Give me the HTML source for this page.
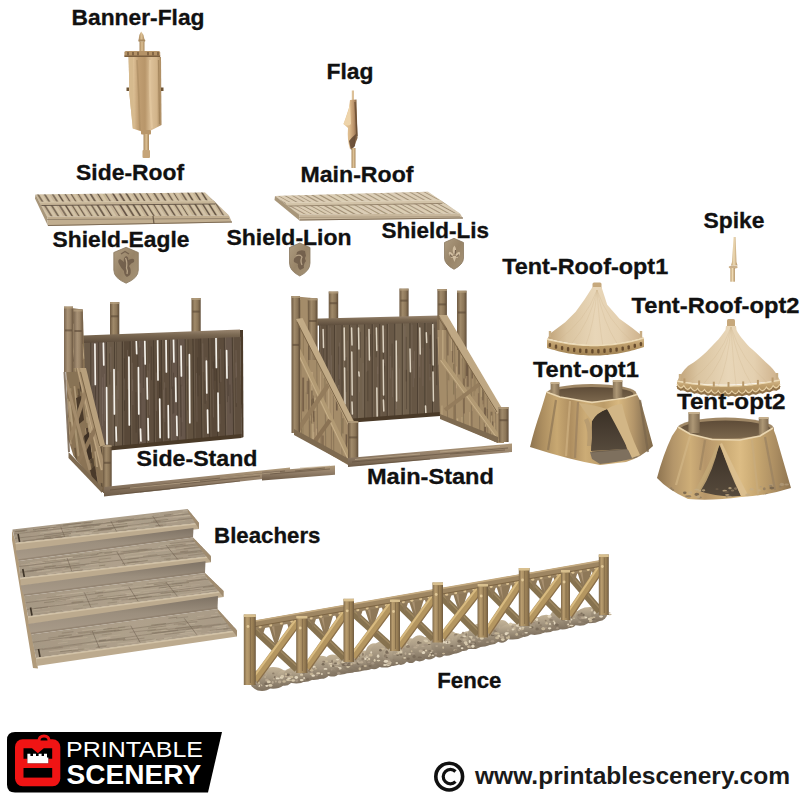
<!DOCTYPE html>
<html><head><meta charset="utf-8">
<style>
html,body{margin:0;padding:0;background:#fff;width:800px;height:800px;overflow:hidden}
svg{position:absolute;left:0;top:0;display:block}
.t{font-family:"Liberation Sans",sans-serif;font-weight:bold;font-size:22px;fill:#111;stroke:#111;stroke-width:0.3px}
</style></head>
<body>
<svg width="800" height="800" viewBox="0 0 800 800">
<defs>
<linearGradient id="banG" x1="0" y1="0" x2="1" y2="0"><stop offset="0" stop-color="#c8a87c"/><stop offset="0.12" stop-color="#e2c69c"/><stop offset="0.3" stop-color="#c09e72"/><stop offset="0.5" stop-color="#b8966a"/><stop offset="0.68" stop-color="#dcc098"/><stop offset="0.85" stop-color="#d2b48a"/><stop offset="1" stop-color="#a8885e"/></linearGradient>
<linearGradient id="poleG" x1="0" y1="0" x2="1" y2="0"><stop offset="0" stop-color="#a8875c"/><stop offset="0.5" stop-color="#dcc094"/><stop offset="1" stop-color="#a8875c"/></linearGradient>
<linearGradient id="flagG" x1="0" y1="0" x2="1" y2="0"><stop offset="0" stop-color="#e8cda2"/><stop offset="0.45" stop-color="#dcb98a"/><stop offset="0.75" stop-color="#b89068"/><stop offset="1" stop-color="#6e5236"/></linearGradient>
<linearGradient id="spkG" x1="0" y1="0" x2="1" y2="0"><stop offset="0" stop-color="#b89868"/><stop offset="0.45" stop-color="#f0dcb6"/><stop offset="1" stop-color="#b08e60"/></linearGradient>
<linearGradient id="shG" x1="0" y1="0" x2="1" y2="1"><stop offset="0" stop-color="#ae9c80"/><stop offset="0.5" stop-color="#988468"/><stop offset="1" stop-color="#a69478"/></linearGradient>
<clipPath id="c1"><polygon points="35.5,194.5 205.0,192.5 229.0,215.5 47.0,216.5"/></clipPath>
<clipPath id="c2"><polygon points="275.0,196.0 428.0,191.8 460.0,213.5 299.0,214.5"/></clipPath>
<linearGradient id="postG" x1="0" y1="0" x2="1" y2="0"><stop offset="0" stop-color="#6e5a42"/><stop offset="0.35" stop-color="#a08a6a"/><stop offset="0.7" stop-color="#8c7658"/><stop offset="1" stop-color="#5e4c38"/></linearGradient>
<linearGradient id="sideG" x1="0" y1="0" x2="1" y2="1"><stop offset="0" stop-color="#a08868"/><stop offset="0.5" stop-color="#b09878"/><stop offset="1" stop-color="#8e7858"/></linearGradient>
<linearGradient id="postG2" x1="0" y1="0" x2="1" y2="0"><stop offset="0" stop-color="#7a6650"/><stop offset="0.4" stop-color="#a89276"/><stop offset="0.7" stop-color="#9a8468"/><stop offset="1" stop-color="#6e5a44"/></linearGradient>
<linearGradient id="trG" x1="0" y1="0" x2="0" y2="1"><stop offset="0" stop-color="#9a8670"/><stop offset="0.4" stop-color="#7a6852"/><stop offset="1" stop-color="#5a4a3a"/></linearGradient>
<linearGradient id="railG" x1="0" y1="0" x2="0" y2="1"><stop offset="0" stop-color="#b09a7a"/><stop offset="0.45" stop-color="#94806a"/><stop offset="1" stop-color="#6e5c48"/></linearGradient>
<clipPath id="c3"><polygon points="64.0,307.0 82.7,309.5 85.0,372.0 104.5,445.0 111.5,493.0 102.0,492.0 73.5,456.0 68.5,440.0"/></clipPath>
<clipPath id="c4"><polygon points="64.0,307.0 82.7,309.5 85.0,372.0 104.5,445.0 111.5,493.0 102.0,492.0 73.5,456.0 68.5,440.0"/></clipPath>
<clipPath id="c5"><polygon points="437.0,316.0 447.0,316.0 502.0,410.0 504.0,443.0 498.0,443.0 440.0,418.0"/></clipPath>
<clipPath id="c6"><polygon points="437.0,316.0 447.0,316.0 502.0,410.0 504.0,443.0 498.0,443.0 440.0,418.0"/></clipPath>
<clipPath id="c7"><polygon points="291.5,296.0 317.4,298.4 317.4,357.0 354.0,421.0 358.0,421.0 358.0,465.0 348.0,465.0 294.0,433.0"/></clipPath>
<clipPath id="c8"><polygon points="291.5,296.0 317.4,298.4 317.4,357.0 354.0,421.0 358.0,421.0 358.0,465.0 348.0,465.0 294.0,433.0"/></clipPath>
<linearGradient id="coneG" x1="0" y1="0" x2="1" y2="0"><stop offset="0" stop-color="#c0a278"/><stop offset="0.2" stop-color="#dac4a0"/><stop offset="0.5" stop-color="#e8d6b8"/><stop offset="0.75" stop-color="#e4d0b0"/><stop offset="1" stop-color="#cdb08a"/></linearGradient>
<linearGradient id="bandG" x1="0" y1="0" x2="0" y2="1"><stop offset="0" stop-color="#d8bc8e"/><stop offset="0.35" stop-color="#bf9f6c"/><stop offset="1" stop-color="#9e8052"/></linearGradient>
<linearGradient id="tentG" x1="0" y1="0" x2="1" y2="0"><stop offset="0" stop-color="#8e7450"/><stop offset="0.1" stop-color="#ac8e60"/><stop offset="0.22" stop-color="#c8a872"/><stop offset="0.33" stop-color="#ae8e60"/><stop offset="0.45" stop-color="#ccac76"/><stop offset="0.6" stop-color="#bc9c68"/><stop offset="0.72" stop-color="#d8b880"/><stop offset="0.84" stop-color="#b4966a"/><stop offset="0.92" stop-color="#927a58"/><stop offset="1" stop-color="#806a4a"/></linearGradient>
<linearGradient id="tentG2" x1="0" y1="0" x2="1" y2="0"><stop offset="0" stop-color="#8e7450"/><stop offset="0.12" stop-color="#b4966a"/><stop offset="0.25" stop-color="#ceae78"/><stop offset="0.36" stop-color="#b6966a"/><stop offset="0.5" stop-color="#caaa74"/><stop offset="0.62" stop-color="#dcbc84"/><stop offset="0.75" stop-color="#c6a670"/><stop offset="0.88" stop-color="#ac8e62"/><stop offset="1" stop-color="#8e7450"/></linearGradient>
<linearGradient id="tpG" x1="0" y1="0" x2="1" y2="0"><stop offset="0" stop-color="#8a765a"/><stop offset="0.4" stop-color="#ae9876"/><stop offset="1" stop-color="#7e6a50"/></linearGradient>
<linearGradient id="inG" x1="0" y1="0" x2="0" y2="1"><stop offset="0" stop-color="#5e4c38"/><stop offset="1" stop-color="#7a664c"/></linearGradient>
<linearGradient id="darkG" x1="0" y1="0" x2="0" y2="1"><stop offset="0" stop-color="#3a3026"/><stop offset="1" stop-color="#564a3c"/></linearGradient>
<clipPath id="t2c"><path d="M678 427 L690 434 L712 439.5 L740 440 L760 436 L773 428 L776 436 L791 488 Q766 496 741 497 Q712 501 688 499 Q668 490 657 478 Q663 455 672 436 Z"/></clipPath>
<linearGradient id="treadG" x1="0" y1="0" x2="1" y2="0"><stop offset="0" stop-color="#a69884"/><stop offset="0.5" stop-color="#afa18c"/><stop offset="1" stop-color="#a89a86"/></linearGradient>
<linearGradient id="riserG" x1="0" y1="0" x2="0" y2="1"><stop offset="0" stop-color="#7e7264"/><stop offset="0.45" stop-color="#9c8f7e"/><stop offset="1" stop-color="#aa9c8a"/></linearGradient>
<clipPath id="c9"><polygon points="12.5,529.5 187.5,509.0 199.0,523.0 15.6,543.0"/></clipPath>
<clipPath id="c10"><polygon points="18.5,561.0 193.0,537.5 211.0,556.3 20.3,578.0"/></clipPath>
<clipPath id="c11"><polygon points="24.0,596.0 205.0,573.0 223.5,591.0 28.0,616.5"/></clipPath>
<clipPath id="c12"><polygon points="31.0,634.6 217.5,609.0 237.0,630.4 36.0,658.0"/></clipPath>
<linearGradient id="fpG" x1="0" y1="0" x2="1" y2="0"><stop offset="0" stop-color="#7e6848"/><stop offset="0.25" stop-color="#b89c6e"/><stop offset="0.5" stop-color="#a88e62"/><stop offset="0.8" stop-color="#927850"/><stop offset="1" stop-color="#6e5a40"/></linearGradient>
<linearGradient id="rubG" x1="0" y1="0" x2="0" y2="1"><stop offset="0" stop-color="#c4b498"/><stop offset="0.5" stop-color="#a49680"/><stop offset="1" stop-color="#7e705e"/></linearGradient>
</defs>
<rect width="800" height="800" fill="#ffffff"/>

<!-- OBJECTS -->
<g id="objects">
<path d="M141.2 31.5 L143.5 35 L144.6 40 L138.6 40 L139.3 35 Z" fill="url(#poleG)"/>
<rect x="138.3" y="39.5" width="7" height="2.2" rx="1" fill="#a88a60"/>
<rect x="139.5" y="41.5" width="5" height="10" fill="url(#poleG)"/>
<path d="M128.6 57 L161 57 L161.5 125 L146 133 L132.8 128.5 L129.5 95 Z" fill="url(#banG)"/>
<path d="M128.6 57 L133 57 L134 128.5 L132.8 128.5 L129.5 95 Z" fill="#d6ba8e"/>
<path d="M137 60 Q139 95 140 130" stroke="#a88a60" stroke-width="1.6" fill="none" opacity="0.6"/>
<path d="M150 60 Q149 95 152 128" stroke="#e6cca4" stroke-width="2" fill="none" opacity="0.6"/>
<path d="M158.5 60 L159.5 124" stroke="#9a7c54" stroke-width="1.2" fill="none" opacity="0.7"/>
<rect x="124.4" y="51" width="35.8" height="6" rx="1.5" fill="#b49266"/>
<rect x="124.4" y="55.5" width="35.8" height="1.5" fill="#7a5e3e"/>
<rect x="127" y="52" width="2" height="3.5" fill="#846746"/>
<rect x="132" y="52" width="2" height="3.5" fill="#846746"/>
<rect x="137" y="52" width="2" height="3.5" fill="#846746"/>
<rect x="147" y="52" width="2" height="3.5" fill="#846746"/>
<rect x="152" y="52" width="2" height="3.5" fill="#846746"/>
<rect x="157" y="52" width="2" height="3.5" fill="#846746"/>
<rect x="126.5" y="87.5" width="2.5" height="3.5" fill="#6e5536"/><rect x="161" y="87.5" width="2.5" height="3.5" fill="#6e5536"/>
<rect x="141" y="130" width="10" height="4.5" rx="1" fill="#b8966a"/>
<rect x="143.5" y="134" width="5.5" height="17" fill="url(#poleG)"/>
<rect x="142.5" y="150" width="7.5" height="8" rx="1" fill="#c6a478"/>
<rect x="351.8" y="90.5" width="2.2" height="11" fill="#dcc098"/>
<path d="M350 100 L356.5 99.5 L357.5 138 L354 147 L350 149 Q347 140 348 128 L343.5 124 Q346 117 349 108 Z" fill="url(#flagG)"/>
<path d="M343.5 124 Q347 116 350 104 L351 124 Q348 127 343.5 124 Z" fill="#eed4aa"/>
<path d="M349 141 Q352 137 356 134 L355 146 L351 150 Z" fill="#5e4430" opacity="0.85"/>
<path d="M355 102 L357 136" stroke="#6a4c32" stroke-width="1.4" opacity="0.8"/>
<rect x="351.5" y="148" width="4" height="20" fill="url(#poleG)"/>
<path d="M733.6 237 L735.6 237 L736.5 262 L737.5 265.5 L731 265.5 L732 262 Z" fill="url(#spkG)"/>
<ellipse cx="733.2" cy="267" rx="4.5" ry="1.6" fill="#cbb08a"/>
<rect x="730.4" y="268" width="4.5" height="13.7" fill="url(#spkG)"/>
<path d="M113.8 252.5 L126.1 247.3 L138.3 252.5 L138.3 270.0 Q138.3 278.2 126.1 283.2 Q113.8 278.2 113.8 270.0 Z" fill="url(#shG)"/>
<path d="M113.8 252.5 L126.1 247.3 L138.3 252.5 L138.3 270.0 Q138.3 278.2 126.1 283.2 Q113.8 278.2 113.8 270.0 Z" fill="none" stroke="#8a7860" stroke-width="0.8"/>
<path d="M126 256 Q129 257 128 260 L131 259 Q135 258 134 262 Q131 263 129 266 Q132 270 130 275 L127 277 Q124 275 124 271 Q121 268 119 264 Q117 260 120 259 Q123 261 124 262 Q123 258 126 256 Z" fill="#6a5846" opacity="0.8"/><path d="M125.5 258 Q127.5 262 126.5 268 Q128 271 127 274" stroke="#c8b496" stroke-width="1.3" fill="none" opacity="0.8"/><path d="M121 254 L125 251.5 L129 254" stroke="#6a5846" stroke-width="1.4" fill="none" opacity="0.8"/>
<path d="M289.5 247.5 L299.8 243.0 L310.0 247.5 L310.0 263.0 Q310.0 271.0 299.8 276.0 Q289.5 271.0 289.5 263.0 Z" fill="url(#shG)"/>
<path d="M289.5 247.5 L299.8 243.0 L310.0 247.5 L310.0 263.0 Q310.0 271.0 299.8 276.0 Q289.5 271.0 289.5 263.0 Z" fill="none" stroke="#8a7860" stroke-width="0.8"/>
<path d="M297 252 Q301 249 305 251 L306 256 Q304 258 306 261 Q303 264 304 268 L300 270 Q297 267 298 264 L294 262 Q293 258 296 257 Z" fill="#6a5846" opacity="0.8"/><path d="M296 256 Q300 254 302 257 Q300 261 302 265" stroke="#c8b496" stroke-width="1.3" fill="none" opacity="0.8"/>
<path d="M444.5 242.5 L454.0 238.3 L463.5 242.5 L463.5 258.0 Q463.5 264.3 454.0 269.3 Q444.5 264.3 444.5 258.0 Z" fill="url(#shG)"/>
<path d="M444.5 242.5 L454.0 238.3 L463.5 242.5 L463.5 258.0 Q463.5 264.3 454.0 269.3 Q444.5 264.3 444.5 258.0 Z" fill="none" stroke="#8a7860" stroke-width="0.8"/>
<path d="M454.4 245.5 Q457.5 249.5 455 254.5 L453.8 254.5 Q451.3 249.5 454.4 245.5 Z M453.5 254.5 Q448.5 249.5 448.8 254 Q449.3 257 452.3 256.3 Z M455.3 254.5 Q460.3 249.5 460 254 Q459.5 257 456.5 256.3 Z M450.8 256 H458 V257.8 H450.8 Z M452.8 257.8 L454.4 262 L456 257.8 Z" fill="#d0bda0"/><path d="M450 254.5 Q451 256.5 452.5 256.5 M458.8 254.5 Q457.8 256.5 456.3 256.5 M455.5 250 Q455.5 253 454.8 254.5" stroke="#5a4838" stroke-width="1.1" fill="none" opacity="0.8"/>
<polygon points="35.5,194.5 205.0,192.5 229.0,215.5 47.0,216.5" fill="#c6b598" />
<g clip-path="url(#c1)"><line x1="8.0" y1="190.5" x2="25.5" y2="218.5" stroke="#54463a" stroke-width="1.1" opacity="0.81"/><line x1="11.2" y1="190.5" x2="28.6" y2="218.5" stroke="#dccdb2" stroke-width="2.4" opacity="0.6"/><line x1="15.6" y1="190.5" x2="33.1" y2="218.5" stroke="#54463a" stroke-width="1.2" opacity="0.72"/><line x1="18.7" y1="190.5" x2="36.2" y2="218.5" stroke="#dccdb2" stroke-width="2.4" opacity="0.6"/><line x1="22.4" y1="190.5" x2="39.9" y2="218.5" stroke="#54463a" stroke-width="1.5" opacity="0.80"/><line x1="25.6" y1="190.5" x2="43.1" y2="218.5" stroke="#dccdb2" stroke-width="2.4" opacity="0.6"/><line x1="28.6" y1="190.5" x2="46.1" y2="218.5" stroke="#54463a" stroke-width="1.0" opacity="0.81"/><line x1="31.7" y1="190.5" x2="49.2" y2="218.5" stroke="#dccdb2" stroke-width="2.4" opacity="0.6"/><line x1="35.5" y1="190.5" x2="53.0" y2="218.5" stroke="#54463a" stroke-width="1.6" opacity="0.60"/><line x1="38.6" y1="190.5" x2="56.1" y2="218.5" stroke="#dccdb2" stroke-width="2.4" opacity="0.6"/><line x1="42.3" y1="190.5" x2="59.8" y2="218.5" stroke="#54463a" stroke-width="1.6" opacity="0.65"/><line x1="45.5" y1="190.5" x2="63.0" y2="218.5" stroke="#dccdb2" stroke-width="2.4" opacity="0.6"/><line x1="50.3" y1="190.5" x2="67.8" y2="218.5" stroke="#54463a" stroke-width="1.7" opacity="0.60"/><line x1="53.4" y1="190.5" x2="70.9" y2="218.5" stroke="#dccdb2" stroke-width="2.4" opacity="0.6"/><line x1="56.3" y1="190.5" x2="73.8" y2="218.5" stroke="#54463a" stroke-width="1.4" opacity="0.83"/><line x1="59.4" y1="190.5" x2="76.9" y2="218.5" stroke="#dccdb2" stroke-width="2.4" opacity="0.6"/><line x1="63.0" y1="190.5" x2="80.5" y2="218.5" stroke="#54463a" stroke-width="1.2" opacity="0.70"/><line x1="66.2" y1="190.5" x2="83.7" y2="218.5" stroke="#dccdb2" stroke-width="2.4" opacity="0.6"/><line x1="69.0" y1="190.5" x2="86.5" y2="218.5" stroke="#54463a" stroke-width="1.2" opacity="0.71"/><line x1="72.2" y1="190.5" x2="89.7" y2="218.5" stroke="#dccdb2" stroke-width="2.4" opacity="0.6"/><line x1="76.0" y1="190.5" x2="93.5" y2="218.5" stroke="#54463a" stroke-width="1.2" opacity="0.65"/><line x1="79.2" y1="190.5" x2="96.7" y2="218.5" stroke="#dccdb2" stroke-width="2.4" opacity="0.6"/><line x1="82.4" y1="190.5" x2="99.9" y2="218.5" stroke="#54463a" stroke-width="1.4" opacity="0.67"/><line x1="85.6" y1="190.5" x2="103.1" y2="218.5" stroke="#dccdb2" stroke-width="2.4" opacity="0.6"/><line x1="88.4" y1="190.5" x2="105.9" y2="218.5" stroke="#54463a" stroke-width="1.7" opacity="0.74"/><line x1="91.6" y1="190.5" x2="109.1" y2="218.5" stroke="#dccdb2" stroke-width="2.4" opacity="0.6"/><line x1="95.7" y1="190.5" x2="113.2" y2="218.5" stroke="#54463a" stroke-width="1.1" opacity="0.85"/><line x1="98.9" y1="190.5" x2="116.4" y2="218.5" stroke="#dccdb2" stroke-width="2.4" opacity="0.6"/><line x1="103.5" y1="190.5" x2="121.0" y2="218.5" stroke="#54463a" stroke-width="1.1" opacity="0.68"/><line x1="106.6" y1="190.5" x2="124.1" y2="218.5" stroke="#dccdb2" stroke-width="2.4" opacity="0.6"/><line x1="111.0" y1="190.5" x2="128.5" y2="218.5" stroke="#54463a" stroke-width="1.6" opacity="0.83"/><line x1="114.1" y1="190.5" x2="131.6" y2="218.5" stroke="#dccdb2" stroke-width="2.4" opacity="0.6"/><line x1="117.8" y1="190.5" x2="135.3" y2="218.5" stroke="#54463a" stroke-width="1.7" opacity="0.77"/><line x1="120.9" y1="190.5" x2="138.4" y2="218.5" stroke="#dccdb2" stroke-width="2.4" opacity="0.6"/><line x1="124.4" y1="190.5" x2="141.9" y2="218.5" stroke="#54463a" stroke-width="1.5" opacity="0.82"/><line x1="127.5" y1="190.5" x2="145.0" y2="218.5" stroke="#dccdb2" stroke-width="2.4" opacity="0.6"/><line x1="132.1" y1="190.5" x2="149.6" y2="218.5" stroke="#54463a" stroke-width="1.4" opacity="0.75"/><line x1="135.3" y1="190.5" x2="152.8" y2="218.5" stroke="#dccdb2" stroke-width="2.4" opacity="0.6"/><line x1="138.1" y1="190.5" x2="155.6" y2="218.5" stroke="#54463a" stroke-width="1.2" opacity="0.80"/><line x1="141.3" y1="190.5" x2="158.8" y2="218.5" stroke="#dccdb2" stroke-width="2.4" opacity="0.6"/><line x1="144.9" y1="190.5" x2="162.4" y2="218.5" stroke="#54463a" stroke-width="1.1" opacity="0.73"/><line x1="148.1" y1="190.5" x2="165.6" y2="218.5" stroke="#dccdb2" stroke-width="2.4" opacity="0.6"/><line x1="152.4" y1="190.5" x2="169.9" y2="218.5" stroke="#54463a" stroke-width="1.5" opacity="0.69"/><line x1="155.5" y1="190.5" x2="173.0" y2="218.5" stroke="#dccdb2" stroke-width="2.4" opacity="0.6"/><line x1="159.2" y1="190.5" x2="176.7" y2="218.5" stroke="#54463a" stroke-width="1.4" opacity="0.79"/><line x1="162.4" y1="190.5" x2="179.9" y2="218.5" stroke="#dccdb2" stroke-width="2.4" opacity="0.6"/><line x1="166.3" y1="190.5" x2="183.8" y2="218.5" stroke="#54463a" stroke-width="1.3" opacity="0.72"/><line x1="169.4" y1="190.5" x2="186.9" y2="218.5" stroke="#dccdb2" stroke-width="2.4" opacity="0.6"/><line x1="172.3" y1="190.5" x2="189.8" y2="218.5" stroke="#54463a" stroke-width="1.0" opacity="0.77"/><line x1="175.5" y1="190.5" x2="193.0" y2="218.5" stroke="#dccdb2" stroke-width="2.4" opacity="0.6"/><line x1="180.3" y1="190.5" x2="197.8" y2="218.5" stroke="#54463a" stroke-width="1.5" opacity="0.70"/><line x1="183.5" y1="190.5" x2="201.0" y2="218.5" stroke="#dccdb2" stroke-width="2.4" opacity="0.6"/><line x1="186.6" y1="190.5" x2="204.1" y2="218.5" stroke="#54463a" stroke-width="1.4" opacity="0.85"/><line x1="189.8" y1="190.5" x2="207.3" y2="218.5" stroke="#dccdb2" stroke-width="2.4" opacity="0.6"/><line x1="194.2" y1="190.5" x2="211.7" y2="218.5" stroke="#54463a" stroke-width="1.4" opacity="0.81"/><line x1="197.3" y1="190.5" x2="214.8" y2="218.5" stroke="#dccdb2" stroke-width="2.4" opacity="0.6"/><line x1="200.6" y1="190.5" x2="218.1" y2="218.5" stroke="#54463a" stroke-width="1.4" opacity="0.84"/><line x1="203.8" y1="190.5" x2="221.3" y2="218.5" stroke="#dccdb2" stroke-width="2.4" opacity="0.6"/><line x1="207.8" y1="190.5" x2="225.3" y2="218.5" stroke="#54463a" stroke-width="1.4" opacity="0.66"/><line x1="210.9" y1="190.5" x2="228.4" y2="218.5" stroke="#dccdb2" stroke-width="2.4" opacity="0.6"/><line x1="214.9" y1="190.5" x2="232.4" y2="218.5" stroke="#54463a" stroke-width="1.8" opacity="0.60"/><line x1="218.0" y1="190.5" x2="235.5" y2="218.5" stroke="#dccdb2" stroke-width="2.4" opacity="0.6"/><line x1="222.5" y1="190.5" x2="240.0" y2="218.5" stroke="#54463a" stroke-width="1.7" opacity="0.82"/><line x1="225.6" y1="190.5" x2="243.1" y2="218.5" stroke="#dccdb2" stroke-width="2.4" opacity="0.6"/><line x1="230.0" y1="190.5" x2="247.5" y2="218.5" stroke="#54463a" stroke-width="1.7" opacity="0.73"/><line x1="233.1" y1="190.5" x2="250.6" y2="218.5" stroke="#dccdb2" stroke-width="2.4" opacity="0.6"/><line x1="237.1" y1="190.5" x2="254.6" y2="218.5" stroke="#54463a" stroke-width="1.3" opacity="0.61"/><line x1="240.3" y1="190.5" x2="257.8" y2="218.5" stroke="#dccdb2" stroke-width="2.4" opacity="0.6"/><line x1="40.3" y1="203.7" x2="215.1" y2="202.2" stroke="#c6b598" stroke-width="3.4"/><line x1="40.3" y1="205.5" x2="215.1" y2="204.0" stroke="#54463a" stroke-width="1" opacity="0.8"/><line x1="40.3" y1="202.2" x2="215.1" y2="200.7" stroke="#dccdb2" stroke-width="1" opacity="0.7"/></g>
<polygon points="35.5,194.5 47.0,216.5 48.0,226.0 35.0,198.5" fill="#a8967a" />
<polygon points="47.0,216.5 229.0,215.5 232.0,222.5 48.0,226.0" fill="#c1ae90" />
<line x1="47.0" y1="219.5" x2="229.0" y2="218.5" stroke="#54463a" stroke-width="0.8" opacity="0.5"/>
<line x1="48.0" y1="225.5" x2="232.0" y2="222.0" stroke="#7e6c56" stroke-width="1"/>
<line x1="153.0" y1="216.0" x2="154.0" y2="224.0" stroke="#6e5e4a" stroke-width="1.2"/>
<polygon points="275.0,196.0 428.0,191.8 460.0,213.5 299.0,214.5" fill="#d2c3a8" />
<g clip-path="url(#c2)"><line x1="216.5" y1="189.8" x2="265.0" y2="216.5" stroke="#8c7a62" stroke-width="1.5" opacity="0.69"/><line x1="219.8" y1="189.8" x2="268.4" y2="216.5" stroke="#e4d8c2" stroke-width="2.6" opacity="0.6"/><line x1="223.0" y1="189.8" x2="271.5" y2="216.5" stroke="#8c7a62" stroke-width="0.9" opacity="0.67"/><line x1="226.3" y1="189.8" x2="274.9" y2="216.5" stroke="#e4d8c2" stroke-width="2.6" opacity="0.6"/><line x1="231.0" y1="189.8" x2="279.5" y2="216.5" stroke="#8c7a62" stroke-width="1.3" opacity="0.55"/><line x1="234.4" y1="189.8" x2="282.9" y2="216.5" stroke="#e4d8c2" stroke-width="2.6" opacity="0.6"/><line x1="238.7" y1="189.8" x2="287.3" y2="216.5" stroke="#8c7a62" stroke-width="1.3" opacity="0.61"/><line x1="242.1" y1="189.8" x2="290.6" y2="216.5" stroke="#e4d8c2" stroke-width="2.6" opacity="0.6"/><line x1="245.5" y1="189.8" x2="294.0" y2="216.5" stroke="#8c7a62" stroke-width="1.2" opacity="0.57"/><line x1="248.8" y1="189.8" x2="297.4" y2="216.5" stroke="#e4d8c2" stroke-width="2.6" opacity="0.6"/><line x1="253.5" y1="189.8" x2="302.0" y2="216.5" stroke="#8c7a62" stroke-width="1.6" opacity="0.69"/><line x1="256.8" y1="189.8" x2="305.4" y2="216.5" stroke="#e4d8c2" stroke-width="2.6" opacity="0.6"/><line x1="261.1" y1="189.8" x2="309.6" y2="216.5" stroke="#8c7a62" stroke-width="1.2" opacity="0.55"/><line x1="264.4" y1="189.8" x2="313.0" y2="216.5" stroke="#e4d8c2" stroke-width="2.6" opacity="0.6"/><line x1="267.5" y1="189.8" x2="316.1" y2="216.5" stroke="#8c7a62" stroke-width="0.9" opacity="0.59"/><line x1="270.9" y1="189.8" x2="319.4" y2="216.5" stroke="#e4d8c2" stroke-width="2.6" opacity="0.6"/><line x1="274.6" y1="189.8" x2="323.2" y2="216.5" stroke="#8c7a62" stroke-width="1.1" opacity="0.68"/><line x1="278.0" y1="189.8" x2="326.5" y2="216.5" stroke="#e4d8c2" stroke-width="2.6" opacity="0.6"/><line x1="282.2" y1="189.8" x2="330.7" y2="216.5" stroke="#8c7a62" stroke-width="1.2" opacity="0.54"/><line x1="285.5" y1="189.8" x2="334.1" y2="216.5" stroke="#e4d8c2" stroke-width="2.6" opacity="0.6"/><line x1="288.6" y1="189.8" x2="337.1" y2="216.5" stroke="#8c7a62" stroke-width="1.1" opacity="0.52"/><line x1="292.0" y1="189.8" x2="340.5" y2="216.5" stroke="#e4d8c2" stroke-width="2.6" opacity="0.6"/><line x1="296.1" y1="189.8" x2="344.7" y2="216.5" stroke="#8c7a62" stroke-width="1.6" opacity="0.63"/><line x1="299.5" y1="189.8" x2="348.0" y2="216.5" stroke="#e4d8c2" stroke-width="2.6" opacity="0.6"/><line x1="302.9" y1="189.8" x2="351.4" y2="216.5" stroke="#8c7a62" stroke-width="1.5" opacity="0.66"/><line x1="306.3" y1="189.8" x2="354.8" y2="216.5" stroke="#e4d8c2" stroke-width="2.6" opacity="0.6"/><line x1="310.9" y1="189.8" x2="359.5" y2="216.5" stroke="#8c7a62" stroke-width="1.5" opacity="0.65"/><line x1="314.3" y1="189.8" x2="362.8" y2="216.5" stroke="#e4d8c2" stroke-width="2.6" opacity="0.6"/><line x1="319.1" y1="189.8" x2="367.6" y2="216.5" stroke="#8c7a62" stroke-width="1.1" opacity="0.70"/><line x1="322.5" y1="189.8" x2="371.0" y2="216.5" stroke="#e4d8c2" stroke-width="2.6" opacity="0.6"/><line x1="327.6" y1="189.8" x2="376.2" y2="216.5" stroke="#8c7a62" stroke-width="1.0" opacity="0.65"/><line x1="331.0" y1="189.8" x2="379.5" y2="216.5" stroke="#e4d8c2" stroke-width="2.6" opacity="0.6"/><line x1="335.6" y1="189.8" x2="384.1" y2="216.5" stroke="#8c7a62" stroke-width="1.2" opacity="0.60"/><line x1="339.0" y1="189.8" x2="387.5" y2="216.5" stroke="#e4d8c2" stroke-width="2.6" opacity="0.6"/><line x1="343.1" y1="189.8" x2="391.6" y2="216.5" stroke="#8c7a62" stroke-width="1.5" opacity="0.60"/><line x1="346.5" y1="189.8" x2="395.0" y2="216.5" stroke="#e4d8c2" stroke-width="2.6" opacity="0.6"/><line x1="351.3" y1="189.8" x2="399.9" y2="216.5" stroke="#8c7a62" stroke-width="1.1" opacity="0.68"/><line x1="354.7" y1="189.8" x2="403.2" y2="216.5" stroke="#e4d8c2" stroke-width="2.6" opacity="0.6"/><line x1="359.7" y1="189.8" x2="408.3" y2="216.5" stroke="#8c7a62" stroke-width="1.2" opacity="0.61"/><line x1="363.1" y1="189.8" x2="411.6" y2="216.5" stroke="#e4d8c2" stroke-width="2.6" opacity="0.6"/><line x1="368.2" y1="189.8" x2="416.7" y2="216.5" stroke="#8c7a62" stroke-width="1.4" opacity="0.59"/><line x1="371.5" y1="189.8" x2="420.1" y2="216.5" stroke="#e4d8c2" stroke-width="2.6" opacity="0.6"/><line x1="375.0" y1="189.8" x2="423.6" y2="216.5" stroke="#8c7a62" stroke-width="1.1" opacity="0.64"/><line x1="378.4" y1="189.8" x2="427.0" y2="216.5" stroke="#e4d8c2" stroke-width="2.6" opacity="0.6"/><line x1="381.8" y1="189.8" x2="430.3" y2="216.5" stroke="#8c7a62" stroke-width="1.5" opacity="0.55"/><line x1="385.2" y1="189.8" x2="433.7" y2="216.5" stroke="#e4d8c2" stroke-width="2.6" opacity="0.6"/><line x1="390.2" y1="189.8" x2="438.8" y2="216.5" stroke="#8c7a62" stroke-width="1.1" opacity="0.69"/><line x1="393.6" y1="189.8" x2="442.1" y2="216.5" stroke="#e4d8c2" stroke-width="2.6" opacity="0.6"/><line x1="398.2" y1="189.8" x2="446.7" y2="216.5" stroke="#8c7a62" stroke-width="1.2" opacity="0.60"/><line x1="401.6" y1="189.8" x2="450.1" y2="216.5" stroke="#e4d8c2" stroke-width="2.6" opacity="0.6"/><line x1="406.0" y1="189.8" x2="454.6" y2="216.5" stroke="#8c7a62" stroke-width="1.3" opacity="0.56"/><line x1="409.4" y1="189.8" x2="457.9" y2="216.5" stroke="#e4d8c2" stroke-width="2.6" opacity="0.6"/><line x1="412.9" y1="189.8" x2="461.4" y2="216.5" stroke="#8c7a62" stroke-width="1.2" opacity="0.69"/><line x1="416.2" y1="189.8" x2="464.8" y2="216.5" stroke="#e4d8c2" stroke-width="2.6" opacity="0.6"/><line x1="420.6" y1="189.8" x2="469.2" y2="216.5" stroke="#8c7a62" stroke-width="0.9" opacity="0.66"/><line x1="424.0" y1="189.8" x2="472.6" y2="216.5" stroke="#e4d8c2" stroke-width="2.6" opacity="0.6"/><line x1="428.7" y1="189.8" x2="477.2" y2="216.5" stroke="#8c7a62" stroke-width="1.5" opacity="0.53"/><line x1="432.0" y1="189.8" x2="480.6" y2="216.5" stroke="#e4d8c2" stroke-width="2.6" opacity="0.6"/><line x1="436.7" y1="189.8" x2="485.2" y2="216.5" stroke="#8c7a62" stroke-width="0.9" opacity="0.63"/><line x1="440.1" y1="189.8" x2="488.6" y2="216.5" stroke="#e4d8c2" stroke-width="2.6" opacity="0.6"/><line x1="443.7" y1="189.8" x2="492.2" y2="216.5" stroke="#8c7a62" stroke-width="1.0" opacity="0.67"/><line x1="447.1" y1="189.8" x2="495.6" y2="216.5" stroke="#e4d8c2" stroke-width="2.6" opacity="0.6"/><line x1="450.3" y1="189.8" x2="498.9" y2="216.5" stroke="#8c7a62" stroke-width="1.2" opacity="0.67"/><line x1="453.7" y1="189.8" x2="502.2" y2="216.5" stroke="#e4d8c2" stroke-width="2.6" opacity="0.6"/><line x1="457.2" y1="189.8" x2="505.8" y2="216.5" stroke="#8c7a62" stroke-width="1.0" opacity="0.67"/><line x1="460.6" y1="189.8" x2="509.2" y2="216.5" stroke="#e4d8c2" stroke-width="2.6" opacity="0.6"/><line x1="464.6" y1="189.8" x2="513.1" y2="216.5" stroke="#8c7a62" stroke-width="1.4" opacity="0.50"/><line x1="467.9" y1="189.8" x2="516.5" y2="216.5" stroke="#e4d8c2" stroke-width="2.6" opacity="0.6"/><line x1="285.8" y1="204.3" x2="442.4" y2="201.6" stroke="#d2c3a8" stroke-width="3.4"/><line x1="285.8" y1="206.1" x2="442.4" y2="203.4" stroke="#8c7a62" stroke-width="1" opacity="0.8"/><line x1="285.8" y1="202.8" x2="442.4" y2="200.1" stroke="#e4d8c2" stroke-width="1" opacity="0.7"/></g>
<polygon points="275.0,196.0 299.0,214.5 299.5,220.5 274.5,200.0" fill="#a8967a" />
<polygon points="299.0,214.5 460.0,213.5 463.0,218.5 299.5,220.5" fill="#c8b79c" />
<line x1="299.0" y1="217.5" x2="460.0" y2="216.5" stroke="#8c7a62" stroke-width="0.8" opacity="0.5"/>
<line x1="299.5" y1="220.0" x2="463.0" y2="218.0" stroke="#7e6c56" stroke-width="1"/>
<rect x="110.0" y="302.0" width="9.3" height="38.0" fill="url(#postG)"/>
<rect x="110.0" y="302.0" width="9.3" height="2" fill="#b8a282" opacity="0.7"/>
<rect x="111.0" y="315.3" width="7.3" height="2" fill="#5a4836" opacity="0.6"/>
<rect x="191.5" y="298.0" width="9.2" height="36.0" fill="url(#postG)"/>
<rect x="191.5" y="298.0" width="9.2" height="2" fill="#b8a282" opacity="0.7"/>
<rect x="192.5" y="310.6" width="7.2" height="2" fill="#5a4836" opacity="0.6"/>
<polygon points="83.0,342.0 240.0,336.0 241.5,437.0 83.0,452.0" fill="#54463a" />
<polygon points="83.0,342.0 90.8,341.7 90.9,451.2 83.0,452.0" fill="#6a5a48" />
<line x1="84.2" y1="342.0" x2="84.2" y2="452.0" stroke="#7e6e5c" stroke-width="0.8" opacity="0.6"/>
<line x1="83.0" y1="342.0" x2="83.0" y2="452.0" stroke="#3e3226" stroke-width="0.8" opacity="0.7"/>
<line x1="88.7" y1="388.8" x2="88.7" y2="436.4" stroke="#86766a" stroke-width="0.7" opacity="0.5"/>
<line x1="87.0" y1="374.1" x2="87.0" y2="402.1" stroke="#86766a" stroke-width="0.7" opacity="0.5"/>
<line x1="87.6" y1="385.3" x2="87.6" y2="410.4" stroke="#86766a" stroke-width="0.7" opacity="0.5"/>
<polygon points="90.8,341.7 98.7,341.4 98.8,450.5 90.9,451.2" fill="#66564a" />
<line x1="92.0" y1="341.7" x2="92.1" y2="451.2" stroke="#7e6e5c" stroke-width="0.8" opacity="0.6"/>
<line x1="90.8" y1="341.7" x2="90.9" y2="451.2" stroke="#3e3226" stroke-width="0.8" opacity="0.7"/>
<line x1="92.9" y1="385.9" x2="92.9" y2="430.6" stroke="#3e3226" stroke-width="0.7" opacity="0.5"/>
<line x1="95.2" y1="363.2" x2="95.3" y2="399.9" stroke="#3e3226" stroke-width="0.7" opacity="0.5"/>
<line x1="95.4" y1="387.0" x2="95.4" y2="410.9" stroke="#3e3226" stroke-width="0.7" opacity="0.5"/>
<polygon points="98.7,341.4 106.5,341.1 106.8,449.8 98.8,450.5" fill="#66564a" />
<line x1="99.9" y1="341.4" x2="100.0" y2="450.5" stroke="#7e6e5c" stroke-width="0.8" opacity="0.6"/>
<line x1="98.7" y1="341.4" x2="98.8" y2="450.5" stroke="#3e3226" stroke-width="0.8" opacity="0.7"/>
<line x1="104.5" y1="373.8" x2="104.6" y2="420.9" stroke="#86766a" stroke-width="0.7" opacity="0.5"/>
<line x1="102.4" y1="387.1" x2="102.5" y2="425.9" stroke="#86766a" stroke-width="0.7" opacity="0.5"/>
<line x1="102.7" y1="377.3" x2="102.7" y2="414.0" stroke="#86766a" stroke-width="0.7" opacity="0.5"/>
<polygon points="106.5,341.1 114.4,340.8 114.7,449.0 106.8,449.8" fill="#6a5a48" />
<line x1="107.8" y1="341.1" x2="108.0" y2="449.8" stroke="#7e6e5c" stroke-width="0.8" opacity="0.6"/>
<line x1="106.5" y1="341.1" x2="106.8" y2="449.8" stroke="#3e3226" stroke-width="0.8" opacity="0.7"/>
<line x1="113.0" y1="394.8" x2="113.1" y2="443.7" stroke="#86766a" stroke-width="0.7" opacity="0.5"/>
<line x1="109.6" y1="353.4" x2="109.7" y2="384.5" stroke="#3e3226" stroke-width="0.7" opacity="0.5"/>
<line x1="110.8" y1="346.8" x2="110.8" y2="372.0" stroke="#86766a" stroke-width="0.7" opacity="0.5"/>
<polygon points="114.4,340.8 122.2,340.5 122.6,448.2 114.7,449.0" fill="#6a5a48" />
<line x1="115.6" y1="340.8" x2="115.9" y2="449.0" stroke="#7e6e5c" stroke-width="0.8" opacity="0.6"/>
<line x1="114.4" y1="340.8" x2="114.7" y2="449.0" stroke="#3e3226" stroke-width="0.8" opacity="0.7"/>
<line x1="116.3" y1="341.6" x2="116.4" y2="385.5" stroke="#3e3226" stroke-width="0.7" opacity="0.5"/>
<line x1="117.1" y1="389.9" x2="117.2" y2="426.7" stroke="#86766a" stroke-width="0.7" opacity="0.5"/>
<line x1="118.0" y1="371.2" x2="118.1" y2="399.3" stroke="#86766a" stroke-width="0.7" opacity="0.5"/>
<polygon points="122.2,340.5 130.1,340.2 130.6,447.5 122.6,448.2" fill="#584838" />
<line x1="123.5" y1="340.5" x2="123.8" y2="448.2" stroke="#7e6e5c" stroke-width="0.8" opacity="0.6"/>
<line x1="122.2" y1="340.5" x2="122.6" y2="448.2" stroke="#3e3226" stroke-width="0.8" opacity="0.7"/>
<line x1="124.3" y1="358.3" x2="124.5" y2="411.0" stroke="#3e3226" stroke-width="0.7" opacity="0.5"/>
<line x1="124.6" y1="378.5" x2="124.7" y2="400.3" stroke="#86766a" stroke-width="0.7" opacity="0.5"/>
<line x1="127.6" y1="349.8" x2="127.8" y2="389.4" stroke="#86766a" stroke-width="0.7" opacity="0.5"/>
<polygon points="130.1,340.2 137.9,339.9 138.5,446.8 130.6,447.5" fill="#5c4c3c" />
<line x1="131.3" y1="340.2" x2="131.8" y2="447.5" stroke="#7e6e5c" stroke-width="0.8" opacity="0.6"/>
<line x1="130.1" y1="340.2" x2="130.6" y2="447.5" stroke="#3e3226" stroke-width="0.8" opacity="0.7"/>
<line x1="132.7" y1="379.3" x2="132.9" y2="405.0" stroke="#86766a" stroke-width="0.7" opacity="0.5"/>
<line x1="132.3" y1="362.7" x2="132.4" y2="390.9" stroke="#86766a" stroke-width="0.7" opacity="0.5"/>
<line x1="136.0" y1="392.1" x2="136.2" y2="432.5" stroke="#3e3226" stroke-width="0.7" opacity="0.5"/>
<polygon points="137.9,339.9 145.8,339.6 146.4,446.0 138.5,446.8" fill="#66564a" />
<line x1="139.1" y1="339.9" x2="139.7" y2="446.8" stroke="#7e6e5c" stroke-width="0.8" opacity="0.6"/>
<line x1="137.9" y1="339.9" x2="138.5" y2="446.8" stroke="#3e3226" stroke-width="0.8" opacity="0.7"/>
<line x1="140.7" y1="392.9" x2="140.9" y2="433.6" stroke="#3e3226" stroke-width="0.7" opacity="0.5"/>
<line x1="139.8" y1="347.6" x2="139.9" y2="383.1" stroke="#3e3226" stroke-width="0.7" opacity="0.5"/>
<line x1="143.3" y1="357.2" x2="143.4" y2="388.0" stroke="#3e3226" stroke-width="0.7" opacity="0.5"/>
<polygon points="145.8,339.6 153.7,339.3 154.3,445.2 146.4,446.0" fill="#5e4e3e" />
<line x1="147.0" y1="339.6" x2="147.6" y2="446.0" stroke="#7e6e5c" stroke-width="0.8" opacity="0.6"/>
<line x1="145.8" y1="339.6" x2="146.4" y2="446.0" stroke="#3e3226" stroke-width="0.8" opacity="0.7"/>
<line x1="148.0" y1="370.5" x2="148.1" y2="399.5" stroke="#86766a" stroke-width="0.7" opacity="0.5"/>
<line x1="149.3" y1="363.5" x2="149.6" y2="415.3" stroke="#86766a" stroke-width="0.7" opacity="0.5"/>
<line x1="151.3" y1="346.6" x2="151.5" y2="380.1" stroke="#3e3226" stroke-width="0.7" opacity="0.5"/>
<polygon points="153.7,339.3 161.5,339.0 162.2,444.5 154.3,445.2" fill="#584838" />
<line x1="154.8" y1="339.3" x2="155.5" y2="445.2" stroke="#7e6e5c" stroke-width="0.8" opacity="0.6"/>
<line x1="153.7" y1="339.3" x2="154.3" y2="445.2" stroke="#3e3226" stroke-width="0.8" opacity="0.7"/>
<line x1="159.8" y1="382.3" x2="160.0" y2="411.3" stroke="#3e3226" stroke-width="0.7" opacity="0.5"/>
<line x1="156.2" y1="372.5" x2="156.4" y2="411.2" stroke="#86766a" stroke-width="0.7" opacity="0.5"/>
<line x1="159.6" y1="371.0" x2="159.8" y2="405.4" stroke="#3e3226" stroke-width="0.7" opacity="0.5"/>
<polygon points="161.5,339.0 169.4,338.7 170.2,443.8 162.2,444.5" fill="#5e4e3e" />
<line x1="162.7" y1="339.0" x2="163.4" y2="444.5" stroke="#7e6e5c" stroke-width="0.8" opacity="0.6"/>
<line x1="161.5" y1="339.0" x2="162.2" y2="444.5" stroke="#3e3226" stroke-width="0.8" opacity="0.7"/>
<line x1="163.6" y1="389.7" x2="163.8" y2="418.3" stroke="#86766a" stroke-width="0.7" opacity="0.5"/>
<line x1="164.6" y1="382.3" x2="164.9" y2="422.2" stroke="#86766a" stroke-width="0.7" opacity="0.5"/>
<line x1="165.9" y1="387.8" x2="166.3" y2="439.7" stroke="#3e3226" stroke-width="0.7" opacity="0.5"/>
<polygon points="169.4,338.7 177.2,338.4 178.1,443.0 170.2,443.8" fill="#66564a" />
<line x1="170.6" y1="338.7" x2="171.4" y2="443.8" stroke="#7e6e5c" stroke-width="0.8" opacity="0.6"/>
<line x1="169.4" y1="338.7" x2="170.2" y2="443.8" stroke="#3e3226" stroke-width="0.8" opacity="0.7"/>
<line x1="173.5" y1="372.8" x2="173.8" y2="413.1" stroke="#3e3226" stroke-width="0.7" opacity="0.5"/>
<line x1="172.6" y1="386.7" x2="172.9" y2="414.1" stroke="#3e3226" stroke-width="0.7" opacity="0.5"/>
<line x1="171.4" y1="360.2" x2="171.7" y2="389.0" stroke="#3e3226" stroke-width="0.7" opacity="0.5"/>
<polygon points="177.2,338.4 185.1,338.1 186.0,442.2 178.1,443.0" fill="#66564a" />
<line x1="178.4" y1="338.4" x2="179.3" y2="443.0" stroke="#7e6e5c" stroke-width="0.8" opacity="0.6"/>
<line x1="177.2" y1="338.4" x2="178.1" y2="443.0" stroke="#3e3226" stroke-width="0.8" opacity="0.7"/>
<line x1="180.3" y1="366.0" x2="180.8" y2="417.4" stroke="#3e3226" stroke-width="0.7" opacity="0.5"/>
<line x1="180.9" y1="384.8" x2="181.4" y2="436.4" stroke="#3e3226" stroke-width="0.7" opacity="0.5"/>
<line x1="182.0" y1="386.4" x2="182.3" y2="422.2" stroke="#86766a" stroke-width="0.7" opacity="0.5"/>
<polygon points="185.1,338.1 192.9,337.8 193.9,441.5 186.0,442.2" fill="#625240" />
<line x1="186.2" y1="338.1" x2="187.2" y2="442.2" stroke="#7e6e5c" stroke-width="0.8" opacity="0.6"/>
<line x1="185.1" y1="338.1" x2="186.0" y2="442.2" stroke="#3e3226" stroke-width="0.8" opacity="0.7"/>
<line x1="188.1" y1="339.7" x2="188.5" y2="379.2" stroke="#3e3226" stroke-width="0.7" opacity="0.5"/>
<line x1="189.3" y1="375.9" x2="189.6" y2="406.6" stroke="#3e3226" stroke-width="0.7" opacity="0.5"/>
<line x1="187.2" y1="366.4" x2="187.7" y2="410.2" stroke="#3e3226" stroke-width="0.7" opacity="0.5"/>
<polygon points="192.9,337.8 200.8,337.5 201.9,440.8 193.9,441.5" fill="#584838" />
<line x1="194.1" y1="337.8" x2="195.1" y2="441.5" stroke="#7e6e5c" stroke-width="0.8" opacity="0.6"/>
<line x1="192.9" y1="337.8" x2="193.9" y2="441.5" stroke="#3e3226" stroke-width="0.8" opacity="0.7"/>
<line x1="196.5" y1="373.1" x2="197.0" y2="421.8" stroke="#86766a" stroke-width="0.7" opacity="0.5"/>
<line x1="198.9" y1="339.1" x2="199.3" y2="375.3" stroke="#3e3226" stroke-width="0.7" opacity="0.5"/>
<line x1="197.6" y1="357.4" x2="198.0" y2="396.2" stroke="#3e3226" stroke-width="0.7" opacity="0.5"/>
<polygon points="200.8,337.5 208.6,337.2 209.8,440.0 201.9,440.8" fill="#5e4e3e" />
<line x1="201.9" y1="337.5" x2="203.1" y2="440.8" stroke="#7e6e5c" stroke-width="0.8" opacity="0.6"/>
<line x1="200.8" y1="337.5" x2="201.9" y2="440.8" stroke="#3e3226" stroke-width="0.8" opacity="0.7"/>
<line x1="202.8" y1="343.4" x2="203.1" y2="372.0" stroke="#86766a" stroke-width="0.7" opacity="0.5"/>
<line x1="206.0" y1="357.3" x2="206.5" y2="400.6" stroke="#86766a" stroke-width="0.7" opacity="0.5"/>
<line x1="204.9" y1="380.6" x2="205.1" y2="403.8" stroke="#3e3226" stroke-width="0.7" opacity="0.5"/>
<polygon points="208.6,337.2 216.4,336.9 217.7,439.2 209.8,440.0" fill="#584838" />
<line x1="209.8" y1="337.2" x2="211.0" y2="440.0" stroke="#7e6e5c" stroke-width="0.8" opacity="0.6"/>
<line x1="208.6" y1="337.2" x2="209.8" y2="440.0" stroke="#3e3226" stroke-width="0.8" opacity="0.7"/>
<line x1="213.3" y1="361.7" x2="213.6" y2="389.3" stroke="#3e3226" stroke-width="0.7" opacity="0.5"/>
<line x1="212.9" y1="368.6" x2="213.5" y2="417.4" stroke="#86766a" stroke-width="0.7" opacity="0.5"/>
<line x1="214.6" y1="355.8" x2="214.9" y2="380.7" stroke="#3e3226" stroke-width="0.7" opacity="0.5"/>
<polygon points="216.4,336.9 224.3,336.6 225.7,438.5 217.7,439.2" fill="#5c4c3c" />
<line x1="217.6" y1="336.9" x2="218.9" y2="439.2" stroke="#7e6e5c" stroke-width="0.8" opacity="0.6"/>
<line x1="216.4" y1="336.9" x2="217.7" y2="439.2" stroke="#3e3226" stroke-width="0.8" opacity="0.7"/>
<line x1="219.4" y1="383.1" x2="219.9" y2="423.8" stroke="#86766a" stroke-width="0.7" opacity="0.5"/>
<line x1="220.5" y1="349.1" x2="220.9" y2="381.9" stroke="#86766a" stroke-width="0.7" opacity="0.5"/>
<line x1="219.2" y1="358.8" x2="219.8" y2="404.0" stroke="#3e3226" stroke-width="0.7" opacity="0.5"/>
<polygon points="224.3,336.6 232.2,336.3 233.6,437.8 225.7,438.5" fill="#66564a" />
<line x1="225.5" y1="336.6" x2="226.8" y2="438.5" stroke="#7e6e5c" stroke-width="0.8" opacity="0.6"/>
<line x1="224.3" y1="336.6" x2="225.7" y2="438.5" stroke="#3e3226" stroke-width="0.8" opacity="0.7"/>
<line x1="228.1" y1="366.1" x2="228.5" y2="396.1" stroke="#3e3226" stroke-width="0.7" opacity="0.5"/>
<line x1="226.7" y1="354.4" x2="227.4" y2="402.1" stroke="#3e3226" stroke-width="0.7" opacity="0.5"/>
<line x1="229.9" y1="384.7" x2="230.3" y2="413.4" stroke="#3e3226" stroke-width="0.7" opacity="0.5"/>
<polygon points="232.2,336.3 240.0,336.0 241.5,437.0 233.6,437.8" fill="#5e4e3e" />
<line x1="233.3" y1="336.3" x2="234.8" y2="437.8" stroke="#7e6e5c" stroke-width="0.8" opacity="0.6"/>
<line x1="232.2" y1="336.3" x2="233.6" y2="437.8" stroke="#3e3226" stroke-width="0.8" opacity="0.7"/>
<line x1="236.0" y1="350.1" x2="236.4" y2="376.8" stroke="#86766a" stroke-width="0.7" opacity="0.5"/>
<line x1="235.9" y1="362.5" x2="236.5" y2="403.2" stroke="#86766a" stroke-width="0.7" opacity="0.5"/>
<line x1="235.8" y1="378.1" x2="236.2" y2="406.9" stroke="#3e3226" stroke-width="0.7" opacity="0.5"/>
<line x1="94.9" y1="344.0" x2="95.3" y2="384.5" stroke="#f4f1ea" stroke-width="1.7" stroke-linecap="round"/>
<line x1="103.4" y1="343.0" x2="103.8" y2="365.0" stroke="#f4f1ea" stroke-width="1.7" stroke-linecap="round"/>
<line x1="106.6" y1="387.7" x2="107.0" y2="444.0" stroke="#f4f1ea" stroke-width="1.7" stroke-linecap="round"/>
<line x1="114.0" y1="369.6" x2="114.4" y2="414.0" stroke="#f4f1ea" stroke-width="1.7" stroke-linecap="round"/>
<line x1="116.0" y1="427.0" x2="116.4" y2="441.0" stroke="#f4f1ea" stroke-width="1.7" stroke-linecap="round"/>
<line x1="128.9" y1="357.0" x2="129.3" y2="425.0" stroke="#f4f1ea" stroke-width="1.7" stroke-linecap="round"/>
<line x1="136.3" y1="341.0" x2="136.7" y2="353.7" stroke="#f4f1ea" stroke-width="1.7" stroke-linecap="round"/>
<line x1="138.4" y1="367.5" x2="138.8" y2="414.0" stroke="#f4f1ea" stroke-width="1.7" stroke-linecap="round"/>
<line x1="140.5" y1="429.0" x2="140.9" y2="441.0" stroke="#f4f1ea" stroke-width="1.7" stroke-linecap="round"/>
<line x1="144.8" y1="341.0" x2="145.2" y2="364.0" stroke="#f4f1ea" stroke-width="1.7" stroke-linecap="round"/>
<line x1="147.0" y1="378.0" x2="147.4" y2="399.0" stroke="#f4f1ea" stroke-width="1.7" stroke-linecap="round"/>
<line x1="148.0" y1="418.5" x2="148.4" y2="440.0" stroke="#f4f1ea" stroke-width="1.7" stroke-linecap="round"/>
<line x1="157.6" y1="340.0" x2="158.0" y2="380.0" stroke="#f4f1ea" stroke-width="1.7" stroke-linecap="round"/>
<line x1="159.7" y1="399.0" x2="160.1" y2="437.6" stroke="#f4f1ea" stroke-width="1.7" stroke-linecap="round"/>
<line x1="166.0" y1="340.0" x2="166.4" y2="372.0" stroke="#f4f1ea" stroke-width="1.7" stroke-linecap="round"/>
<line x1="168.2" y1="405.7" x2="168.6" y2="437.6" stroke="#f4f1ea" stroke-width="1.7" stroke-linecap="round"/>
<line x1="173.5" y1="338.8" x2="173.9" y2="362.0" stroke="#f4f1ea" stroke-width="1.7" stroke-linecap="round"/>
<line x1="175.6" y1="378.0" x2="176.0" y2="401.5" stroke="#f4f1ea" stroke-width="1.7" stroke-linecap="round"/>
<line x1="176.7" y1="416.4" x2="177.1" y2="435.5" stroke="#f4f1ea" stroke-width="1.7" stroke-linecap="round"/>
<line x1="181.0" y1="346.0" x2="181.4" y2="376.0" stroke="#f4f1ea" stroke-width="1.7" stroke-linecap="round"/>
<line x1="189.4" y1="354.7" x2="189.8" y2="422.7" stroke="#f4f1ea" stroke-width="1.7" stroke-linecap="round"/>
<line x1="206.4" y1="361.0" x2="206.8" y2="393.0" stroke="#f4f1ea" stroke-width="1.7" stroke-linecap="round"/>
<line x1="207.5" y1="410.0" x2="207.9" y2="433.0" stroke="#f4f1ea" stroke-width="1.7" stroke-linecap="round"/>
<line x1="216.0" y1="337.7" x2="216.4" y2="367.5" stroke="#f4f1ea" stroke-width="1.7" stroke-linecap="round"/>
<line x1="218.0" y1="393.0" x2="218.4" y2="431.0" stroke="#f4f1ea" stroke-width="1.7" stroke-linecap="round"/>
<line x1="226.6" y1="350.5" x2="227.0" y2="378.0" stroke="#f4f1ea" stroke-width="1.7" stroke-linecap="round"/>
<polygon points="83.0,335.5 240.0,329.5 241.5,337.0 83.0,343.0" fill="url(#trG)" />
<polygon points="83.0,449.0 241.5,434.0 241.5,438.0 83.0,453.0" fill="#4a3a28" />
<polygon points="240.0,330.0 243.0,330.0 243.5,437.0 241.5,438.0" fill="#4a3a29" />
<polygon points="64.0,307.0 82.7,309.5 85.0,372.0 104.5,445.0 111.5,493.0 102.0,492.0 73.5,456.0 68.5,440.0" fill="#8a7456" />
<g clip-path="url(#c3)"><line x1="64.6" y1="327.9" x2="67.1" y2="348.5" stroke="#4e3e2e" stroke-width="1.0" opacity="0.46"/><line x1="75.0" y1="447.9" x2="76.5" y2="460.6" stroke="#4e3e2e" stroke-width="1.7" opacity="0.47"/><line x1="89.4" y1="390.3" x2="92.0" y2="411.5" stroke="#8a7456" stroke-width="0.9" opacity="0.41"/><line x1="108.6" y1="381.9" x2="110.4" y2="396.3" stroke="#bca684" stroke-width="1.3" opacity="0.70"/><line x1="75.7" y1="441.7" x2="78.3" y2="463.0" stroke="#8a7456" stroke-width="0.9" opacity="0.43"/><line x1="72.5" y1="332.1" x2="74.1" y2="344.8" stroke="#bca684" stroke-width="0.8" opacity="0.77"/><line x1="105.2" y1="428.1" x2="107.0" y2="443.1" stroke="#bca684" stroke-width="1.8" opacity="0.50"/><line x1="94.4" y1="347.8" x2="95.6" y2="357.1" stroke="#bca684" stroke-width="1.2" opacity="0.69"/><line x1="86.9" y1="428.0" x2="89.1" y2="446.2" stroke="#4e3e2e" stroke-width="2.2" opacity="0.90"/><line x1="101.5" y1="364.0" x2="103.2" y2="377.6" stroke="#8a7456" stroke-width="2.1" opacity="0.82"/><line x1="78.0" y1="339.3" x2="79.1" y2="348.2" stroke="#8a7456" stroke-width="1.3" opacity="0.88"/><line x1="95.8" y1="360.0" x2="97.9" y2="377.8" stroke="#4e3e2e" stroke-width="1.0" opacity="0.50"/><line x1="79.9" y1="381.9" x2="81.0" y2="391.5" stroke="#4e3e2e" stroke-width="1.2" opacity="0.84"/><line x1="94.3" y1="485.7" x2="96.0" y2="500.1" stroke="#4e3e2e" stroke-width="1.8" opacity="0.83"/><line x1="86.6" y1="399.7" x2="90.6" y2="432.9" stroke="#bca684" stroke-width="2.0" opacity="0.89"/><line x1="87.3" y1="416.9" x2="91.5" y2="452.2" stroke="#bca684" stroke-width="1.0" opacity="0.76"/><line x1="96.9" y1="488.0" x2="100.8" y2="520.6" stroke="#bca684" stroke-width="1.5" opacity="0.79"/><line x1="86.3" y1="351.2" x2="87.7" y2="362.3" stroke="#8a7456" stroke-width="1.2" opacity="0.49"/><line x1="66.1" y1="330.2" x2="70.4" y2="365.9" stroke="#4e3e2e" stroke-width="2.1" opacity="0.84"/><line x1="101.5" y1="483.1" x2="105.8" y2="518.8" stroke="#4e3e2e" stroke-width="1.6" opacity="0.68"/><line x1="88.4" y1="439.0" x2="91.3" y2="463.1" stroke="#4e3e2e" stroke-width="1.5" opacity="0.76"/><line x1="85.9" y1="440.4" x2="88.7" y2="463.3" stroke="#4e3e2e" stroke-width="1.3" opacity="0.66"/><line x1="80.5" y1="342.6" x2="82.6" y2="360.0" stroke="#bca684" stroke-width="1.6" opacity="0.48"/><line x1="104.5" y1="329.1" x2="107.1" y2="350.7" stroke="#4e3e2e" stroke-width="1.1" opacity="0.84"/><line x1="73.7" y1="472.6" x2="75.9" y2="490.4" stroke="#8a7456" stroke-width="1.1" opacity="0.79"/><line x1="98.9" y1="460.9" x2="100.0" y2="469.9" stroke="#8a7456" stroke-width="2.0" opacity="0.54"/><line x1="89.5" y1="387.9" x2="93.1" y2="418.4" stroke="#4e3e2e" stroke-width="1.4" opacity="0.81"/><line x1="82.2" y1="343.9" x2="84.0" y2="358.8" stroke="#bca684" stroke-width="1.2" opacity="0.88"/><line x1="69.3" y1="347.2" x2="74.0" y2="386.2" stroke="#8a7456" stroke-width="1.8" opacity="0.84"/><line x1="85.5" y1="428.3" x2="89.0" y2="457.4" stroke="#bca684" stroke-width="0.8" opacity="0.64"/><line x1="78.1" y1="395.1" x2="79.1" y2="403.3" stroke="#4e3e2e" stroke-width="1.2" opacity="0.54"/><line x1="77.5" y1="472.4" x2="79.4" y2="488.3" stroke="#bca684" stroke-width="1.4" opacity="0.79"/><line x1="75.1" y1="419.6" x2="79.3" y2="454.7" stroke="#8a7456" stroke-width="1.9" opacity="0.82"/><line x1="95.8" y1="438.7" x2="96.9" y2="447.3" stroke="#8a7456" stroke-width="1.5" opacity="0.55"/><line x1="86.3" y1="481.8" x2="88.2" y2="498.1" stroke="#bca684" stroke-width="1.4" opacity="0.51"/><line x1="106.1" y1="449.7" x2="107.3" y2="459.3" stroke="#8a7456" stroke-width="1.1" opacity="0.75"/><line x1="66.3" y1="484.6" x2="69.9" y2="514.5" stroke="#bca684" stroke-width="1.2" opacity="0.45"/><line x1="90.1" y1="368.0" x2="93.9" y2="399.3" stroke="#bca684" stroke-width="1.0" opacity="0.42"/><line x1="78.8" y1="315.3" x2="81.4" y2="336.4" stroke="#8a7456" stroke-width="2.0" opacity="0.67"/><line x1="67.6" y1="398.8" x2="70.4" y2="421.9" stroke="#bca684" stroke-width="1.5" opacity="0.64"/><line x1="96.6" y1="474.5" x2="100.7" y2="509.0" stroke="#bca684" stroke-width="1.1" opacity="0.90"/><line x1="86.1" y1="373.8" x2="90.7" y2="411.7" stroke="#bca684" stroke-width="2.1" opacity="0.56"/><line x1="82.5" y1="384.7" x2="87.1" y2="423.0" stroke="#bca684" stroke-width="0.9" opacity="0.77"/><line x1="85.4" y1="381.7" x2="89.5" y2="415.8" stroke="#8a7456" stroke-width="2.1" opacity="0.61"/><line x1="90.4" y1="453.0" x2="93.1" y2="475.5" stroke="#4e3e2e" stroke-width="2.0" opacity="0.55"/><line x1="97.7" y1="343.5" x2="101.1" y2="372.1" stroke="#bca684" stroke-width="1.1" opacity="0.57"/><line x1="109.6" y1="385.3" x2="111.7" y2="403.3" stroke="#bca684" stroke-width="1.6" opacity="0.81"/><line x1="84.0" y1="319.9" x2="87.4" y2="348.7" stroke="#bca684" stroke-width="1.9" opacity="0.88"/><line x1="69.5" y1="465.4" x2="73.2" y2="496.0" stroke="#bca684" stroke-width="1.2" opacity="0.79"/><line x1="84.5" y1="321.5" x2="85.8" y2="332.6" stroke="#8a7456" stroke-width="2.0" opacity="0.64"/><line x1="70.8" y1="388.1" x2="72.4" y2="401.1" stroke="#bca684" stroke-width="1.6" opacity="0.56"/><line x1="104.2" y1="409.1" x2="108.1" y2="441.9" stroke="#4e3e2e" stroke-width="1.8" opacity="0.82"/><line x1="102.8" y1="436.8" x2="104.7" y2="452.1" stroke="#8a7456" stroke-width="1.6" opacity="0.78"/><line x1="76.5" y1="408.4" x2="80.5" y2="441.5" stroke="#8a7456" stroke-width="1.4" opacity="0.56"/><line x1="92.8" y1="432.6" x2="96.6" y2="464.5" stroke="#8a7456" stroke-width="1.0" opacity="0.74"/><line x1="70.8" y1="485.6" x2="74.5" y2="516.7" stroke="#4e3e2e" stroke-width="1.4" opacity="0.88"/><line x1="72.2" y1="402.3" x2="75.8" y2="432.1" stroke="#8a7456" stroke-width="1.3" opacity="0.59"/><line x1="106.6" y1="460.1" x2="108.9" y2="478.9" stroke="#bca684" stroke-width="1.3" opacity="0.78"/><line x1="98.2" y1="396.9" x2="100.4" y2="414.7" stroke="#4e3e2e" stroke-width="1.8" opacity="0.77"/><line x1="92.1" y1="371.3" x2="96.4" y2="406.8" stroke="#4e3e2e" stroke-width="1.9" opacity="0.85"/><line x1="92.5" y1="458.3" x2="93.7" y2="468.4" stroke="#4e3e2e" stroke-width="1.9" opacity="0.82"/><line x1="80.5" y1="340.5" x2="81.8" y2="350.8" stroke="#bca684" stroke-width="1.4" opacity="0.66"/><line x1="109.7" y1="381.4" x2="111.1" y2="392.6" stroke="#4e3e2e" stroke-width="1.4" opacity="0.66"/><line x1="71.7" y1="313.8" x2="72.9" y2="324.2" stroke="#4e3e2e" stroke-width="1.4" opacity="0.54"/><line x1="100.5" y1="443.2" x2="101.8" y2="454.5" stroke="#4e3e2e" stroke-width="1.1" opacity="0.83"/><line x1="92.8" y1="478.8" x2="95.1" y2="498.2" stroke="#bca684" stroke-width="1.4" opacity="0.90"/><line x1="94.8" y1="488.7" x2="98.5" y2="519.4" stroke="#8a7456" stroke-width="1.1" opacity="0.51"/><line x1="64.8" y1="442.7" x2="68.1" y2="470.0" stroke="#4e3e2e" stroke-width="2.1" opacity="0.54"/><line x1="72.9" y1="349.1" x2="75.6" y2="371.7" stroke="#bca684" stroke-width="1.5" opacity="0.58"/><line x1="75.1" y1="427.2" x2="78.6" y2="456.4" stroke="#bca684" stroke-width="2.2" opacity="0.63"/><line x1="98.0" y1="376.8" x2="100.6" y2="398.6" stroke="#8a7456" stroke-width="1.6" opacity="0.76"/><line x1="64.8" y1="406.3" x2="67.8" y2="431.2" stroke="#8a7456" stroke-width="2.1" opacity="0.64"/><line x1="67.8" y1="417.6" x2="71.0" y2="444.4" stroke="#bca684" stroke-width="1.5" opacity="0.66"/><line x1="90.3" y1="307.2" x2="93.2" y2="331.3" stroke="#4e3e2e" stroke-width="2.2" opacity="0.87"/><line x1="77.4" y1="487.8" x2="79.4" y2="504.8" stroke="#bca684" stroke-width="1.1" opacity="0.62"/><line x1="75.6" y1="341.7" x2="78.5" y2="365.5" stroke="#4e3e2e" stroke-width="1.0" opacity="0.73"/><line x1="92.6" y1="358.0" x2="93.7" y2="367.1" stroke="#bca684" stroke-width="1.8" opacity="0.71"/><line x1="68.9" y1="474.4" x2="71.4" y2="495.2" stroke="#bca684" stroke-width="1.7" opacity="0.45"/><line x1="69.5" y1="401.3" x2="72.9" y2="429.8" stroke="#bca684" stroke-width="1.9" opacity="0.87"/><line x1="72.1" y1="370.2" x2="76.7" y2="408.6" stroke="#8a7456" stroke-width="1.2" opacity="0.54"/><line x1="70.0" y1="335.4" x2="73.1" y2="361.6" stroke="#4e3e2e" stroke-width="1.7" opacity="0.64"/><line x1="78.5" y1="388.7" x2="80.4" y2="404.9" stroke="#4e3e2e" stroke-width="1.9" opacity="0.59"/><line x1="105.3" y1="315.3" x2="108.4" y2="341.4" stroke="#4e3e2e" stroke-width="1.2" opacity="0.62"/><line x1="67.8" y1="319.0" x2="72.0" y2="353.8" stroke="#bca684" stroke-width="1.3" opacity="0.82"/><line x1="77.7" y1="329.7" x2="81.6" y2="362.3" stroke="#8a7456" stroke-width="2.2" opacity="0.42"/><line x1="71.8" y1="387.6" x2="76.6" y2="427.4" stroke="#8a7456" stroke-width="2.2" opacity="0.65"/><line x1="95.0" y1="453.2" x2="99.4" y2="489.7" stroke="#8a7456" stroke-width="1.5" opacity="0.81"/><line x1="102.7" y1="436.6" x2="106.9" y2="471.1" stroke="#8a7456" stroke-width="1.5" opacity="0.71"/><line x1="71.0" y1="391.5" x2="72.6" y2="404.2" stroke="#8a7456" stroke-width="1.6" opacity="0.84"/><line x1="96.8" y1="380.0" x2="100.0" y2="406.7" stroke="#4e3e2e" stroke-width="1.9" opacity="0.64"/><line x1="89.1" y1="361.3" x2="92.2" y2="386.8" stroke="#bca684" stroke-width="1.5" opacity="0.45"/><line x1="90.6" y1="335.0" x2="91.6" y2="343.0" stroke="#4e3e2e" stroke-width="1.9" opacity="0.52"/><line x1="87.7" y1="445.5" x2="89.4" y2="459.9" stroke="#bca684" stroke-width="2.0" opacity="0.80"/><line x1="97.4" y1="370.6" x2="101.6" y2="404.9" stroke="#bca684" stroke-width="1.7" opacity="0.60"/><line x1="77.7" y1="468.5" x2="81.4" y2="499.3" stroke="#4e3e2e" stroke-width="2.0" opacity="0.50"/><line x1="97.1" y1="434.1" x2="100.2" y2="460.5" stroke="#bca684" stroke-width="1.6" opacity="0.87"/><line x1="95.2" y1="451.3" x2="97.1" y2="467.0" stroke="#bca684" stroke-width="1.8" opacity="0.83"/><line x1="65.8" y1="362.7" x2="68.2" y2="382.1" stroke="#8a7456" stroke-width="1.3" opacity="0.78"/><line x1="76.2" y1="483.0" x2="78.9" y2="505.0" stroke="#8a7456" stroke-width="0.8" opacity="0.70"/><line x1="102.6" y1="487.1" x2="107.4" y2="527.0" stroke="#8a7456" stroke-width="1.2" opacity="0.66"/><line x1="94.9" y1="471.2" x2="97.1" y2="489.7" stroke="#bca684" stroke-width="2.1" opacity="0.76"/><line x1="82.7" y1="437.4" x2="83.6" y2="445.5" stroke="#4e3e2e" stroke-width="1.6" opacity="0.77"/><line x1="74.4" y1="386.1" x2="78.8" y2="423.2" stroke="#bca684" stroke-width="1.7" opacity="0.77"/><line x1="103.7" y1="326.7" x2="107.8" y2="361.2" stroke="#4e3e2e" stroke-width="1.1" opacity="0.44"/><line x1="73.2" y1="323.6" x2="76.3" y2="349.9" stroke="#bca684" stroke-width="1.7" opacity="0.67"/><line x1="96.4" y1="324.7" x2="99.9" y2="353.4" stroke="#bca684" stroke-width="2.1" opacity="0.61"/><line x1="110.8" y1="402.0" x2="112.7" y2="418.2" stroke="#4e3e2e" stroke-width="2.0" opacity="0.77"/><line x1="105.2" y1="414.4" x2="106.5" y2="425.5" stroke="#bca684" stroke-width="1.4" opacity="0.66"/><line x1="98.3" y1="426.5" x2="100.6" y2="446.1" stroke="#4e3e2e" stroke-width="1.8" opacity="0.72"/><line x1="94.6" y1="385.8" x2="98.9" y2="421.2" stroke="#4e3e2e" stroke-width="1.4" opacity="0.77"/></g>
<g clip-path="url(#c4)">
<line x1="70.0" y1="330.0" x2="103.0" y2="470.0" stroke="#a89070" stroke-width="5.0"/>
<line x1="68.5" y1="330.0" x2="101.5" y2="470.0" stroke="#c8b08a" stroke-width="1" opacity="0.8"/>
<polygon points="76.0,398.0 81.0,396.0 84.0,420.0 79.0,424.0" fill="#4a3a2a" />
<polygon points="84.0,436.0 89.0,432.0 92.0,458.0 87.0,462.0" fill="#3e3024" />
<polygon points="90.0,470.0 95.0,466.0 98.0,484.0 94.0,486.0" fill="#4a3a2a" />
<line x1="70.0" y1="440.0" x2="96.0" y2="360.0" stroke="#9a8262" stroke-width="4.0"/>
<line x1="74.0" y1="470.0" x2="100.0" y2="420.0" stroke="#8e7658" stroke-width="4.0"/>
<line x1="66.0" y1="380.0" x2="90.0" y2="470.0" stroke="#a48c6c" stroke-width="3.0"/>
</g>
<rect x="64.0" y="306.5" width="9.0" height="65.5" fill="url(#postG2)"/>
<rect x="64.0" y="306.5" width="9.0" height="2" fill="#b8a282" opacity="0.7"/>
<rect x="65.0" y="329.4" width="7.0" height="2" fill="#5a4836" opacity="0.6"/>
<rect x="73.5" y="309.5" width="9.2" height="58.5" fill="url(#postG2)"/>
<rect x="73.5" y="309.5" width="9.2" height="2" fill="#b8a282" opacity="0.7"/>
<rect x="74.5" y="330.0" width="7.2" height="2" fill="#5a4836" opacity="0.6"/>
<path d="M64.5 372 L69 452" stroke="#6e5a44" stroke-width="2" opacity="0.8"/>
<polygon points="80.0,368.0 86.0,368.0 105.0,445.0 99.0,447.0" fill="#b8a07c" />
<line x1="80.5" y1="372" x2="99.5" y2="446" stroke="#7c6648" stroke-width="1"/>
<polygon points="68.5,452.0 102.0,487.0 102.0,493.0 68.5,458.0" fill="#7e6a50" />
<rect x="103.0" y="445.0" width="8.7" height="48.0" fill="url(#postG)"/>
<rect x="103.0" y="445.0" width="8.7" height="2" fill="#b8a282" opacity="0.7"/>
<rect x="104.0" y="461.8" width="6.7" height="2" fill="#5a4836" opacity="0.6"/>
<polygon points="104.0,487.0 290.0,467.5 290.0,476.0 104.0,496.5" fill="url(#railG)" />
<polygon points="262.0,471.5 335.0,465.5 335.0,474.7 262.0,480.5" fill="url(#railG)" />
<path d="M110 490 L285 471 M140 492 L240 481 M270 474 L330 469 M180 484 L260 476 M120 494 L170 489 M295 471 L325 468" stroke="#5e4c3a" stroke-width="0.8" opacity="0.7"/>
<path d="M130 488 L200 481 M220 478 L280 472 M300 468 L330 466" stroke="#c8b496" stroke-width="0.8" opacity="0.7"/>
<rect x="328.7" y="291.5" width="9.5" height="30.5" fill="url(#postG)"/>
<rect x="328.7" y="291.5" width="9.5" height="2" fill="#b8a282" opacity="0.7"/>
<rect x="329.7" y="302.2" width="7.5" height="2" fill="#5a4836" opacity="0.6"/>
<rect x="399.4" y="288.6" width="9.2" height="31.4" fill="url(#postG)"/>
<rect x="399.4" y="288.6" width="9.2" height="2" fill="#b8a282" opacity="0.7"/>
<rect x="400.4" y="299.6" width="7.2" height="2" fill="#5a4836" opacity="0.6"/>
<polygon points="319.5,325.0 440.0,322.0 440.0,415.0 319.5,424.0" fill="#54463a" />
<polygon points="319.5,325.0 327.0,324.8 327.0,423.4 319.5,424.0" fill="#625240" />
<line x1="320.7" y1="325.0" x2="320.7" y2="424.0" stroke="#7e6e5c" stroke-width="0.8" opacity="0.6"/>
<line x1="319.5" y1="325.0" x2="319.5" y2="424.0" stroke="#3e3226" stroke-width="0.8" opacity="0.7"/>
<line x1="325.0" y1="329.0" x2="325.0" y2="366.3" stroke="#86766a" stroke-width="0.7" opacity="0.5"/>
<line x1="322.7" y1="342.6" x2="322.7" y2="383.9" stroke="#86766a" stroke-width="0.7" opacity="0.5"/>
<line x1="323.0" y1="335.8" x2="323.0" y2="369.1" stroke="#3e3226" stroke-width="0.7" opacity="0.5"/>
<polygon points="327.0,324.8 334.6,324.6 334.6,422.9 327.0,423.4" fill="#665644" />
<line x1="328.2" y1="324.8" x2="328.2" y2="423.4" stroke="#7e6e5c" stroke-width="0.8" opacity="0.6"/>
<line x1="327.0" y1="324.8" x2="327.0" y2="423.4" stroke="#3e3226" stroke-width="0.8" opacity="0.7"/>
<line x1="328.9" y1="359.7" x2="328.9" y2="391.9" stroke="#86766a" stroke-width="0.7" opacity="0.5"/>
<line x1="330.2" y1="327.6" x2="330.2" y2="370.4" stroke="#86766a" stroke-width="0.7" opacity="0.5"/>
<line x1="331.5" y1="355.3" x2="331.5" y2="403.6" stroke="#86766a" stroke-width="0.7" opacity="0.5"/>
<polygon points="334.6,324.6 342.1,324.4 342.1,422.3 334.6,422.9" fill="#685846" />
<line x1="335.8" y1="324.6" x2="335.8" y2="422.9" stroke="#7e6e5c" stroke-width="0.8" opacity="0.6"/>
<line x1="334.6" y1="324.6" x2="334.6" y2="422.9" stroke="#3e3226" stroke-width="0.8" opacity="0.7"/>
<line x1="339.5" y1="342.6" x2="339.5" y2="379.0" stroke="#86766a" stroke-width="0.7" opacity="0.5"/>
<line x1="338.7" y1="364.4" x2="338.7" y2="389.3" stroke="#86766a" stroke-width="0.7" opacity="0.5"/>
<line x1="338.7" y1="346.5" x2="338.7" y2="385.0" stroke="#3e3226" stroke-width="0.7" opacity="0.5"/>
<polygon points="342.1,324.4 349.6,324.2 349.6,421.8 342.1,422.3" fill="#6e5e4a" />
<line x1="343.3" y1="324.4" x2="343.3" y2="422.3" stroke="#7e6e5c" stroke-width="0.8" opacity="0.6"/>
<line x1="342.1" y1="324.4" x2="342.1" y2="422.3" stroke="#3e3226" stroke-width="0.8" opacity="0.7"/>
<line x1="346.0" y1="357.2" x2="346.0" y2="392.0" stroke="#3e3226" stroke-width="0.7" opacity="0.5"/>
<line x1="344.0" y1="345.2" x2="344.0" y2="381.4" stroke="#86766a" stroke-width="0.7" opacity="0.5"/>
<line x1="347.3" y1="340.5" x2="347.3" y2="370.8" stroke="#86766a" stroke-width="0.7" opacity="0.5"/>
<polygon points="349.6,324.2 357.2,324.1 357.2,421.2 349.6,421.8" fill="#685846" />
<line x1="350.8" y1="324.2" x2="350.8" y2="421.8" stroke="#7e6e5c" stroke-width="0.8" opacity="0.6"/>
<line x1="349.6" y1="324.2" x2="349.6" y2="421.8" stroke="#3e3226" stroke-width="0.8" opacity="0.7"/>
<line x1="352.5" y1="362.0" x2="352.5" y2="397.5" stroke="#86766a" stroke-width="0.7" opacity="0.5"/>
<line x1="351.8" y1="354.4" x2="351.8" y2="377.3" stroke="#86766a" stroke-width="0.7" opacity="0.5"/>
<line x1="352.2" y1="350.7" x2="352.2" y2="397.1" stroke="#3e3226" stroke-width="0.7" opacity="0.5"/>
<polygon points="357.2,324.1 364.7,323.9 364.7,420.6 357.2,421.2" fill="#72624e" />
<line x1="358.4" y1="324.1" x2="358.4" y2="421.2" stroke="#7e6e5c" stroke-width="0.8" opacity="0.6"/>
<line x1="357.2" y1="324.1" x2="357.2" y2="421.2" stroke="#3e3226" stroke-width="0.8" opacity="0.7"/>
<line x1="359.4" y1="371.3" x2="359.4" y2="392.3" stroke="#86766a" stroke-width="0.7" opacity="0.5"/>
<line x1="360.4" y1="331.9" x2="360.4" y2="357.8" stroke="#3e3226" stroke-width="0.7" opacity="0.5"/>
<line x1="363.1" y1="362.9" x2="363.1" y2="409.8" stroke="#86766a" stroke-width="0.7" opacity="0.5"/>
<polygon points="364.7,323.9 372.2,323.7 372.2,420.1 364.7,420.6" fill="#665644" />
<line x1="365.9" y1="323.9" x2="365.9" y2="420.6" stroke="#7e6e5c" stroke-width="0.8" opacity="0.6"/>
<line x1="364.7" y1="323.9" x2="364.7" y2="420.6" stroke="#3e3226" stroke-width="0.8" opacity="0.7"/>
<line x1="367.8" y1="370.9" x2="367.8" y2="401.1" stroke="#3e3226" stroke-width="0.7" opacity="0.5"/>
<line x1="366.4" y1="336.6" x2="366.4" y2="371.8" stroke="#86766a" stroke-width="0.7" opacity="0.5"/>
<line x1="370.5" y1="334.1" x2="370.5" y2="356.4" stroke="#3e3226" stroke-width="0.7" opacity="0.5"/>
<polygon points="372.2,323.7 379.8,323.5 379.8,419.5 372.2,420.1" fill="#685846" />
<line x1="373.4" y1="323.7" x2="373.4" y2="420.1" stroke="#7e6e5c" stroke-width="0.8" opacity="0.6"/>
<line x1="372.2" y1="323.7" x2="372.2" y2="420.1" stroke="#3e3226" stroke-width="0.8" opacity="0.7"/>
<line x1="376.2" y1="335.1" x2="376.2" y2="357.2" stroke="#3e3226" stroke-width="0.7" opacity="0.5"/>
<line x1="377.8" y1="344.9" x2="377.8" y2="374.0" stroke="#86766a" stroke-width="0.7" opacity="0.5"/>
<line x1="377.4" y1="366.6" x2="377.4" y2="405.6" stroke="#86766a" stroke-width="0.7" opacity="0.5"/>
<polygon points="379.8,323.5 387.3,323.3 387.3,418.9 379.8,419.5" fill="#665644" />
<line x1="380.9" y1="323.5" x2="380.9" y2="419.5" stroke="#7e6e5c" stroke-width="0.8" opacity="0.6"/>
<line x1="379.8" y1="323.5" x2="379.8" y2="419.5" stroke="#3e3226" stroke-width="0.8" opacity="0.7"/>
<line x1="384.4" y1="363.1" x2="384.4" y2="400.6" stroke="#3e3226" stroke-width="0.7" opacity="0.5"/>
<line x1="383.7" y1="343.8" x2="383.7" y2="371.5" stroke="#3e3226" stroke-width="0.7" opacity="0.5"/>
<line x1="385.0" y1="328.6" x2="385.0" y2="365.8" stroke="#86766a" stroke-width="0.7" opacity="0.5"/>
<polygon points="387.3,323.3 394.8,323.1 394.8,418.4 387.3,418.9" fill="#685846" />
<line x1="388.5" y1="323.3" x2="388.5" y2="418.9" stroke="#7e6e5c" stroke-width="0.8" opacity="0.6"/>
<line x1="387.3" y1="323.3" x2="387.3" y2="418.9" stroke="#3e3226" stroke-width="0.8" opacity="0.7"/>
<line x1="392.1" y1="343.7" x2="392.1" y2="367.5" stroke="#3e3226" stroke-width="0.7" opacity="0.5"/>
<line x1="390.3" y1="356.1" x2="390.3" y2="378.5" stroke="#86766a" stroke-width="0.7" opacity="0.5"/>
<line x1="392.4" y1="370.3" x2="392.4" y2="397.2" stroke="#86766a" stroke-width="0.7" opacity="0.5"/>
<polygon points="394.8,323.1 402.3,322.9 402.3,417.8 394.8,418.4" fill="#72624e" />
<line x1="396.0" y1="323.1" x2="396.0" y2="418.4" stroke="#7e6e5c" stroke-width="0.8" opacity="0.6"/>
<line x1="394.8" y1="323.1" x2="394.8" y2="418.4" stroke="#3e3226" stroke-width="0.8" opacity="0.7"/>
<line x1="396.4" y1="368.6" x2="396.4" y2="409.0" stroke="#86766a" stroke-width="0.7" opacity="0.5"/>
<line x1="397.2" y1="355.5" x2="397.2" y2="379.4" stroke="#86766a" stroke-width="0.7" opacity="0.5"/>
<line x1="399.7" y1="368.4" x2="399.7" y2="399.3" stroke="#86766a" stroke-width="0.7" opacity="0.5"/>
<polygon points="402.3,322.9 409.9,322.8 409.9,417.2 402.3,417.8" fill="#72624e" />
<line x1="403.5" y1="322.9" x2="403.5" y2="417.8" stroke="#7e6e5c" stroke-width="0.8" opacity="0.6"/>
<line x1="402.3" y1="322.9" x2="402.3" y2="417.8" stroke="#3e3226" stroke-width="0.8" opacity="0.7"/>
<line x1="406.5" y1="369.8" x2="406.5" y2="409.2" stroke="#3e3226" stroke-width="0.7" opacity="0.5"/>
<line x1="406.2" y1="336.9" x2="406.2" y2="381.4" stroke="#3e3226" stroke-width="0.7" opacity="0.5"/>
<line x1="404.9" y1="325.8" x2="404.9" y2="370.1" stroke="#86766a" stroke-width="0.7" opacity="0.5"/>
<polygon points="409.9,322.8 417.4,322.6 417.4,416.7 409.9,417.2" fill="#665644" />
<line x1="411.1" y1="322.8" x2="411.1" y2="417.2" stroke="#7e6e5c" stroke-width="0.8" opacity="0.6"/>
<line x1="409.9" y1="322.8" x2="409.9" y2="417.2" stroke="#3e3226" stroke-width="0.8" opacity="0.7"/>
<line x1="414.4" y1="351.2" x2="414.4" y2="378.3" stroke="#86766a" stroke-width="0.7" opacity="0.5"/>
<line x1="413.2" y1="360.6" x2="413.2" y2="387.2" stroke="#86766a" stroke-width="0.7" opacity="0.5"/>
<line x1="412.1" y1="324.7" x2="412.1" y2="368.7" stroke="#86766a" stroke-width="0.7" opacity="0.5"/>
<polygon points="417.4,322.6 424.9,322.4 424.9,416.1 417.4,416.7" fill="#685846" />
<line x1="418.6" y1="322.6" x2="418.6" y2="416.7" stroke="#7e6e5c" stroke-width="0.8" opacity="0.6"/>
<line x1="417.4" y1="322.6" x2="417.4" y2="416.7" stroke="#3e3226" stroke-width="0.8" opacity="0.7"/>
<line x1="422.9" y1="347.7" x2="422.9" y2="385.9" stroke="#86766a" stroke-width="0.7" opacity="0.5"/>
<line x1="419.9" y1="334.9" x2="419.9" y2="377.7" stroke="#86766a" stroke-width="0.7" opacity="0.5"/>
<line x1="419.4" y1="344.3" x2="419.4" y2="366.5" stroke="#86766a" stroke-width="0.7" opacity="0.5"/>
<polygon points="424.9,322.4 432.5,322.2 432.5,415.6 424.9,416.1" fill="#665644" />
<line x1="426.1" y1="322.4" x2="426.1" y2="416.1" stroke="#7e6e5c" stroke-width="0.8" opacity="0.6"/>
<line x1="424.9" y1="322.4" x2="424.9" y2="416.1" stroke="#3e3226" stroke-width="0.8" opacity="0.7"/>
<line x1="430.3" y1="334.4" x2="430.3" y2="376.9" stroke="#3e3226" stroke-width="0.7" opacity="0.5"/>
<line x1="429.9" y1="348.6" x2="429.9" y2="380.5" stroke="#86766a" stroke-width="0.7" opacity="0.5"/>
<line x1="430.1" y1="335.1" x2="430.1" y2="364.0" stroke="#3e3226" stroke-width="0.7" opacity="0.5"/>
<polygon points="432.5,322.2 440.0,322.0 440.0,415.0 432.5,415.6" fill="#685846" />
<line x1="433.7" y1="322.2" x2="433.7" y2="415.6" stroke="#7e6e5c" stroke-width="0.8" opacity="0.6"/>
<line x1="432.5" y1="322.2" x2="432.5" y2="415.6" stroke="#3e3226" stroke-width="0.8" opacity="0.7"/>
<line x1="437.8" y1="326.3" x2="437.8" y2="365.5" stroke="#86766a" stroke-width="0.7" opacity="0.5"/>
<line x1="436.7" y1="338.9" x2="436.7" y2="385.1" stroke="#3e3226" stroke-width="0.7" opacity="0.5"/>
<line x1="434.2" y1="327.8" x2="434.2" y2="367.3" stroke="#3e3226" stroke-width="0.7" opacity="0.5"/>
<line x1="323.1" y1="329.5" x2="323.5" y2="347.4" stroke="#dcd2c0" stroke-width="1.5" stroke-linecap="round"/>
<line x1="344.2" y1="328.0" x2="344.6" y2="360.0" stroke="#dcd2c0" stroke-width="1.5" stroke-linecap="round"/>
<line x1="344.6" y1="368.0" x2="345.0" y2="404.0" stroke="#dcd2c0" stroke-width="1.5" stroke-linecap="round"/>
<line x1="351.6" y1="328.0" x2="352.0" y2="345.0" stroke="#dcd2c0" stroke-width="1.5" stroke-linecap="round"/>
<line x1="351.8" y1="352.0" x2="352.2" y2="395.0" stroke="#dcd2c0" stroke-width="1.5" stroke-linecap="round"/>
<line x1="352.0" y1="402.0" x2="352.4" y2="414.0" stroke="#dcd2c0" stroke-width="1.5" stroke-linecap="round"/>
<line x1="358.5" y1="328.0" x2="358.9" y2="349.0" stroke="#dcd2c0" stroke-width="1.5" stroke-linecap="round"/>
<line x1="358.8" y1="372.0" x2="359.2" y2="376.0" stroke="#dcd2c0" stroke-width="1.5" stroke-linecap="round"/>
<line x1="369.0" y1="329.5" x2="369.4" y2="360.0" stroke="#dcd2c0" stroke-width="1.5" stroke-linecap="round"/>
<line x1="376.4" y1="328.0" x2="376.8" y2="350.6" stroke="#dcd2c0" stroke-width="1.5" stroke-linecap="round"/>
<line x1="376.8" y1="388.0" x2="377.2" y2="417.0" stroke="#dcd2c0" stroke-width="1.5" stroke-linecap="round"/>
<line x1="383.0" y1="326.0" x2="383.4" y2="352.0" stroke="#dcd2c0" stroke-width="1.5" stroke-linecap="round"/>
<line x1="383.2" y1="360.0" x2="383.6" y2="395.0" stroke="#dcd2c0" stroke-width="1.5" stroke-linecap="round"/>
<line x1="383.4" y1="400.0" x2="383.8" y2="411.0" stroke="#dcd2c0" stroke-width="1.5" stroke-linecap="round"/>
<line x1="396.2" y1="341.0" x2="396.6" y2="401.0" stroke="#dcd2c0" stroke-width="1.5" stroke-linecap="round"/>
<line x1="410.0" y1="349.0" x2="410.4" y2="371.7" stroke="#dcd2c0" stroke-width="1.5" stroke-linecap="round"/>
<line x1="419.8" y1="328.0" x2="420.2" y2="354.0" stroke="#dcd2c0" stroke-width="1.5" stroke-linecap="round"/>
<line x1="426.3" y1="332.7" x2="426.7" y2="342.5" stroke="#dcd2c0" stroke-width="1.5" stroke-linecap="round"/>
<line x1="432.8" y1="324.6" x2="433.2" y2="365.0" stroke="#dcd2c0" stroke-width="1.5" stroke-linecap="round"/>
<line x1="433.0" y1="372.0" x2="433.4" y2="401.0" stroke="#dcd2c0" stroke-width="1.5" stroke-linecap="round"/>
<line x1="425.5" y1="406.0" x2="425.9" y2="414.0" stroke="#dcd2c0" stroke-width="1.5" stroke-linecap="round"/>
<polygon points="300.0,319.0 440.0,315.5 440.0,322.5 300.0,326.0" fill="url(#trG)" />
<polygon points="319.5,421.0 440.0,412.0 440.0,416.0 319.5,425.0" fill="#4a3a28" />
<polygon points="437.0,316.0 447.0,316.0 502.0,410.0 504.0,443.0 498.0,443.0 440.0,418.0" fill="#a48c6a" />
<g clip-path="url(#c5)"><line x1="462.5" y1="345.3" x2="462.5" y2="358.6" stroke="#c4ac86" stroke-width="1.6" opacity="0.75"/><line x1="474.1" y1="364.7" x2="474.1" y2="396.1" stroke="#8a7456" stroke-width="0.8" opacity="0.52"/><line x1="503.9" y1="318.3" x2="503.9" y2="356.7" stroke="#6a5640" stroke-width="2.2" opacity="0.56"/><line x1="454.3" y1="403.8" x2="454.3" y2="430.5" stroke="#6a5640" stroke-width="1.9" opacity="0.42"/><line x1="495.1" y1="422.8" x2="495.1" y2="437.7" stroke="#c4ac86" stroke-width="1.8" opacity="0.46"/><line x1="481.9" y1="331.7" x2="481.9" y2="368.9" stroke="#6a5640" stroke-width="0.9" opacity="0.56"/><line x1="478.5" y1="393.2" x2="478.5" y2="407.1" stroke="#6a5640" stroke-width="1.2" opacity="0.47"/><line x1="481.7" y1="367.7" x2="481.7" y2="396.9" stroke="#c4ac86" stroke-width="2.0" opacity="0.52"/><line x1="442.8" y1="325.9" x2="442.8" y2="364.2" stroke="#c4ac86" stroke-width="1.4" opacity="0.77"/><line x1="473.2" y1="427.8" x2="473.2" y2="456.8" stroke="#c4ac86" stroke-width="1.0" opacity="0.80"/><line x1="485.0" y1="407.5" x2="485.0" y2="437.3" stroke="#6a5640" stroke-width="2.2" opacity="0.75"/><line x1="497.0" y1="368.5" x2="497.0" y2="399.2" stroke="#6a5640" stroke-width="1.7" opacity="0.61"/><line x1="493.8" y1="438.1" x2="493.8" y2="453.9" stroke="#c4ac86" stroke-width="1.3" opacity="0.63"/><line x1="485.4" y1="416.2" x2="485.4" y2="426.8" stroke="#c4ac86" stroke-width="1.6" opacity="0.86"/><line x1="453.7" y1="363.9" x2="453.7" y2="394.4" stroke="#8a7456" stroke-width="1.3" opacity="0.84"/><line x1="487.3" y1="409.0" x2="487.3" y2="423.8" stroke="#6a5640" stroke-width="1.1" opacity="0.51"/><line x1="468.4" y1="346.6" x2="468.4" y2="386.2" stroke="#8a7456" stroke-width="1.6" opacity="0.48"/><line x1="459.0" y1="345.0" x2="459.0" y2="374.6" stroke="#6a5640" stroke-width="2.0" opacity="0.62"/><line x1="486.6" y1="340.5" x2="486.6" y2="373.3" stroke="#c4ac86" stroke-width="2.2" opacity="0.85"/><line x1="492.1" y1="319.8" x2="492.1" y2="346.7" stroke="#6a5640" stroke-width="1.7" opacity="0.66"/><line x1="480.5" y1="338.5" x2="480.5" y2="369.8" stroke="#6a5640" stroke-width="0.9" opacity="0.73"/><line x1="483.5" y1="343.2" x2="483.5" y2="364.0" stroke="#c4ac86" stroke-width="1.2" opacity="0.53"/><line x1="462.4" y1="345.3" x2="462.4" y2="357.2" stroke="#c4ac86" stroke-width="1.7" opacity="0.61"/><line x1="464.0" y1="378.4" x2="464.0" y2="413.6" stroke="#6a5640" stroke-width="1.5" opacity="0.70"/><line x1="452.6" y1="339.2" x2="452.6" y2="362.4" stroke="#6a5640" stroke-width="1.1" opacity="0.64"/><line x1="475.1" y1="363.6" x2="475.1" y2="391.2" stroke="#8a7456" stroke-width="0.8" opacity="0.78"/><line x1="450.1" y1="418.0" x2="450.1" y2="436.3" stroke="#c4ac86" stroke-width="1.6" opacity="0.61"/><line x1="438.1" y1="337.0" x2="438.1" y2="364.7" stroke="#c4ac86" stroke-width="1.0" opacity="0.73"/><line x1="472.6" y1="319.4" x2="472.6" y2="353.8" stroke="#c4ac86" stroke-width="1.7" opacity="0.68"/><line x1="472.2" y1="347.3" x2="472.2" y2="378.5" stroke="#6a5640" stroke-width="1.5" opacity="0.69"/><line x1="483.2" y1="378.2" x2="483.2" y2="404.3" stroke="#6a5640" stroke-width="1.1" opacity="0.49"/><line x1="469.5" y1="411.8" x2="469.5" y2="445.5" stroke="#c4ac86" stroke-width="0.8" opacity="0.56"/><line x1="457.4" y1="418.4" x2="457.4" y2="443.8" stroke="#c4ac86" stroke-width="1.7" opacity="0.78"/><line x1="461.9" y1="417.0" x2="461.9" y2="427.7" stroke="#c4ac86" stroke-width="1.3" opacity="0.48"/><line x1="467.6" y1="349.6" x2="467.6" y2="386.8" stroke="#6a5640" stroke-width="2.0" opacity="0.56"/><line x1="497.5" y1="355.8" x2="497.5" y2="390.5" stroke="#6a5640" stroke-width="0.9" opacity="0.61"/><line x1="492.2" y1="421.4" x2="492.2" y2="433.1" stroke="#6a5640" stroke-width="2.1" opacity="0.88"/><line x1="455.5" y1="423.9" x2="455.5" y2="456.9" stroke="#c4ac86" stroke-width="2.2" opacity="0.78"/><line x1="495.5" y1="414.0" x2="495.5" y2="446.7" stroke="#c4ac86" stroke-width="1.5" opacity="0.53"/><line x1="483.0" y1="383.6" x2="483.0" y2="400.3" stroke="#6a5640" stroke-width="2.1" opacity="0.52"/><line x1="491.5" y1="411.7" x2="491.5" y2="436.4" stroke="#6a5640" stroke-width="2.0" opacity="0.56"/><line x1="456.0" y1="433.6" x2="456.0" y2="451.0" stroke="#c4ac86" stroke-width="0.9" opacity="0.82"/><line x1="503.7" y1="354.8" x2="503.7" y2="375.7" stroke="#8a7456" stroke-width="1.6" opacity="0.76"/><line x1="462.0" y1="436.8" x2="462.0" y2="456.8" stroke="#c4ac86" stroke-width="1.6" opacity="0.73"/><line x1="465.1" y1="344.1" x2="465.1" y2="378.5" stroke="#6a5640" stroke-width="1.2" opacity="0.58"/><line x1="448.6" y1="369.5" x2="448.6" y2="380.3" stroke="#8a7456" stroke-width="1.6" opacity="0.64"/><line x1="490.6" y1="322.1" x2="490.6" y2="357.1" stroke="#6a5640" stroke-width="1.7" opacity="0.63"/><line x1="442.5" y1="429.4" x2="442.5" y2="466.1" stroke="#6a5640" stroke-width="1.9" opacity="0.88"/><line x1="502.1" y1="413.8" x2="502.1" y2="422.3" stroke="#8a7456" stroke-width="1.2" opacity="0.88"/><line x1="463.0" y1="429.7" x2="463.0" y2="442.6" stroke="#8a7456" stroke-width="1.7" opacity="0.86"/><line x1="491.6" y1="415.5" x2="491.6" y2="453.6" stroke="#c4ac86" stroke-width="1.3" opacity="0.64"/><line x1="461.8" y1="437.4" x2="461.8" y2="474.8" stroke="#8a7456" stroke-width="1.8" opacity="0.48"/><line x1="483.4" y1="342.2" x2="483.4" y2="380.4" stroke="#c4ac86" stroke-width="1.9" opacity="0.64"/><line x1="486.3" y1="347.1" x2="486.3" y2="362.2" stroke="#6a5640" stroke-width="2.0" opacity="0.44"/><line x1="490.7" y1="350.1" x2="490.7" y2="383.3" stroke="#6a5640" stroke-width="2.1" opacity="0.49"/><line x1="503.0" y1="334.8" x2="503.0" y2="354.0" stroke="#6a5640" stroke-width="1.9" opacity="0.44"/><line x1="441.9" y1="405.5" x2="441.9" y2="417.1" stroke="#c4ac86" stroke-width="1.7" opacity="0.45"/><line x1="503.1" y1="362.3" x2="503.1" y2="400.7" stroke="#6a5640" stroke-width="2.0" opacity="0.44"/><line x1="447.8" y1="324.7" x2="447.8" y2="355.6" stroke="#6a5640" stroke-width="1.6" opacity="0.53"/><line x1="451.6" y1="326.7" x2="451.6" y2="351.0" stroke="#c4ac86" stroke-width="1.5" opacity="0.62"/><line x1="498.0" y1="415.4" x2="498.0" y2="443.4" stroke="#c4ac86" stroke-width="1.0" opacity="0.45"/><line x1="466.9" y1="352.8" x2="466.9" y2="376.0" stroke="#6a5640" stroke-width="2.1" opacity="0.81"/><line x1="498.7" y1="345.3" x2="498.7" y2="364.4" stroke="#6a5640" stroke-width="1.6" opacity="0.54"/><line x1="494.4" y1="440.7" x2="494.4" y2="455.5" stroke="#6a5640" stroke-width="1.5" opacity="0.85"/><line x1="472.3" y1="411.1" x2="472.3" y2="440.6" stroke="#8a7456" stroke-width="1.4" opacity="0.43"/><line x1="483.9" y1="375.1" x2="483.9" y2="406.8" stroke="#8a7456" stroke-width="1.4" opacity="0.60"/><line x1="445.7" y1="437.0" x2="445.7" y2="445.5" stroke="#c4ac86" stroke-width="1.6" opacity="0.50"/><line x1="501.2" y1="359.4" x2="501.2" y2="393.9" stroke="#6a5640" stroke-width="1.8" opacity="0.85"/><line x1="456.4" y1="366.4" x2="456.4" y2="388.3" stroke="#c4ac86" stroke-width="1.1" opacity="0.57"/><line x1="493.7" y1="392.5" x2="493.7" y2="406.0" stroke="#c4ac86" stroke-width="1.6" opacity="0.88"/></g>
<g clip-path="url(#c6)">
<line x1="446" y1="300" x2="448" y2="450" stroke="#7e6a50" stroke-width="0.9" opacity="0.7"/>
<line x1="454" y1="300" x2="456" y2="450" stroke="#7e6a50" stroke-width="0.9" opacity="0.7"/>
<line x1="462" y1="300" x2="464" y2="450" stroke="#7e6a50" stroke-width="0.9" opacity="0.7"/>
<line x1="470" y1="300" x2="472" y2="450" stroke="#7e6a50" stroke-width="0.9" opacity="0.7"/>
<line x1="478" y1="300" x2="480" y2="450" stroke="#7e6a50" stroke-width="0.9" opacity="0.7"/>
<line x1="486" y1="300" x2="488" y2="450" stroke="#7e6a50" stroke-width="0.9" opacity="0.7"/>
<line x1="494" y1="300" x2="496" y2="450" stroke="#7e6a50" stroke-width="0.9" opacity="0.7"/>
<line x1="442.0" y1="360.0" x2="500.0" y2="440.0" stroke="#b29a74" stroke-width="5.0"/>
<line x1="440.5" y1="360.0" x2="498.5" y2="440.0" stroke="#cdb690" stroke-width="1" opacity="0.8"/>
<line x1="445.0" y1="410.0" x2="485.0" y2="380.0" stroke="#947c5c" stroke-width="4.0"/>
</g>
<rect x="437.4" y="289.0" width="9.5" height="41.0" fill="url(#postG)"/>
<rect x="437.4" y="289.0" width="9.5" height="2" fill="#b8a282" opacity="0.7"/>
<rect x="438.4" y="303.4" width="7.5" height="2" fill="#5a4836" opacity="0.6"/>
<rect x="457.0" y="290.7" width="9.6" height="59.3" fill="url(#postG)"/>
<rect x="457.0" y="290.7" width="9.6" height="2" fill="#b8a282" opacity="0.7"/>
<rect x="458.0" y="311.5" width="7.6" height="2" fill="#5a4836" opacity="0.6"/>
<polygon points="439.0,315.0 447.0,315.0 503.0,410.0 497.0,414.0" fill="#bfa884" />
<line x1="439" y1="318" x2="497" y2="412" stroke="#7c6648" stroke-width="1"/>
<polygon points="440.0,414.0 498.0,437.0 498.0,443.0 440.0,419.0" fill="#7e6a50" />
<rect x="498.6" y="407.0" width="10.0" height="35.0" fill="url(#postG)"/>
<rect x="498.6" y="407.0" width="10.0" height="2" fill="#b8a282" opacity="0.7"/>
<rect x="499.6" y="419.2" width="8.0" height="2" fill="#5a4836" opacity="0.6"/>
<polygon points="291.5,296.0 317.4,298.4 317.4,357.0 354.0,421.0 358.0,421.0 358.0,465.0 348.0,465.0 294.0,433.0" fill="#a48c6a" />
<g clip-path="url(#c7)"><line x1="307.7" y1="380.9" x2="307.7" y2="394.1" stroke="#6a5640" stroke-width="2.0" opacity="0.53"/><line x1="349.2" y1="388.7" x2="349.2" y2="411.5" stroke="#8a7456" stroke-width="1.5" opacity="0.57"/><line x1="335.4" y1="361.4" x2="335.4" y2="378.3" stroke="#6a5640" stroke-width="2.0" opacity="0.41"/><line x1="308.7" y1="376.7" x2="308.7" y2="410.8" stroke="#6a5640" stroke-width="1.3" opacity="0.55"/><line x1="321.4" y1="430.1" x2="321.4" y2="465.5" stroke="#6a5640" stroke-width="1.9" opacity="0.41"/><line x1="355.1" y1="324.4" x2="355.1" y2="332.8" stroke="#6a5640" stroke-width="2.2" opacity="0.81"/><line x1="346.4" y1="434.4" x2="346.4" y2="461.4" stroke="#6a5640" stroke-width="1.6" opacity="0.87"/><line x1="353.5" y1="411.5" x2="353.5" y2="449.3" stroke="#6a5640" stroke-width="2.2" opacity="0.58"/><line x1="323.7" y1="460.0" x2="323.7" y2="492.9" stroke="#8a7456" stroke-width="1.3" opacity="0.63"/><line x1="299.3" y1="424.9" x2="299.3" y2="453.8" stroke="#c4ac86" stroke-width="2.0" opacity="0.79"/><line x1="357.8" y1="453.5" x2="357.8" y2="482.1" stroke="#8a7456" stroke-width="0.9" opacity="0.80"/><line x1="311.9" y1="385.8" x2="311.9" y2="408.5" stroke="#6a5640" stroke-width="1.3" opacity="0.66"/><line x1="350.0" y1="441.9" x2="350.0" y2="462.9" stroke="#c4ac86" stroke-width="1.1" opacity="0.76"/><line x1="330.5" y1="332.0" x2="330.5" y2="371.3" stroke="#6a5640" stroke-width="1.3" opacity="0.55"/><line x1="335.8" y1="370.9" x2="335.8" y2="385.4" stroke="#c4ac86" stroke-width="2.0" opacity="0.55"/><line x1="323.5" y1="320.8" x2="323.5" y2="349.3" stroke="#c4ac86" stroke-width="2.0" opacity="0.49"/><line x1="311.3" y1="444.4" x2="311.3" y2="476.0" stroke="#6a5640" stroke-width="1.7" opacity="0.76"/><line x1="328.6" y1="380.6" x2="328.6" y2="419.3" stroke="#c4ac86" stroke-width="1.6" opacity="0.70"/><line x1="320.6" y1="371.5" x2="320.6" y2="391.7" stroke="#c4ac86" stroke-width="1.0" opacity="0.74"/><line x1="356.3" y1="363.7" x2="356.3" y2="400.6" stroke="#c4ac86" stroke-width="1.2" opacity="0.60"/><line x1="357.0" y1="460.7" x2="357.0" y2="479.2" stroke="#c4ac86" stroke-width="1.4" opacity="0.77"/><line x1="313.1" y1="398.5" x2="313.1" y2="406.7" stroke="#6a5640" stroke-width="1.3" opacity="0.87"/><line x1="345.2" y1="340.1" x2="345.2" y2="360.6" stroke="#8a7456" stroke-width="1.3" opacity="0.42"/><line x1="309.7" y1="453.3" x2="309.7" y2="485.4" stroke="#6a5640" stroke-width="1.2" opacity="0.63"/><line x1="331.4" y1="419.1" x2="331.4" y2="455.3" stroke="#8a7456" stroke-width="1.0" opacity="0.81"/><line x1="309.7" y1="420.8" x2="309.7" y2="458.4" stroke="#8a7456" stroke-width="2.0" opacity="0.52"/><line x1="342.7" y1="327.4" x2="342.7" y2="361.2" stroke="#6a5640" stroke-width="2.0" opacity="0.87"/><line x1="339.7" y1="297.8" x2="339.7" y2="322.7" stroke="#6a5640" stroke-width="2.2" opacity="0.78"/><line x1="323.3" y1="318.8" x2="323.3" y2="353.1" stroke="#8a7456" stroke-width="1.4" opacity="0.50"/><line x1="354.1" y1="439.0" x2="354.1" y2="461.7" stroke="#6a5640" stroke-width="1.6" opacity="0.42"/><line x1="311.2" y1="309.1" x2="311.2" y2="323.3" stroke="#6a5640" stroke-width="1.7" opacity="0.70"/><line x1="325.6" y1="461.3" x2="325.6" y2="495.6" stroke="#c4ac86" stroke-width="1.1" opacity="0.80"/><line x1="347.3" y1="335.0" x2="347.3" y2="364.4" stroke="#c4ac86" stroke-width="2.2" opacity="0.50"/><line x1="345.0" y1="328.6" x2="345.0" y2="343.8" stroke="#6a5640" stroke-width="2.1" opacity="0.68"/><line x1="348.1" y1="419.8" x2="348.1" y2="442.9" stroke="#6a5640" stroke-width="0.8" opacity="0.41"/><line x1="346.8" y1="346.7" x2="346.8" y2="357.4" stroke="#8a7456" stroke-width="2.0" opacity="0.76"/><line x1="297.8" y1="297.5" x2="297.8" y2="307.4" stroke="#c4ac86" stroke-width="0.9" opacity="0.78"/><line x1="336.8" y1="390.3" x2="336.8" y2="410.5" stroke="#6a5640" stroke-width="1.7" opacity="0.81"/><line x1="313.3" y1="395.5" x2="313.3" y2="417.7" stroke="#6a5640" stroke-width="0.8" opacity="0.64"/><line x1="295.4" y1="386.1" x2="295.4" y2="408.1" stroke="#c4ac86" stroke-width="2.0" opacity="0.72"/><line x1="313.1" y1="423.7" x2="313.1" y2="462.6" stroke="#c4ac86" stroke-width="1.5" opacity="0.85"/><line x1="347.3" y1="411.0" x2="347.3" y2="419.9" stroke="#c4ac86" stroke-width="1.7" opacity="0.87"/><line x1="303.2" y1="377.6" x2="303.2" y2="411.4" stroke="#6a5640" stroke-width="1.9" opacity="0.77"/><line x1="311.4" y1="399.4" x2="311.4" y2="423.5" stroke="#6a5640" stroke-width="0.8" opacity="0.60"/><line x1="311.9" y1="371.9" x2="311.9" y2="390.5" stroke="#c4ac86" stroke-width="1.9" opacity="0.72"/><line x1="322.2" y1="305.7" x2="322.2" y2="321.0" stroke="#c4ac86" stroke-width="1.0" opacity="0.42"/><line x1="314.7" y1="454.9" x2="314.7" y2="469.8" stroke="#c4ac86" stroke-width="2.0" opacity="0.90"/><line x1="336.4" y1="329.4" x2="336.4" y2="351.3" stroke="#c4ac86" stroke-width="1.7" opacity="0.79"/><line x1="333.1" y1="348.2" x2="333.1" y2="365.3" stroke="#6a5640" stroke-width="1.1" opacity="0.49"/><line x1="341.3" y1="444.0" x2="341.3" y2="455.1" stroke="#c4ac86" stroke-width="1.2" opacity="0.63"/><line x1="332.0" y1="461.2" x2="332.0" y2="472.4" stroke="#6a5640" stroke-width="2.0" opacity="0.54"/><line x1="318.7" y1="335.0" x2="318.7" y2="364.3" stroke="#6a5640" stroke-width="0.8" opacity="0.76"/><line x1="357.9" y1="438.0" x2="357.9" y2="447.4" stroke="#6a5640" stroke-width="1.2" opacity="0.76"/><line x1="309.6" y1="297.8" x2="309.6" y2="333.1" stroke="#6a5640" stroke-width="1.2" opacity="0.53"/><line x1="351.9" y1="338.3" x2="351.9" y2="373.0" stroke="#c4ac86" stroke-width="1.7" opacity="0.57"/><line x1="323.0" y1="435.6" x2="323.0" y2="462.6" stroke="#6a5640" stroke-width="1.7" opacity="0.51"/><line x1="306.1" y1="392.4" x2="306.1" y2="409.2" stroke="#8a7456" stroke-width="1.0" opacity="0.60"/><line x1="349.7" y1="413.7" x2="349.7" y2="436.4" stroke="#6a5640" stroke-width="0.9" opacity="0.45"/><line x1="324.2" y1="346.9" x2="324.2" y2="378.3" stroke="#c4ac86" stroke-width="1.4" opacity="0.54"/><line x1="306.2" y1="450.0" x2="306.2" y2="484.1" stroke="#c4ac86" stroke-width="1.2" opacity="0.82"/><line x1="314.1" y1="416.5" x2="314.1" y2="431.9" stroke="#8a7456" stroke-width="1.0" opacity="0.51"/><line x1="355.3" y1="453.8" x2="355.3" y2="491.0" stroke="#6a5640" stroke-width="1.9" opacity="0.56"/><line x1="313.8" y1="402.0" x2="313.8" y2="421.8" stroke="#6a5640" stroke-width="1.5" opacity="0.66"/><line x1="348.3" y1="315.8" x2="348.3" y2="330.6" stroke="#8a7456" stroke-width="1.5" opacity="0.62"/><line x1="358.0" y1="344.6" x2="358.0" y2="368.9" stroke="#c4ac86" stroke-width="1.1" opacity="0.51"/><line x1="303.4" y1="321.7" x2="303.4" y2="355.9" stroke="#8a7456" stroke-width="0.9" opacity="0.75"/><line x1="296.1" y1="356.1" x2="296.1" y2="382.3" stroke="#6a5640" stroke-width="2.1" opacity="0.65"/><line x1="353.5" y1="438.0" x2="353.5" y2="475.2" stroke="#c4ac86" stroke-width="1.9" opacity="0.67"/><line x1="329.2" y1="346.0" x2="329.2" y2="366.2" stroke="#6a5640" stroke-width="2.2" opacity="0.52"/><line x1="315.0" y1="397.7" x2="315.0" y2="410.9" stroke="#c4ac86" stroke-width="2.2" opacity="0.41"/><line x1="317.6" y1="432.5" x2="317.6" y2="441.1" stroke="#8a7456" stroke-width="1.1" opacity="0.62"/><line x1="316.7" y1="428.7" x2="316.7" y2="438.5" stroke="#c4ac86" stroke-width="1.8" opacity="0.51"/><line x1="294.7" y1="377.0" x2="294.7" y2="416.5" stroke="#c4ac86" stroke-width="0.8" opacity="0.67"/><line x1="316.2" y1="458.3" x2="316.2" y2="489.1" stroke="#8a7456" stroke-width="0.8" opacity="0.69"/><line x1="303.0" y1="421.7" x2="303.0" y2="445.4" stroke="#8a7456" stroke-width="1.0" opacity="0.60"/><line x1="342.9" y1="418.3" x2="342.9" y2="433.6" stroke="#6a5640" stroke-width="1.1" opacity="0.58"/><line x1="345.5" y1="387.4" x2="345.5" y2="413.5" stroke="#c4ac86" stroke-width="1.1" opacity="0.55"/><line x1="352.1" y1="406.2" x2="352.1" y2="423.5" stroke="#6a5640" stroke-width="1.7" opacity="0.41"/><line x1="353.9" y1="420.8" x2="353.9" y2="452.3" stroke="#6a5640" stroke-width="1.2" opacity="0.82"/><line x1="332.2" y1="393.8" x2="332.2" y2="422.1" stroke="#c4ac86" stroke-width="0.9" opacity="0.82"/></g>
<g clip-path="url(#c8)">
<line x1="300" y1="300" x2="302" y2="470" stroke="#7e6a50" stroke-width="0.9" opacity="0.7"/>
<line x1="308" y1="300" x2="310" y2="470" stroke="#7e6a50" stroke-width="0.9" opacity="0.7"/>
<line x1="316" y1="300" x2="318" y2="470" stroke="#7e6a50" stroke-width="0.9" opacity="0.7"/>
<line x1="324" y1="300" x2="326" y2="470" stroke="#7e6a50" stroke-width="0.9" opacity="0.7"/>
<line x1="332" y1="300" x2="334" y2="470" stroke="#7e6a50" stroke-width="0.9" opacity="0.7"/>
<line x1="340" y1="300" x2="342" y2="470" stroke="#7e6a50" stroke-width="0.9" opacity="0.7"/>
<line x1="348" y1="300" x2="350" y2="470" stroke="#7e6a50" stroke-width="0.9" opacity="0.7"/>
<line x1="298.0" y1="350.0" x2="350.0" y2="460.0" stroke="#b29a74" stroke-width="5.0"/>
<line x1="296.5" y1="350.0" x2="348.5" y2="460.0" stroke="#cdb690" stroke-width="1" opacity="0.8"/>
<line x1="298.0" y1="430.0" x2="335.0" y2="375.0" stroke="#947c5c" stroke-width="4.5"/>
<line x1="305.0" y1="455.0" x2="330.0" y2="420.0" stroke="#8a7254" stroke-width="4.0"/>
</g>
<rect x="291.5" y="296.0" width="8.5" height="137.0" fill="url(#postG)"/>
<rect x="291.5" y="296.0" width="8.5" height="2" fill="#b8a282" opacity="0.7"/>
<rect x="292.5" y="343.9" width="6.5" height="2" fill="#5a4836" opacity="0.6"/>
<rect x="308.0" y="298.4" width="9.4" height="61.6" fill="url(#postG)"/>
<rect x="308.0" y="298.4" width="9.4" height="2" fill="#b8a282" opacity="0.7"/>
<rect x="309.0" y="320.0" width="7.4" height="2" fill="#5a4836" opacity="0.6"/>
<polygon points="296.0,319.0 302.5,318.0 354.0,422.0 348.0,425.0" fill="#c2ab86" />
<line x1="297" y1="322" x2="348.5" y2="423" stroke="#7c6648" stroke-width="1"/>
<polygon points="294.0,429.0 349.0,459.0 349.0,465.0 294.0,435.0" fill="#7e6a50" />
<rect x="348.0" y="421.0" width="10.3" height="44.0" fill="url(#postG)"/>
<rect x="348.0" y="421.0" width="10.3" height="2" fill="#b8a282" opacity="0.7"/>
<rect x="349.0" y="436.4" width="8.3" height="2" fill="#5a4836" opacity="0.6"/>
<polygon points="348.0,458.0 512.0,443.5 512.0,452.0 348.0,467.0" fill="url(#railG)" />
<path d="M352 462 L508 448 M360 465 L430 459 M450 454 L505 450" stroke="#5e4c3a" stroke-width="0.8" opacity="0.7"/>
<path d="M355 459.5 L420 454 M440 452 L500 446.5" stroke="#c8b496" stroke-width="0.8" opacity="0.7"/>
<rect x="592.5" y="282.5" width="9.0" height="7.5" rx="1.5" fill="#c6a87c"/>
<path d="M592.5 287 L584.5 299.5 L575.7 311.7 L565.2 322.2 L551.2 332.7 L547.5 338.5 Q596 352 643 338 L640.5 334.5 L631.7 327.5 L619.5 318.7 L607.2 304.7 L601.5 287 Z" fill="url(#coneG)"/>
<path d="M597.0 290.0 Q585.8 320.9 556.7 341.4" stroke="#cdb38b" stroke-width="0.8" fill="none" opacity="0.35"/>
<path d="M597.0 290.0 Q590.0 322.4 571.2 344.0" stroke="#cdb38b" stroke-width="0.8" fill="none" opacity="0.35"/>
<path d="M597.0 290.0 Q594.2 323.2 585.8 345.3" stroke="#cdb38b" stroke-width="0.8" fill="none" opacity="0.35"/>
<path d="M597.0 290.0 Q599.1 323.2 602.8 345.3" stroke="#cdb38b" stroke-width="0.8" fill="none" opacity="0.35"/>
<path d="M597.0 290.0 Q603.3 322.3 617.3 343.9" stroke="#cdb38b" stroke-width="0.8" fill="none" opacity="0.35"/>
<path d="M597.0 290.0 Q607.5 320.7 631.9 341.2" stroke="#cdb38b" stroke-width="0.8" fill="none" opacity="0.35"/>
<polygon points="547.0,339.0 549.4,339.7 551.9,340.3 554.3,340.9 556.7,341.4 559.1,341.9 561.5,342.4 564.0,342.9 566.4,343.3 568.8,343.7 571.2,344.0 573.7,344.3 576.1,344.6 578.5,344.8 581.0,345.0 583.4,345.2 585.8,345.3 588.2,345.4 590.6,345.5 593.1,345.5 595.5,345.5 597.9,345.5 600.4,345.4 602.8,345.3 605.2,345.1 607.6,344.9 610.0,344.7 612.5,344.5 614.9,344.2 617.3,343.9 619.8,343.5 622.2,343.1 624.6,342.7 627.0,342.2 629.5,341.7 631.9,341.2 634.3,340.6 636.7,340.0 639.1,339.4 641.6,338.7 644.0,338.0 644.0,347.0 641.6,347.8 639.1,348.6 636.7,349.3 634.3,350.0 631.9,350.6 629.5,351.2 627.0,351.8 624.6,352.3 622.2,352.8 619.8,353.2 617.3,353.7 614.9,354.0 612.5,354.3 610.0,354.6 607.6,354.9 605.2,355.1 602.8,355.2 600.4,355.4 597.9,355.5 595.5,355.5 593.1,355.5 590.6,355.5 588.2,355.4 585.8,355.3 583.4,355.1 581.0,354.9 578.5,354.7 576.1,354.4 573.7,354.1 571.2,353.8 568.8,353.4 566.4,352.9 564.0,352.4 561.5,351.9 559.1,351.4 556.7,350.8 554.3,350.1 551.9,349.5 549.4,348.8 547.0,348.0" fill="url(#bandG)" />
<polyline points="547.0,339.0 549.4,339.7 551.9,340.3 554.3,340.9 556.7,341.4 559.1,341.9 561.5,342.4 564.0,342.9 566.4,343.3 568.8,343.7 571.2,344.0 573.7,344.3 576.1,344.6 578.5,344.8 581.0,345.0 583.4,345.2 585.8,345.3 588.2,345.4 590.6,345.5 593.1,345.5 595.5,345.5 597.9,345.5 600.4,345.4 602.8,345.3 605.2,345.1 607.6,344.9 610.0,344.7 612.5,344.5 614.9,344.2 617.3,343.9 619.8,343.5 622.2,343.1 624.6,342.7 627.0,342.2 629.5,341.7 631.9,341.2 634.3,340.6 636.7,340.0 639.1,339.4 641.6,338.7 644.0,338.0" stroke="#eddbb6" stroke-width="1.4" fill="none"/>
<rect x="548.7" y="343.0" width="2.4" height="4.1" rx="1.1" fill="#5e4428" opacity="0.9"/>
<rect x="554.8" y="344.6" width="2.4" height="4.2" rx="1.1" fill="#5e4428" opacity="0.9"/>
<rect x="560.9" y="345.9" width="2.4" height="4.3" rx="1.1" fill="#5e4428" opacity="0.9"/>
<rect x="566.9" y="347.0" width="2.4" height="4.4" rx="1.1" fill="#5e4428" opacity="0.9"/>
<rect x="573.0" y="347.8" width="2.4" height="4.4" rx="1.1" fill="#5e4428" opacity="0.9"/>
<rect x="579.0" y="348.4" width="2.4" height="4.5" rx="1.1" fill="#5e4428" opacity="0.9"/>
<rect x="585.1" y="348.8" width="2.4" height="4.5" rx="1.1" fill="#5e4428" opacity="0.9"/>
<rect x="591.2" y="349.0" width="2.4" height="4.5" rx="1.1" fill="#5e4428" opacity="0.9"/>
<rect x="597.2" y="348.9" width="2.4" height="4.5" rx="1.1" fill="#5e4428" opacity="0.9"/>
<rect x="603.3" y="348.6" width="2.4" height="4.5" rx="1.1" fill="#5e4428" opacity="0.9"/>
<rect x="609.4" y="348.1" width="2.4" height="4.5" rx="1.1" fill="#5e4428" opacity="0.9"/>
<rect x="615.4" y="347.4" width="2.4" height="4.4" rx="1.1" fill="#5e4428" opacity="0.9"/>
<rect x="621.5" y="346.4" width="2.4" height="4.4" rx="1.1" fill="#5e4428" opacity="0.9"/>
<rect x="627.5" y="345.2" width="2.4" height="4.3" rx="1.1" fill="#5e4428" opacity="0.9"/>
<rect x="633.6" y="343.7" width="2.4" height="4.2" rx="1.1" fill="#5e4428" opacity="0.9"/>
<rect x="639.7" y="342.1" width="2.4" height="4.1" rx="1.1" fill="#5e4428" opacity="0.9"/>
<rect x="727.0" y="319.0" width="8.0" height="8.0" rx="1.5" fill="#c6a87c"/>
<path d="M726 326 L725.5 330 C720 338 716 342 713 345 C704 355 695 362 688 366 C683 371 680 375 677.5 381 Q729 389 779.5 380 C777 374 774 370 770 366 C762 359 756 352 749.5 347 C743 340 739 335 736.5 330 L736 326 Z" fill="url(#coneG)"/>
<path d="M731.0 327.0 Q719.8 360.5 687.3 382.9" stroke="#cdb38b" stroke-width="0.8" fill="none" opacity="0.35"/>
<path d="M731.0 327.0 Q724.0 361.7 702.8 384.9" stroke="#cdb38b" stroke-width="0.8" fill="none" opacity="0.35"/>
<path d="M731.0 327.0 Q728.2 362.3 718.2 385.9" stroke="#cdb38b" stroke-width="0.8" fill="none" opacity="0.35"/>
<path d="M731.0 327.0 Q733.1 362.3 736.2 385.8" stroke="#cdb38b" stroke-width="0.8" fill="none" opacity="0.35"/>
<path d="M731.0 327.0 Q737.3 361.6 751.7 384.7" stroke="#cdb38b" stroke-width="0.8" fill="none" opacity="0.35"/>
<path d="M731.0 327.0 Q741.5 360.3 767.1 382.5" stroke="#cdb38b" stroke-width="0.8" fill="none" opacity="0.35"/>
<polygon points="677.0,381.0 679.6,381.5 682.1,382.0 684.7,382.5 687.3,382.9 689.9,383.3 692.5,383.7 695.0,384.0 697.6,384.3 700.2,384.6 702.8,384.9 705.3,385.1 707.9,385.3 710.5,385.5 713.0,385.7 715.6,385.8 718.2,385.9 720.8,386.0 723.4,386.0 725.9,386.0 728.5,386.0 731.1,386.0 733.6,385.9 736.2,385.8 738.8,385.7 741.4,385.5 744.0,385.4 746.5,385.2 749.1,384.9 751.7,384.7 754.2,384.4 756.8,384.1 759.4,383.7 762.0,383.4 764.5,383.0 767.1,382.5 769.7,382.1 772.3,381.6 774.9,381.1 777.4,380.6 780.0,380.0 780.0,389.0 777.4,389.7 774.9,390.3 772.3,390.9 769.7,391.5 767.1,392.1 764.5,392.6 762.0,393.0 759.4,393.5 756.8,393.9 754.2,394.2 751.7,394.6 749.1,394.9 746.5,395.1 744.0,395.4 741.4,395.6 738.8,395.7 736.2,395.8 733.6,395.9 731.1,396.0 728.5,396.0 725.9,396.0 723.4,395.9 720.8,395.8 718.2,395.7 715.6,395.6 713.0,395.4 710.5,395.1 707.9,394.9 705.3,394.6 702.8,394.2 700.2,393.9 697.6,393.5 695.0,393.0 692.5,392.6 689.9,392.1 687.3,391.5 684.7,390.9 682.1,390.3 679.6,389.7 677.0,389.0" fill="url(#bandG)" />
<polyline points="677.0,381.0 679.6,381.5 682.1,382.0 684.7,382.5 687.3,382.9 689.9,383.3 692.5,383.7 695.0,384.0 697.6,384.3 700.2,384.6 702.8,384.9 705.3,385.1 707.9,385.3 710.5,385.5 713.0,385.7 715.6,385.8 718.2,385.9 720.8,386.0 723.4,386.0 725.9,386.0 728.5,386.0 731.1,386.0 733.6,385.9 736.2,385.8 738.8,385.7 741.4,385.5 744.0,385.4 746.5,385.2 749.1,384.9 751.7,384.7 754.2,384.4 756.8,384.1 759.4,383.7 762.0,383.4 764.5,383.0 767.1,382.5 769.7,382.1 772.3,381.6 774.9,381.1 777.4,380.6 780.0,380.0" stroke="#eddbb6" stroke-width="1.4" fill="none"/>
<path d="M677.0 386.0 Q680.4 392.9 683.9 387.7 Q687.3 394.5 690.7 389.2 Q694.2 395.9 697.6 390.5 Q701.0 397.0 704.5 391.5 Q707.9 397.9 711.3 392.2 Q714.8 398.5 718.2 392.7 Q721.6 398.9 725.1 393.0 Q728.5 399.0 731.9 393.0 Q735.4 398.9 738.8 392.7 Q742.2 398.5 745.7 392.2 Q749.1 397.9 752.5 391.5 Q756.0 397.0 759.4 390.5 Q762.8 395.9 766.3 389.2 Q769.7 394.5 773.1 387.7 Q776.6 392.9 780.0 386.0" fill="none" stroke="#8e7048" stroke-width="1.6"/>
<path d="M677.0 384.0 Q680.4 390.4 683.9 385.7 Q687.3 392.0 690.7 387.2 Q694.2 393.4 697.6 388.5 Q701.0 394.5 704.5 389.5 Q707.9 395.4 711.3 390.2 Q714.8 396.0 718.2 390.7 Q721.6 396.4 725.1 391.0 Q728.5 396.5 731.9 391.0 Q735.4 396.4 738.8 390.7 Q742.2 396.0 745.7 390.2 Q749.1 395.4 752.5 389.5 Q756.0 394.5 759.4 388.5 Q762.8 393.4 766.3 387.2 Q769.7 392.0 773.1 385.7 Q776.6 390.4 780.0 384.0" fill="none" stroke="#e6cfa4" stroke-width="1.2"/>
<rect x="683.4" y="378.4" width="2" height="5" fill="#b8996c"/>
<rect x="698.1" y="380.5" width="2" height="5" fill="#b8996c"/>
<rect x="712.8" y="381.7" width="2" height="5" fill="#b8996c"/>
<rect x="727.5" y="382.0" width="2" height="5" fill="#b8996c"/>
<rect x="742.2" y="381.4" width="2" height="5" fill="#b8996c"/>
<rect x="756.9" y="379.9" width="2" height="5" fill="#b8996c"/>
<rect x="771.6" y="377.5" width="2" height="5" fill="#b8996c"/>
<rect x="548.8" y="331.0" width="2.4" height="6" fill="#c8ad84"/>
<rect x="639.8" y="331.0" width="2.4" height="6" fill="#c8ad84"/>
<rect x="678.8" y="374.0" width="2.4" height="6" fill="#c8ad84"/>
<rect x="775.8" y="373.0" width="2.4" height="6" fill="#c8ad84"/>
<ellipse cx="591.5" cy="393.5" rx="45.0" ry="9.5" fill="#a08866"/>
<ellipse cx="591.5" cy="394.0" rx="42.0" ry="7.0" fill="url(#inG)"/>
<rect x="550.6" y="382.0" width="8.8" height="17.0" rx="1" fill="url(#tpG)"/>
<rect x="550.6" y="382.0" width="8.8" height="2" fill="#c4ae8c"/>
<rect x="612.8" y="380.0" width="9.6" height="18.0" rx="1" fill="url(#tpG)"/>
<rect x="612.8" y="380.0" width="9.6" height="2" fill="#c4ae8c"/>
<path d="M546.5 392 L560 397 L592 402.5 L625 398 L637 394.5 L641 402 L653 446 Q642 457 626 462 L600 465 Q570 460 530 447 Q534 430 541 410 Z" fill="url(#tentG)"/>
<polyline points="546.5,392 560,397 592,402.5 625,398 637,394.5" fill="none" stroke="#ead6b0" stroke-width="1.6"/>
<line x1="556" y1="400" x2="548" y2="450" stroke="#8e7656" stroke-width="2.2" opacity="0.7"/>
<line x1="570" y1="401" x2="566" y2="456" stroke="#d0b282" stroke-width="2.2" opacity="0.7"/>
<line x1="578" y1="402" x2="575" y2="458" stroke="#9a8060" stroke-width="2.2" opacity="0.7"/>
<line x1="640" y1="400" x2="648" y2="452" stroke="#7a664c" stroke-width="2.2" opacity="0.7"/>
<path d="M607 409 Q596 413 592 421 L591 451 L627 449 Q624 436 620 428 Q613 416 607 409 Z" fill="url(#darkG)"/>
<path d="M590 452 L627 449 L638 457 Q622 462 600 464 L592 459 Z" fill="#7e705e"/>
<path d="M592 452 L627 449" stroke="#5e5244" stroke-width="1" opacity="0.7"/>
<path d="M579 403 Q595 405 607 409 Q597 412 592 421 Q586 414 579 403 Z" fill="#ccb080"/>
<path d="M588 418 Q594 430 591 446 L587 446 Q589 430 584 420 Z" fill="#b89c70"/>
<path d="M607 409 Q615 404 622 404 Q628 430 640 455 L632 458 Q624 440 607 409 Z" fill="#d2b686"/>
<ellipse cx="725.5" cy="429.0" rx="48.5" ry="11.5" fill="#a08866"/>
<ellipse cx="725.5" cy="429.5" rx="45.5" ry="9.0" fill="url(#inG)"/>
<rect x="688.4" y="412.0" width="11.3" height="21.0" rx="1" fill="url(#tpG)"/>
<rect x="688.4" y="412.0" width="11.3" height="2" fill="#c4ae8c"/>
<rect x="758.8" y="417.0" width="9.7" height="19.0" rx="1" fill="url(#tpG)"/>
<rect x="758.8" y="417.0" width="9.7" height="2" fill="#c4ae8c"/>
<path d="M678 427 L690 434 L712 439.5 L740 440 L760 436 L773 428 L776 436 L791 488 Q766 496 741 497 Q712 501 688 499 Q668 490 657 478 Q663 455 672 436 Z" fill="url(#tentG2)"/>
<polyline points="678,427 690,434 712,439.5 740,440 760,436 773,428" fill="none" stroke="#ead6b0" stroke-width="1.6"/>
<line x1="690" y1="436" x2="676" y2="485" stroke="#d2b686" stroke-width="2.2" opacity="0.7"/>
<line x1="705" y1="440" x2="700" y2="470" stroke="#9e8460" stroke-width="2.2" opacity="0.7"/>
<line x1="765" y1="437" x2="775" y2="490" stroke="#9a8262" stroke-width="2.2" opacity="0.7"/>
<line x1="752" y1="440" x2="758" y2="494" stroke="#c8ac7e" stroke-width="2.2" opacity="0.7"/>
<path d="M719.5 445 Q712 468 699 491 Q720 498 741 496 Q730 470 719.5 445 Z" fill="url(#darkG)"/>
<path d="M720 444 Q728 470 741 496 L748 495 Q735 470 722 443 Z" fill="#dcc090" opacity="0.9"/>
<path d="M719 444 Q714 470 700 492 L695 490 Q708 468 717 444 Z" fill="#c2a676" opacity="0.9"/>
<g clip-path="url(#t2c)">
<ellipse cx="764.3" cy="488.8" rx="1.4" ry="1.5" fill="#8e7a60" opacity="0.8"/>
<ellipse cx="699.4" cy="497.5" rx="2.5" ry="1.0" fill="#8e7a60" opacity="0.8"/>
<ellipse cx="770.9" cy="485.2" rx="2.4" ry="0.9" fill="#b09a78" opacity="0.8"/>
<ellipse cx="726.9" cy="496.4" rx="1.3" ry="1.1" fill="#8e7a60" opacity="0.8"/>
<ellipse cx="732.5" cy="490.6" rx="1.7" ry="1.0" fill="#8e7a60" opacity="0.8"/>
<ellipse cx="672.4" cy="490.0" rx="1.8" ry="1.2" fill="#8e7a60" opacity="0.8"/>
<ellipse cx="674.8" cy="496.0" rx="2.1" ry="1.0" fill="#6e5e4a" opacity="0.8"/>
<ellipse cx="770.8" cy="485.9" rx="1.7" ry="0.9" fill="#8e7a60" opacity="0.8"/>
<ellipse cx="696.8" cy="494.3" rx="2.4" ry="1.6" fill="#6e5e4a" opacity="0.8"/>
<ellipse cx="781.9" cy="484.4" rx="2.3" ry="1.6" fill="#b09a78" opacity="0.8"/>
<ellipse cx="690.1" cy="492.7" rx="2.1" ry="1.4" fill="#c4ac84" opacity="0.8"/>
<ellipse cx="663.6" cy="497.8" rx="1.1" ry="1.3" fill="#6e5e4a" opacity="0.8"/>
<ellipse cx="759.3" cy="490.4" rx="1.4" ry="1.2" fill="#c4ac84" opacity="0.8"/>
<ellipse cx="669.2" cy="492.7" rx="2.0" ry="0.9" fill="#6e5e4a" opacity="0.8"/>
<ellipse cx="730.0" cy="488.2" rx="1.7" ry="1.1" fill="#c4ac84" opacity="0.8"/>
<ellipse cx="735.7" cy="488.6" rx="1.7" ry="1.4" fill="#8e7a60" opacity="0.8"/>
<ellipse cx="751.7" cy="489.2" rx="2.0" ry="1.2" fill="#c4ac84" opacity="0.8"/>
<ellipse cx="786.7" cy="484.4" rx="2.3" ry="1.0" fill="#b09a78" opacity="0.8"/>
<ellipse cx="760.8" cy="486.8" rx="1.2" ry="0.8" fill="#b09a78" opacity="0.8"/>
<ellipse cx="747.8" cy="494.9" rx="2.5" ry="1.3" fill="#c4ac84" opacity="0.8"/>
<ellipse cx="724.7" cy="490.7" rx="2.3" ry="0.9" fill="#c4ac84" opacity="0.8"/>
<ellipse cx="699.8" cy="490.8" rx="1.7" ry="1.0" fill="#c4ac84" opacity="0.8"/>
<ellipse cx="671.1" cy="488.2" rx="1.2" ry="0.9" fill="#8e7a60" opacity="0.8"/>
<ellipse cx="727.3" cy="494.8" rx="2.2" ry="0.9" fill="#c4ac84" opacity="0.8"/>
<ellipse cx="698.3" cy="496.8" rx="1.8" ry="1.5" fill="#c4ac84" opacity="0.8"/>
<ellipse cx="686.8" cy="496.3" rx="1.6" ry="1.0" fill="#8e7a60" opacity="0.8"/>
<ellipse cx="771.8" cy="488.1" rx="2.4" ry="1.4" fill="#6e5e4a" opacity="0.8"/>
<ellipse cx="758.6" cy="496.1" rx="1.7" ry="1.4" fill="#c4ac84" opacity="0.8"/>
<ellipse cx="726.6" cy="492.0" rx="2.3" ry="1.1" fill="#6e5e4a" opacity="0.8"/>
<ellipse cx="780.4" cy="486.7" rx="1.2" ry="0.9" fill="#8e7a60" opacity="0.8"/>
<ellipse cx="689.2" cy="496.2" rx="1.9" ry="1.3" fill="#8e7a60" opacity="0.8"/>
<ellipse cx="729.5" cy="496.6" rx="2.4" ry="0.9" fill="#b09a78" opacity="0.8"/>
<ellipse cx="696.7" cy="489.6" rx="2.5" ry="0.8" fill="#c4ac84" opacity="0.8"/>
<ellipse cx="673.1" cy="495.0" rx="1.1" ry="1.2" fill="#8e7a60" opacity="0.8"/>
<ellipse cx="668.0" cy="495.5" rx="1.2" ry="1.1" fill="#8e7a60" opacity="0.8"/>
<ellipse cx="717.0" cy="489.1" rx="1.6" ry="0.9" fill="#6e5e4a" opacity="0.8"/>
<ellipse cx="766.7" cy="494.7" rx="1.9" ry="1.5" fill="#8e7a60" opacity="0.8"/>
<ellipse cx="670.9" cy="493.5" rx="2.5" ry="1.1" fill="#8e7a60" opacity="0.8"/>
<ellipse cx="684.8" cy="492.8" rx="1.8" ry="1.4" fill="#6e5e4a" opacity="0.8"/>
<ellipse cx="703.6" cy="490.3" rx="1.7" ry="1.1" fill="#c4ac84" opacity="0.8"/>
</g>
<polygon points="12.0,529.5 16.0,543.0 18.0,551.0 20.3,578.0 23.0,587.0 28.0,616.5 30.0,625.0 36.0,658.0 38.0,668.5 33.0,668.0 12.0,540.0" fill="#b09a7a" />
<polygon points="12.5,529.5 187.5,509.0 199.0,523.0 15.6,543.0" fill="url(#treadG)" />
<g clip-path="url(#c9)">
<line x1="40.1" y1="533.1" x2="64.4" y2="530.3" stroke="#c4b6a0" stroke-width="1.0" opacity="0.55"/>
<line x1="93.6" y1="531.3" x2="111.9" y2="529.2" stroke="#7e705e" stroke-width="1.0" opacity="0.55"/>
<line x1="62.1" y1="533.1" x2="83.3" y2="530.7" stroke="#bcae98" stroke-width="0.8" opacity="0.55"/>
<line x1="70.9" y1="533.4" x2="81.0" y2="532.3" stroke="#bcae98" stroke-width="0.7" opacity="0.55"/>
<line x1="173.1" y1="517.0" x2="188.4" y2="515.2" stroke="#bcae98" stroke-width="0.8" opacity="0.55"/>
<line x1="95.5" y1="524.6" x2="120.3" y2="521.8" stroke="#c4b6a0" stroke-width="0.7" opacity="0.55"/>
<line x1="127.8" y1="519.0" x2="132.9" y2="518.5" stroke="#c4b6a0" stroke-width="0.7" opacity="0.55"/>
<line x1="164.0" y1="515.4" x2="173.1" y2="514.3" stroke="#7e705e" stroke-width="1.1" opacity="0.55"/>
<line x1="56.5" y1="531.2" x2="77.4" y2="528.8" stroke="#c4b6a0" stroke-width="0.7" opacity="0.55"/>
<line x1="116.6" y1="530.9" x2="136.8" y2="528.5" stroke="#8a7c6a" stroke-width="1.0" opacity="0.55"/>
<line x1="75.8" y1="531.8" x2="94.4" y2="529.7" stroke="#8a7c6a" stroke-width="1.2" opacity="0.55"/>
<line x1="83.8" y1="523.4" x2="91.3" y2="522.5" stroke="#8a7c6a" stroke-width="1.0" opacity="0.55"/>
<line x1="61.0" y1="535.5" x2="88.7" y2="532.3" stroke="#c4b6a0" stroke-width="1.1" opacity="0.55"/>
<line x1="106.2" y1="526.1" x2="125.8" y2="523.9" stroke="#bcae98" stroke-width="0.6" opacity="0.55"/>
<line x1="118.0" y1="522.7" x2="124.3" y2="522.0" stroke="#8a7c6a" stroke-width="1.0" opacity="0.55"/>
<line x1="34.3" y1="529.0" x2="54.1" y2="526.7" stroke="#bcae98" stroke-width="1.1" opacity="0.55"/>
<line x1="106.4" y1="522.7" x2="131.5" y2="519.8" stroke="#8a7c6a" stroke-width="0.8" opacity="0.55"/>
<line x1="15.3" y1="531.9" x2="25.1" y2="530.8" stroke="#7e705e" stroke-width="1.0" opacity="0.55"/>
<line x1="51.2" y1="531.1" x2="79.6" y2="527.8" stroke="#c4b6a0" stroke-width="1.0" opacity="0.55"/>
<line x1="43.1" y1="539.1" x2="64.2" y2="536.7" stroke="#7e705e" stroke-width="1.0" opacity="0.55"/>
<line x1="44.2" y1="536.8" x2="71.0" y2="533.7" stroke="#7e705e" stroke-width="1.2" opacity="0.55"/>
<line x1="178.5" y1="513.6" x2="184.5" y2="512.9" stroke="#bcae98" stroke-width="1.0" opacity="0.55"/>
<line x1="34.7" y1="529.1" x2="63.3" y2="525.8" stroke="#c4b6a0" stroke-width="0.6" opacity="0.55"/>
<line x1="90.3" y1="527.4" x2="112.7" y2="524.8" stroke="#bcae98" stroke-width="1.0" opacity="0.55"/>
<line x1="167.1" y1="518.3" x2="192.8" y2="515.3" stroke="#c4b6a0" stroke-width="0.6" opacity="0.55"/>
<line x1="191.3" y1="513.6" x2="221.0" y2="510.2" stroke="#8a7c6a" stroke-width="1.1" opacity="0.55"/>
<line x1="30.3" y1="531.5" x2="36.4" y2="530.8" stroke="#8a7c6a" stroke-width="0.6" opacity="0.55"/>
<line x1="153.2" y1="515.0" x2="158.8" y2="514.4" stroke="#8a7c6a" stroke-width="0.7" opacity="0.55"/>
<line x1="14.7" y1="531.6" x2="27.2" y2="530.1" stroke="#7e705e" stroke-width="1.1" opacity="0.55"/>
<line x1="160.2" y1="518.2" x2="182.0" y2="515.7" stroke="#c4b6a0" stroke-width="0.6" opacity="0.55"/>
<line x1="155.6" y1="525.8" x2="162.7" y2="525.0" stroke="#8a7c6a" stroke-width="1.1" opacity="0.55"/>
<line x1="111.2" y1="521.4" x2="133.7" y2="518.8" stroke="#7e705e" stroke-width="1.0" opacity="0.55"/>
<line x1="103.1" y1="522.5" x2="117.7" y2="520.8" stroke="#c4b6a0" stroke-width="0.7" opacity="0.55"/>
<line x1="178.2" y1="519.4" x2="197.6" y2="517.1" stroke="#8a7c6a" stroke-width="0.6" opacity="0.55"/>
<line x1="97.7" y1="530.2" x2="113.6" y2="528.4" stroke="#7e705e" stroke-width="1.0" opacity="0.55"/>
<line x1="35.3" y1="529.6" x2="55.7" y2="527.2" stroke="#7e705e" stroke-width="0.8" opacity="0.55"/>
<line x1="97.6" y1="529.7" x2="124.1" y2="526.7" stroke="#7e705e" stroke-width="0.6" opacity="0.55"/>
<line x1="176.2" y1="517.2" x2="195.4" y2="515.0" stroke="#c4b6a0" stroke-width="0.7" opacity="0.55"/>
<line x1="30.4" y1="536.2" x2="37.8" y2="535.4" stroke="#bcae98" stroke-width="0.7" opacity="0.55"/>
<line x1="151.0" y1="522.2" x2="160.2" y2="521.2" stroke="#8a7c6a" stroke-width="1.0" opacity="0.55"/>
<line x1="84.3" y1="533.4" x2="91.9" y2="532.6" stroke="#c4b6a0" stroke-width="1.1" opacity="0.55"/>
<line x1="36.4" y1="539.0" x2="61.0" y2="536.2" stroke="#8a7c6a" stroke-width="0.7" opacity="0.55"/>
<line x1="155.6" y1="526.1" x2="166.3" y2="524.9" stroke="#7e705e" stroke-width="0.7" opacity="0.55"/>
<line x1="33.0" y1="529.6" x2="49.7" y2="527.6" stroke="#7e705e" stroke-width="1.0" opacity="0.55"/>
<line x1="76.8" y1="529.2" x2="94.1" y2="527.2" stroke="#8a7c6a" stroke-width="0.6" opacity="0.55"/>
<line x1="111.3" y1="531.4" x2="135.5" y2="528.6" stroke="#bcae98" stroke-width="0.6" opacity="0.55"/>
<line x1="116.1" y1="521.8" x2="145.7" y2="518.3" stroke="#7e705e" stroke-width="0.7" opacity="0.55"/>
<line x1="79.1" y1="527.1" x2="99.7" y2="524.7" stroke="#7e705e" stroke-width="0.8" opacity="0.55"/>
<line x1="174.1" y1="521.1" x2="202.4" y2="517.8" stroke="#bcae98" stroke-width="0.8" opacity="0.55"/>
<line x1="42.6" y1="534.5" x2="63.8" y2="532.1" stroke="#bcae98" stroke-width="1.2" opacity="0.55"/>
<line x1="138.8" y1="517.2" x2="151.7" y2="515.8" stroke="#bcae98" stroke-width="0.8" opacity="0.55"/>
<line x1="40.0" y1="529.0" x2="68.3" y2="525.8" stroke="#7e705e" stroke-width="0.7" opacity="0.55"/>
<line x1="107.1" y1="525.8" x2="127.1" y2="523.5" stroke="#7e705e" stroke-width="1.1" opacity="0.55"/>
<line x1="92.5" y1="525.9" x2="99.6" y2="525.1" stroke="#7e705e" stroke-width="0.9" opacity="0.55"/>
<line x1="80.9" y1="525.3" x2="90.4" y2="524.2" stroke="#8a7c6a" stroke-width="0.8" opacity="0.55"/>
<line x1="184.1" y1="516.1" x2="211.9" y2="512.9" stroke="#c4b6a0" stroke-width="0.8" opacity="0.55"/>
<line x1="18.4" y1="533.3" x2="44.8" y2="530.3" stroke="#bcae98" stroke-width="0.6" opacity="0.55"/>
<line x1="90.0" y1="530.7" x2="98.0" y2="529.8" stroke="#c4b6a0" stroke-width="0.8" opacity="0.55"/>
<line x1="153.1" y1="521.1" x2="168.2" y2="519.4" stroke="#7e705e" stroke-width="0.9" opacity="0.55"/>
<line x1="73.5" y1="527.0" x2="93.4" y2="524.7" stroke="#7e705e" stroke-width="1.1" opacity="0.55"/>
<line x1="80.1" y1="534.4" x2="91.6" y2="533.1" stroke="#c4b6a0" stroke-width="0.9" opacity="0.55"/>
<line x1="141.8" y1="519.5" x2="156.8" y2="517.8" stroke="#8a7c6a" stroke-width="0.7" opacity="0.55"/>
<line x1="35.6" y1="530.4" x2="53.0" y2="528.4" stroke="#c4b6a0" stroke-width="1.0" opacity="0.55"/>
<line x1="58.4" y1="531.6" x2="65.9" y2="530.7" stroke="#bcae98" stroke-width="0.7" opacity="0.55"/>
<line x1="56.1" y1="526.0" x2="80.9" y2="523.2" stroke="#8a7c6a" stroke-width="1.1" opacity="0.55"/>
<line x1="55.3" y1="537.3" x2="68.7" y2="535.8" stroke="#7e705e" stroke-width="1.0" opacity="0.55"/>
<line x1="100.7" y1="529.2" x2="128.0" y2="526.0" stroke="#7e705e" stroke-width="0.9" opacity="0.55"/>
<line x1="170.8" y1="522.1" x2="185.2" y2="520.4" stroke="#bcae98" stroke-width="0.8" opacity="0.55"/>
<line x1="22.6" y1="541.1" x2="51.1" y2="537.8" stroke="#7e705e" stroke-width="1.1" opacity="0.55"/>
<line x1="63.2" y1="530.1" x2="91.5" y2="526.9" stroke="#8a7c6a" stroke-width="1.0" opacity="0.55"/>
<line x1="127.7" y1="526.1" x2="154.7" y2="523.0" stroke="#c4b6a0" stroke-width="1.0" opacity="0.55"/>
<line x1="174.4" y1="514.4" x2="181.7" y2="513.6" stroke="#c4b6a0" stroke-width="1.0" opacity="0.55"/>
<line x1="171.1" y1="515.1" x2="178.2" y2="514.3" stroke="#bcae98" stroke-width="1.2" opacity="0.55"/>
<line x1="104.3" y1="525.1" x2="133.5" y2="521.8" stroke="#bcae98" stroke-width="1.1" opacity="0.55"/>
<line x1="90.5" y1="524.9" x2="112.7" y2="522.3" stroke="#7e705e" stroke-width="0.9" opacity="0.55"/>
<line x1="182.7" y1="511.1" x2="198.2" y2="509.3" stroke="#c4b6a0" stroke-width="1.1" opacity="0.55"/>
<line x1="123.9" y1="528.1" x2="148.8" y2="525.2" stroke="#c4b6a0" stroke-width="1.0" opacity="0.55"/>
<line x1="111.4" y1="530.3" x2="128.2" y2="528.3" stroke="#bcae98" stroke-width="1.1" opacity="0.55"/>
<line x1="63.2" y1="525.1" x2="92.9" y2="521.7" stroke="#7e705e" stroke-width="1.1" opacity="0.55"/>
<line x1="191.7" y1="520.3" x2="211.2" y2="518.0" stroke="#bcae98" stroke-width="0.7" opacity="0.55"/>
<line x1="166.3" y1="522.8" x2="177.3" y2="521.5" stroke="#c4b6a0" stroke-width="1.1" opacity="0.55"/>
<line x1="86.6" y1="525.9" x2="112.9" y2="522.9" stroke="#c4b6a0" stroke-width="0.8" opacity="0.55"/>
<line x1="143.1" y1="524.3" x2="151.0" y2="523.4" stroke="#bcae98" stroke-width="0.6" opacity="0.55"/>
<line x1="144.3" y1="515.8" x2="160.0" y2="514.0" stroke="#c4b6a0" stroke-width="0.7" opacity="0.55"/>
<line x1="33.5" y1="531.1" x2="48.0" y2="529.4" stroke="#8a7c6a" stroke-width="0.9" opacity="0.55"/>
<line x1="43.8" y1="534.6" x2="72.1" y2="531.4" stroke="#8a7c6a" stroke-width="1.0" opacity="0.55"/>
<line x1="76.0" y1="528.5" x2="82.9" y2="527.7" stroke="#bcae98" stroke-width="1.2" opacity="0.55"/>
<line x1="82.4" y1="526.3" x2="101.0" y2="524.2" stroke="#8a7c6a" stroke-width="1.1" opacity="0.55"/>
<line x1="142.7" y1="524.3" x2="158.0" y2="522.5" stroke="#c4b6a0" stroke-width="0.7" opacity="0.55"/>
<line x1="141.2" y1="523.8" x2="161.1" y2="521.5" stroke="#8a7c6a" stroke-width="0.6" opacity="0.55"/>
<line x1="13.5" y1="534.0" x2="191.3" y2="513.6" stroke="#7a6c5c" stroke-width="0.8" opacity="0.6"/>
<line x1="14.5" y1="538.4" x2="195.1" y2="518.2" stroke="#7a6c5c" stroke-width="0.8" opacity="0.6"/>
<line x1="60.7" y1="526.7" x2="64.7" y2="536.9" stroke="#6e6050" stroke-width="0.9" opacity="0.6"/>
<line x1="110.7" y1="520.9" x2="116.5" y2="531.3" stroke="#6e6050" stroke-width="0.9" opacity="0.6"/>
<line x1="152.7" y1="516.1" x2="160.0" y2="526.5" stroke="#6e6050" stroke-width="0.9" opacity="0.6"/>
</g>
<polygon points="15.6,543.0 199.0,523.0 199.0,529.0 16.1,551.0" fill="#bcaa8e" />
<line x1="18.1" y1="534.0" x2="19.6" y2="542.0" stroke="#3e3428" stroke-width="1.6"/>
<line x1="15.6" y1="543.6" x2="199.0" y2="523.6" stroke="#d2c2a6" stroke-width="1.3"/>
<polygon points="187.5,509.0 199.0,523.0 199.0,529.0 188.0,512.0" fill="#a08c70" />
<polygon points="15.6,550.5 193.5,528.0 193.0,537.5 18.5,561.0" fill="url(#riserG)" />
<line x1="18.5" y1="560.0" x2="193.0" y2="536.5" stroke="#8a7a68" stroke-width="1.5" opacity="0.6"/>
<polygon points="18.5,561.0 193.0,537.5 211.0,556.3 20.3,578.0" fill="url(#treadG)" />
<g clip-path="url(#c10)">
<line x1="122.9" y1="552.1" x2="152.0" y2="548.8" stroke="#8a7c6a" stroke-width="0.9" opacity="0.55"/>
<line x1="137.8" y1="550.5" x2="148.4" y2="549.3" stroke="#8a7c6a" stroke-width="0.9" opacity="0.55"/>
<line x1="160.6" y1="549.6" x2="176.6" y2="547.8" stroke="#8a7c6a" stroke-width="0.7" opacity="0.55"/>
<line x1="36.5" y1="571.9" x2="50.6" y2="570.2" stroke="#c4b6a0" stroke-width="1.1" opacity="0.55"/>
<line x1="64.6" y1="568.9" x2="80.1" y2="567.1" stroke="#7e705e" stroke-width="0.9" opacity="0.55"/>
<line x1="72.9" y1="557.3" x2="98.5" y2="554.3" stroke="#8a7c6a" stroke-width="1.0" opacity="0.55"/>
<line x1="179.5" y1="548.4" x2="194.0" y2="546.7" stroke="#c4b6a0" stroke-width="0.6" opacity="0.55"/>
<line x1="154.7" y1="551.9" x2="181.5" y2="548.8" stroke="#bcae98" stroke-width="0.9" opacity="0.55"/>
<line x1="79.7" y1="555.0" x2="102.3" y2="552.4" stroke="#7e705e" stroke-width="0.8" opacity="0.55"/>
<line x1="175.6" y1="559.1" x2="191.4" y2="557.3" stroke="#8a7c6a" stroke-width="0.6" opacity="0.55"/>
<line x1="47.7" y1="569.2" x2="70.9" y2="566.6" stroke="#8a7c6a" stroke-width="1.1" opacity="0.55"/>
<line x1="120.5" y1="552.0" x2="146.6" y2="549.0" stroke="#8a7c6a" stroke-width="1.1" opacity="0.55"/>
<line x1="52.7" y1="566.3" x2="79.5" y2="563.2" stroke="#7e705e" stroke-width="0.6" opacity="0.55"/>
<line x1="125.1" y1="557.5" x2="147.7" y2="554.9" stroke="#c4b6a0" stroke-width="1.1" opacity="0.55"/>
<line x1="41.9" y1="570.3" x2="66.2" y2="567.5" stroke="#c4b6a0" stroke-width="1.1" opacity="0.55"/>
<line x1="44.0" y1="562.1" x2="68.8" y2="559.2" stroke="#c4b6a0" stroke-width="1.2" opacity="0.55"/>
<line x1="190.5" y1="541.4" x2="199.2" y2="540.4" stroke="#8a7c6a" stroke-width="0.8" opacity="0.55"/>
<line x1="31.9" y1="569.1" x2="54.2" y2="566.6" stroke="#8a7c6a" stroke-width="0.9" opacity="0.55"/>
<line x1="55.4" y1="568.2" x2="68.6" y2="566.7" stroke="#8a7c6a" stroke-width="1.2" opacity="0.55"/>
<line x1="63.7" y1="559.9" x2="71.5" y2="559.0" stroke="#8a7c6a" stroke-width="0.7" opacity="0.55"/>
<line x1="73.4" y1="570.7" x2="82.8" y2="569.6" stroke="#7e705e" stroke-width="1.0" opacity="0.55"/>
<line x1="175.7" y1="550.0" x2="194.9" y2="547.7" stroke="#8a7c6a" stroke-width="0.7" opacity="0.55"/>
<line x1="70.3" y1="566.1" x2="89.1" y2="564.0" stroke="#8a7c6a" stroke-width="0.8" opacity="0.55"/>
<line x1="187.9" y1="545.4" x2="209.8" y2="542.9" stroke="#c4b6a0" stroke-width="0.8" opacity="0.55"/>
<line x1="28.8" y1="564.6" x2="35.4" y2="563.9" stroke="#bcae98" stroke-width="1.0" opacity="0.55"/>
<line x1="44.8" y1="561.1" x2="50.4" y2="560.4" stroke="#bcae98" stroke-width="1.0" opacity="0.55"/>
<line x1="143.7" y1="552.3" x2="165.3" y2="549.8" stroke="#bcae98" stroke-width="0.7" opacity="0.55"/>
<line x1="117.7" y1="554.8" x2="139.6" y2="552.3" stroke="#8a7c6a" stroke-width="0.7" opacity="0.55"/>
<line x1="98.7" y1="559.4" x2="111.2" y2="558.0" stroke="#7e705e" stroke-width="0.7" opacity="0.55"/>
<line x1="123.8" y1="554.5" x2="150.7" y2="551.4" stroke="#c4b6a0" stroke-width="1.0" opacity="0.55"/>
<line x1="69.8" y1="567.0" x2="98.5" y2="563.7" stroke="#c4b6a0" stroke-width="1.2" opacity="0.55"/>
<line x1="136.0" y1="561.2" x2="141.4" y2="560.6" stroke="#c4b6a0" stroke-width="1.0" opacity="0.55"/>
<line x1="165.9" y1="559.7" x2="183.1" y2="557.7" stroke="#7e705e" stroke-width="0.6" opacity="0.55"/>
<line x1="180.1" y1="551.9" x2="188.1" y2="551.0" stroke="#7e705e" stroke-width="1.2" opacity="0.55"/>
<line x1="163.5" y1="549.4" x2="186.7" y2="546.7" stroke="#bcae98" stroke-width="0.9" opacity="0.55"/>
<line x1="192.1" y1="541.7" x2="197.2" y2="541.1" stroke="#8a7c6a" stroke-width="0.7" opacity="0.55"/>
<line x1="160.1" y1="545.6" x2="170.9" y2="544.4" stroke="#bcae98" stroke-width="1.0" opacity="0.55"/>
<line x1="52.5" y1="572.2" x2="77.1" y2="569.3" stroke="#bcae98" stroke-width="0.9" opacity="0.55"/>
<line x1="25.7" y1="564.6" x2="43.6" y2="562.5" stroke="#bcae98" stroke-width="0.7" opacity="0.55"/>
<line x1="111.7" y1="550.6" x2="139.2" y2="547.4" stroke="#bcae98" stroke-width="0.9" opacity="0.55"/>
<line x1="104.4" y1="553.4" x2="112.2" y2="552.5" stroke="#7e705e" stroke-width="0.9" opacity="0.55"/>
<line x1="127.4" y1="562.8" x2="147.7" y2="560.4" stroke="#7e705e" stroke-width="1.2" opacity="0.55"/>
<line x1="90.6" y1="555.3" x2="97.1" y2="554.6" stroke="#8a7c6a" stroke-width="1.0" opacity="0.55"/>
<line x1="29.8" y1="562.7" x2="42.0" y2="561.3" stroke="#bcae98" stroke-width="1.0" opacity="0.55"/>
<line x1="90.9" y1="562.0" x2="99.7" y2="561.0" stroke="#8a7c6a" stroke-width="1.0" opacity="0.55"/>
<line x1="62.9" y1="562.9" x2="73.9" y2="561.6" stroke="#bcae98" stroke-width="0.7" opacity="0.55"/>
<line x1="45.9" y1="561.6" x2="61.9" y2="559.7" stroke="#bcae98" stroke-width="1.1" opacity="0.55"/>
<line x1="161.2" y1="556.8" x2="171.0" y2="555.7" stroke="#7e705e" stroke-width="0.7" opacity="0.55"/>
<line x1="111.6" y1="551.0" x2="138.9" y2="547.8" stroke="#bcae98" stroke-width="0.8" opacity="0.55"/>
<line x1="172.8" y1="554.9" x2="201.5" y2="551.6" stroke="#8a7c6a" stroke-width="1.1" opacity="0.55"/>
<line x1="183.8" y1="548.9" x2="212.1" y2="545.7" stroke="#8a7c6a" stroke-width="1.1" opacity="0.55"/>
<line x1="30.0" y1="571.2" x2="37.3" y2="570.3" stroke="#7e705e" stroke-width="0.8" opacity="0.55"/>
<line x1="169.8" y1="543.5" x2="198.4" y2="540.2" stroke="#7e705e" stroke-width="0.8" opacity="0.55"/>
<line x1="61.3" y1="562.9" x2="78.5" y2="560.9" stroke="#c4b6a0" stroke-width="1.1" opacity="0.55"/>
<line x1="182.8" y1="544.3" x2="205.0" y2="541.7" stroke="#c4b6a0" stroke-width="0.8" opacity="0.55"/>
<line x1="200.5" y1="551.7" x2="222.6" y2="549.1" stroke="#8a7c6a" stroke-width="1.1" opacity="0.55"/>
<line x1="43.6" y1="561.9" x2="65.2" y2="559.4" stroke="#8a7c6a" stroke-width="1.2" opacity="0.55"/>
<line x1="99.0" y1="565.9" x2="105.2" y2="565.1" stroke="#7e705e" stroke-width="1.0" opacity="0.55"/>
<line x1="21.7" y1="572.5" x2="33.9" y2="571.1" stroke="#8a7c6a" stroke-width="1.0" opacity="0.55"/>
<line x1="45.9" y1="573.4" x2="57.0" y2="572.1" stroke="#bcae98" stroke-width="1.1" opacity="0.55"/>
<line x1="154.1" y1="551.4" x2="174.6" y2="549.1" stroke="#c4b6a0" stroke-width="0.7" opacity="0.55"/>
<line x1="122.0" y1="563.6" x2="138.3" y2="561.7" stroke="#8a7c6a" stroke-width="1.1" opacity="0.55"/>
<line x1="48.0" y1="560.0" x2="72.6" y2="557.2" stroke="#c4b6a0" stroke-width="1.0" opacity="0.55"/>
<line x1="164.0" y1="559.1" x2="170.4" y2="558.4" stroke="#7e705e" stroke-width="0.6" opacity="0.55"/>
<line x1="67.3" y1="567.4" x2="85.5" y2="565.3" stroke="#8a7c6a" stroke-width="0.9" opacity="0.55"/>
<line x1="127.6" y1="559.5" x2="138.8" y2="558.2" stroke="#7e705e" stroke-width="0.7" opacity="0.55"/>
<line x1="28.1" y1="564.2" x2="45.0" y2="562.3" stroke="#bcae98" stroke-width="0.9" opacity="0.55"/>
<line x1="192.3" y1="543.0" x2="202.0" y2="541.9" stroke="#c4b6a0" stroke-width="0.9" opacity="0.55"/>
<line x1="160.4" y1="546.9" x2="185.6" y2="544.0" stroke="#7e705e" stroke-width="0.9" opacity="0.55"/>
<line x1="50.3" y1="558.6" x2="79.9" y2="555.2" stroke="#7e705e" stroke-width="0.7" opacity="0.55"/>
<line x1="63.4" y1="570.5" x2="72.4" y2="569.4" stroke="#c4b6a0" stroke-width="0.7" opacity="0.55"/>
<line x1="174.9" y1="547.6" x2="199.2" y2="544.8" stroke="#8a7c6a" stroke-width="0.8" opacity="0.55"/>
<line x1="184.3" y1="553.0" x2="197.3" y2="551.5" stroke="#8a7c6a" stroke-width="0.8" opacity="0.55"/>
<line x1="74.1" y1="570.0" x2="103.5" y2="566.6" stroke="#bcae98" stroke-width="1.0" opacity="0.55"/>
<line x1="47.8" y1="573.7" x2="62.2" y2="572.0" stroke="#c4b6a0" stroke-width="1.1" opacity="0.55"/>
<line x1="158.3" y1="547.3" x2="168.6" y2="546.1" stroke="#c4b6a0" stroke-width="1.2" opacity="0.55"/>
<line x1="56.1" y1="559.4" x2="71.4" y2="557.6" stroke="#c4b6a0" stroke-width="1.1" opacity="0.55"/>
<line x1="21.0" y1="565.0" x2="29.2" y2="564.0" stroke="#c4b6a0" stroke-width="0.6" opacity="0.55"/>
<line x1="147.7" y1="551.6" x2="154.8" y2="550.8" stroke="#bcae98" stroke-width="0.7" opacity="0.55"/>
<line x1="188.2" y1="555.5" x2="213.8" y2="552.5" stroke="#7e705e" stroke-width="0.7" opacity="0.55"/>
<line x1="28.9" y1="566.8" x2="51.8" y2="564.1" stroke="#bcae98" stroke-width="1.1" opacity="0.55"/>
<line x1="140.2" y1="560.6" x2="158.5" y2="558.5" stroke="#bcae98" stroke-width="0.7" opacity="0.55"/>
<line x1="82.6" y1="554.4" x2="99.3" y2="552.5" stroke="#bcae98" stroke-width="0.8" opacity="0.55"/>
<line x1="96.9" y1="553.5" x2="118.6" y2="551.0" stroke="#8a7c6a" stroke-width="1.0" opacity="0.55"/>
<line x1="26.8" y1="571.1" x2="44.0" y2="569.1" stroke="#7e705e" stroke-width="0.8" opacity="0.55"/>
<line x1="128.4" y1="564.2" x2="134.8" y2="563.5" stroke="#c4b6a0" stroke-width="0.8" opacity="0.55"/>
<line x1="61.6" y1="569.3" x2="71.0" y2="568.2" stroke="#bcae98" stroke-width="1.1" opacity="0.55"/>
<line x1="44.2" y1="567.1" x2="55.9" y2="565.7" stroke="#7e705e" stroke-width="1.1" opacity="0.55"/>
<line x1="46.5" y1="569.5" x2="52.2" y2="568.8" stroke="#bcae98" stroke-width="1.0" opacity="0.55"/>
<line x1="143.0" y1="556.3" x2="157.3" y2="554.7" stroke="#8a7c6a" stroke-width="1.0" opacity="0.55"/>
<line x1="19.1" y1="566.6" x2="198.9" y2="543.7" stroke="#7a6c5c" stroke-width="0.8" opacity="0.6"/>
<line x1="19.7" y1="572.2" x2="204.9" y2="549.9" stroke="#7a6c5c" stroke-width="0.8" opacity="0.6"/>
<line x1="67.1" y1="558.1" x2="71.8" y2="571.2" stroke="#6e6050" stroke-width="0.9" opacity="0.6"/>
<line x1="116.8" y1="551.7" x2="124.8" y2="565.1" stroke="#6e6050" stroke-width="0.9" opacity="0.6"/>
<line x1="166.1" y1="545.2" x2="177.5" y2="559.1" stroke="#6e6050" stroke-width="0.9" opacity="0.6"/>
</g>
<polygon points="20.3,578.0 211.0,556.3 211.0,562.3 20.8,586.0" fill="#bcaa8e" />
<line x1="22.8" y1="569.0" x2="24.3" y2="577.0" stroke="#3e3428" stroke-width="1.6"/>
<line x1="20.3" y1="578.6" x2="211.0" y2="556.9" stroke="#d2c2a6" stroke-width="1.3"/>
<polygon points="193.0,537.5 211.0,556.3 211.0,562.3 193.5,540.5" fill="#a08c70" />
<polygon points="20.3,585.5 205.5,561.3 205.0,573.0 24.0,596.0" fill="url(#riserG)" />
<line x1="24.0" y1="595.0" x2="205.0" y2="572.0" stroke="#8a7a68" stroke-width="1.5" opacity="0.6"/>
<polygon points="24.0,596.0 205.0,573.0 223.5,591.0 28.0,616.5" fill="url(#treadG)" />
<g clip-path="url(#c11)">
<line x1="54.7" y1="605.1" x2="63.9" y2="604.1" stroke="#bcae98" stroke-width="0.8" opacity="0.55"/>
<line x1="143.3" y1="592.8" x2="149.4" y2="592.1" stroke="#bcae98" stroke-width="1.0" opacity="0.55"/>
<line x1="95.0" y1="593.1" x2="103.2" y2="592.1" stroke="#7e705e" stroke-width="1.0" opacity="0.55"/>
<line x1="140.4" y1="591.0" x2="157.9" y2="589.0" stroke="#bcae98" stroke-width="1.0" opacity="0.55"/>
<line x1="125.2" y1="593.8" x2="140.5" y2="592.1" stroke="#c4b6a0" stroke-width="1.0" opacity="0.55"/>
<line x1="70.0" y1="593.9" x2="83.3" y2="592.3" stroke="#bcae98" stroke-width="0.9" opacity="0.55"/>
<line x1="166.2" y1="587.5" x2="181.2" y2="585.8" stroke="#bcae98" stroke-width="0.8" opacity="0.55"/>
<line x1="38.5" y1="600.5" x2="50.9" y2="599.1" stroke="#bcae98" stroke-width="0.9" opacity="0.55"/>
<line x1="110.7" y1="598.8" x2="137.9" y2="595.7" stroke="#8a7c6a" stroke-width="1.0" opacity="0.55"/>
<line x1="118.9" y1="602.7" x2="135.1" y2="600.8" stroke="#bcae98" stroke-width="0.8" opacity="0.55"/>
<line x1="167.5" y1="590.3" x2="195.4" y2="587.1" stroke="#bcae98" stroke-width="0.9" opacity="0.55"/>
<line x1="210.2" y1="583.5" x2="225.2" y2="581.8" stroke="#c4b6a0" stroke-width="1.2" opacity="0.55"/>
<line x1="56.2" y1="595.3" x2="82.6" y2="592.2" stroke="#c4b6a0" stroke-width="1.0" opacity="0.55"/>
<line x1="107.7" y1="603.1" x2="117.0" y2="602.0" stroke="#8a7c6a" stroke-width="0.9" opacity="0.55"/>
<line x1="147.9" y1="586.2" x2="163.2" y2="584.4" stroke="#bcae98" stroke-width="1.0" opacity="0.55"/>
<line x1="121.5" y1="585.9" x2="132.6" y2="584.6" stroke="#8a7c6a" stroke-width="0.7" opacity="0.55"/>
<line x1="46.8" y1="597.9" x2="62.3" y2="596.1" stroke="#8a7c6a" stroke-width="0.8" opacity="0.55"/>
<line x1="112.2" y1="599.9" x2="128.0" y2="598.1" stroke="#8a7c6a" stroke-width="1.1" opacity="0.55"/>
<line x1="148.7" y1="582.6" x2="158.4" y2="581.5" stroke="#c4b6a0" stroke-width="0.9" opacity="0.55"/>
<line x1="66.6" y1="605.8" x2="78.1" y2="604.5" stroke="#bcae98" stroke-width="1.1" opacity="0.55"/>
<line x1="163.0" y1="592.1" x2="187.1" y2="589.3" stroke="#c4b6a0" stroke-width="0.7" opacity="0.55"/>
<line x1="73.5" y1="599.0" x2="83.2" y2="597.9" stroke="#c4b6a0" stroke-width="1.0" opacity="0.55"/>
<line x1="203.0" y1="587.5" x2="232.0" y2="584.2" stroke="#7e705e" stroke-width="0.9" opacity="0.55"/>
<line x1="180.8" y1="582.9" x2="205.3" y2="580.1" stroke="#bcae98" stroke-width="1.1" opacity="0.55"/>
<line x1="36.2" y1="599.9" x2="64.9" y2="596.6" stroke="#bcae98" stroke-width="0.7" opacity="0.55"/>
<line x1="158.8" y1="588.0" x2="182.3" y2="585.3" stroke="#7e705e" stroke-width="1.2" opacity="0.55"/>
<line x1="87.7" y1="592.4" x2="115.6" y2="589.2" stroke="#c4b6a0" stroke-width="1.0" opacity="0.55"/>
<line x1="178.6" y1="590.9" x2="190.1" y2="589.5" stroke="#8a7c6a" stroke-width="1.1" opacity="0.55"/>
<line x1="57.2" y1="611.6" x2="86.8" y2="608.2" stroke="#bcae98" stroke-width="0.6" opacity="0.55"/>
<line x1="172.3" y1="592.4" x2="201.3" y2="589.0" stroke="#7e705e" stroke-width="0.8" opacity="0.55"/>
<line x1="117.5" y1="596.4" x2="126.6" y2="595.3" stroke="#8a7c6a" stroke-width="0.8" opacity="0.55"/>
<line x1="201.9" y1="590.7" x2="224.4" y2="588.1" stroke="#8a7c6a" stroke-width="0.9" opacity="0.55"/>
<line x1="41.9" y1="608.2" x2="49.6" y2="607.3" stroke="#bcae98" stroke-width="1.2" opacity="0.55"/>
<line x1="175.3" y1="591.1" x2="201.9" y2="588.0" stroke="#c4b6a0" stroke-width="0.7" opacity="0.55"/>
<line x1="187.6" y1="579.6" x2="201.1" y2="578.0" stroke="#c4b6a0" stroke-width="0.8" opacity="0.55"/>
<line x1="74.9" y1="599.5" x2="85.1" y2="598.3" stroke="#bcae98" stroke-width="0.8" opacity="0.55"/>
<line x1="34.3" y1="608.6" x2="48.0" y2="607.0" stroke="#7e705e" stroke-width="1.0" opacity="0.55"/>
<line x1="170.8" y1="587.3" x2="181.1" y2="586.2" stroke="#c4b6a0" stroke-width="0.6" opacity="0.55"/>
<line x1="49.6" y1="611.8" x2="62.1" y2="610.4" stroke="#7e705e" stroke-width="0.6" opacity="0.55"/>
<line x1="118.3" y1="601.0" x2="133.1" y2="599.3" stroke="#c4b6a0" stroke-width="0.7" opacity="0.55"/>
<line x1="169.9" y1="596.6" x2="198.7" y2="593.3" stroke="#bcae98" stroke-width="0.8" opacity="0.55"/>
<line x1="59.3" y1="598.5" x2="88.2" y2="595.2" stroke="#bcae98" stroke-width="1.1" opacity="0.55"/>
<line x1="143.2" y1="587.9" x2="150.3" y2="587.1" stroke="#8a7c6a" stroke-width="0.8" opacity="0.55"/>
<line x1="120.1" y1="589.2" x2="127.1" y2="588.4" stroke="#bcae98" stroke-width="0.9" opacity="0.55"/>
<line x1="71.5" y1="602.6" x2="83.3" y2="601.3" stroke="#7e705e" stroke-width="1.2" opacity="0.55"/>
<line x1="208.6" y1="582.2" x2="236.6" y2="579.0" stroke="#bcae98" stroke-width="1.0" opacity="0.55"/>
<line x1="160.6" y1="593.4" x2="177.9" y2="591.4" stroke="#7e705e" stroke-width="1.1" opacity="0.55"/>
<line x1="32.0" y1="613.1" x2="49.6" y2="611.1" stroke="#bcae98" stroke-width="0.8" opacity="0.55"/>
<line x1="44.0" y1="602.7" x2="66.0" y2="600.2" stroke="#7e705e" stroke-width="0.9" opacity="0.55"/>
<line x1="165.8" y1="588.8" x2="176.6" y2="587.5" stroke="#7e705e" stroke-width="1.1" opacity="0.55"/>
<line x1="162.6" y1="585.6" x2="175.7" y2="584.1" stroke="#c4b6a0" stroke-width="0.9" opacity="0.55"/>
<line x1="148.4" y1="594.9" x2="158.2" y2="593.8" stroke="#c4b6a0" stroke-width="0.7" opacity="0.55"/>
<line x1="98.6" y1="598.0" x2="126.4" y2="594.8" stroke="#7e705e" stroke-width="0.6" opacity="0.55"/>
<line x1="129.1" y1="599.1" x2="151.8" y2="596.5" stroke="#7e705e" stroke-width="1.2" opacity="0.55"/>
<line x1="97.4" y1="596.2" x2="103.2" y2="595.5" stroke="#7e705e" stroke-width="1.0" opacity="0.55"/>
<line x1="92.4" y1="600.3" x2="111.0" y2="598.2" stroke="#8a7c6a" stroke-width="0.8" opacity="0.55"/>
<line x1="146.5" y1="584.2" x2="174.2" y2="581.0" stroke="#8a7c6a" stroke-width="0.8" opacity="0.55"/>
<line x1="55.2" y1="600.6" x2="69.9" y2="598.9" stroke="#7e705e" stroke-width="0.8" opacity="0.55"/>
<line x1="144.3" y1="585.9" x2="171.5" y2="582.8" stroke="#c4b6a0" stroke-width="1.0" opacity="0.55"/>
<line x1="205.8" y1="577.9" x2="220.0" y2="576.2" stroke="#c4b6a0" stroke-width="0.9" opacity="0.55"/>
<line x1="185.7" y1="586.4" x2="190.9" y2="585.8" stroke="#8a7c6a" stroke-width="0.7" opacity="0.55"/>
<line x1="219.6" y1="588.8" x2="243.3" y2="586.0" stroke="#bcae98" stroke-width="1.1" opacity="0.55"/>
<line x1="192.8" y1="576.7" x2="216.4" y2="574.0" stroke="#c4b6a0" stroke-width="1.1" opacity="0.55"/>
<line x1="121.1" y1="588.5" x2="141.4" y2="586.2" stroke="#bcae98" stroke-width="0.9" opacity="0.55"/>
<line x1="172.7" y1="587.5" x2="200.0" y2="584.3" stroke="#bcae98" stroke-width="0.7" opacity="0.55"/>
<line x1="156.4" y1="595.6" x2="171.8" y2="593.8" stroke="#bcae98" stroke-width="1.0" opacity="0.55"/>
<line x1="153.7" y1="584.8" x2="167.2" y2="583.2" stroke="#7e705e" stroke-width="1.1" opacity="0.55"/>
<line x1="86.6" y1="592.4" x2="105.4" y2="590.3" stroke="#7e705e" stroke-width="0.6" opacity="0.55"/>
<line x1="208.6" y1="586.4" x2="227.8" y2="584.2" stroke="#8a7c6a" stroke-width="0.7" opacity="0.55"/>
<line x1="88.6" y1="599.0" x2="98.0" y2="597.9" stroke="#8a7c6a" stroke-width="1.0" opacity="0.55"/>
<line x1="82.4" y1="598.9" x2="95.3" y2="597.5" stroke="#bcae98" stroke-width="0.7" opacity="0.55"/>
<line x1="83.0" y1="605.4" x2="97.9" y2="603.7" stroke="#8a7c6a" stroke-width="0.8" opacity="0.55"/>
<line x1="144.9" y1="587.8" x2="171.3" y2="584.7" stroke="#8a7c6a" stroke-width="1.1" opacity="0.55"/>
<line x1="200.7" y1="591.7" x2="228.6" y2="588.5" stroke="#c4b6a0" stroke-width="1.0" opacity="0.55"/>
<line x1="96.2" y1="590.8" x2="124.3" y2="587.5" stroke="#c4b6a0" stroke-width="1.2" opacity="0.55"/>
<line x1="121.4" y1="600.3" x2="148.4" y2="597.2" stroke="#7e705e" stroke-width="0.7" opacity="0.55"/>
<line x1="179.7" y1="594.7" x2="209.2" y2="591.3" stroke="#bcae98" stroke-width="1.1" opacity="0.55"/>
<line x1="141.3" y1="598.0" x2="171.0" y2="594.6" stroke="#8a7c6a" stroke-width="1.1" opacity="0.55"/>
<line x1="159.6" y1="589.2" x2="179.1" y2="586.9" stroke="#c4b6a0" stroke-width="1.1" opacity="0.55"/>
<line x1="167.4" y1="580.6" x2="195.5" y2="577.4" stroke="#c4b6a0" stroke-width="0.7" opacity="0.55"/>
<line x1="47.3" y1="611.7" x2="62.7" y2="609.9" stroke="#c4b6a0" stroke-width="0.6" opacity="0.55"/>
<line x1="119.2" y1="599.1" x2="143.5" y2="596.3" stroke="#bcae98" stroke-width="0.9" opacity="0.55"/>
<line x1="54.4" y1="601.3" x2="75.5" y2="598.9" stroke="#c4b6a0" stroke-width="1.0" opacity="0.55"/>
<line x1="171.6" y1="584.5" x2="188.9" y2="582.5" stroke="#7e705e" stroke-width="1.0" opacity="0.55"/>
<line x1="120.0" y1="592.9" x2="130.9" y2="591.7" stroke="#bcae98" stroke-width="0.7" opacity="0.55"/>
<line x1="33.3" y1="609.8" x2="40.3" y2="609.0" stroke="#bcae98" stroke-width="1.1" opacity="0.55"/>
<line x1="73.0" y1="609.2" x2="82.8" y2="608.1" stroke="#8a7c6a" stroke-width="0.7" opacity="0.55"/>
<line x1="106.9" y1="598.0" x2="133.6" y2="594.9" stroke="#c4b6a0" stroke-width="1.0" opacity="0.55"/>
<line x1="76.4" y1="592.9" x2="100.5" y2="590.1" stroke="#bcae98" stroke-width="0.6" opacity="0.55"/>
<line x1="186.5" y1="581.1" x2="205.9" y2="578.8" stroke="#7e705e" stroke-width="1.0" opacity="0.55"/>
<line x1="25.3" y1="602.8" x2="211.1" y2="578.9" stroke="#7a6c5c" stroke-width="0.8" opacity="0.6"/>
<line x1="26.6" y1="609.5" x2="217.2" y2="584.9" stroke="#7a6c5c" stroke-width="0.8" opacity="0.6"/>
<line x1="84.4" y1="592.5" x2="90.9" y2="607.3" stroke="#6e6050" stroke-width="0.9" opacity="0.6"/>
<line x1="128.8" y1="586.8" x2="138.0" y2="601.1" stroke="#6e6050" stroke-width="0.9" opacity="0.6"/>
<line x1="165.9" y1="582.1" x2="177.2" y2="596.0" stroke="#6e6050" stroke-width="0.9" opacity="0.6"/>
</g>
<polygon points="28.0,616.5 223.5,591.0 223.5,597.0 28.5,624.5" fill="#bcaa8e" />
<line x1="30.5" y1="607.5" x2="32.0" y2="615.5" stroke="#3e3428" stroke-width="1.6"/>
<line x1="28.0" y1="617.1" x2="223.5" y2="591.6" stroke="#d2c2a6" stroke-width="1.3"/>
<polygon points="205.0,573.0 223.5,591.0 223.5,597.0 205.5,576.0" fill="#a08c70" />
<polygon points="28.0,624.0 218.0,596.0 217.5,609.0 31.0,634.6" fill="url(#riserG)" />
<line x1="31.0" y1="633.6" x2="217.5" y2="608.0" stroke="#8a7a68" stroke-width="1.5" opacity="0.6"/>
<polygon points="31.0,634.6 217.5,609.0 237.0,630.4 36.0,658.0" fill="url(#treadG)" />
<g clip-path="url(#c12)">
<line x1="223.0" y1="620.0" x2="245.9" y2="617.4" stroke="#bcae98" stroke-width="1.0" opacity="0.55"/>
<line x1="214.4" y1="627.0" x2="235.8" y2="624.5" stroke="#c4b6a0" stroke-width="1.1" opacity="0.55"/>
<line x1="197.2" y1="616.6" x2="204.3" y2="615.8" stroke="#bcae98" stroke-width="0.9" opacity="0.55"/>
<line x1="215.1" y1="612.6" x2="244.1" y2="609.3" stroke="#bcae98" stroke-width="1.0" opacity="0.55"/>
<line x1="92.6" y1="643.8" x2="119.1" y2="640.8" stroke="#c4b6a0" stroke-width="0.7" opacity="0.55"/>
<line x1="164.6" y1="634.5" x2="185.0" y2="632.1" stroke="#7e705e" stroke-width="0.8" opacity="0.55"/>
<line x1="151.4" y1="639.8" x2="171.8" y2="637.5" stroke="#c4b6a0" stroke-width="1.1" opacity="0.55"/>
<line x1="177.1" y1="635.5" x2="201.1" y2="632.8" stroke="#c4b6a0" stroke-width="0.9" opacity="0.55"/>
<line x1="168.5" y1="624.2" x2="185.5" y2="622.2" stroke="#bcae98" stroke-width="0.7" opacity="0.55"/>
<line x1="137.6" y1="641.2" x2="154.6" y2="639.2" stroke="#8a7c6a" stroke-width="0.7" opacity="0.55"/>
<line x1="194.3" y1="628.9" x2="201.5" y2="628.1" stroke="#c4b6a0" stroke-width="1.0" opacity="0.55"/>
<line x1="60.1" y1="651.7" x2="84.3" y2="648.9" stroke="#7e705e" stroke-width="1.0" opacity="0.55"/>
<line x1="90.7" y1="640.1" x2="110.6" y2="637.8" stroke="#c4b6a0" stroke-width="0.8" opacity="0.55"/>
<line x1="172.0" y1="623.0" x2="199.3" y2="619.9" stroke="#bcae98" stroke-width="0.9" opacity="0.55"/>
<line x1="43.0" y1="648.6" x2="69.8" y2="645.5" stroke="#bcae98" stroke-width="0.9" opacity="0.55"/>
<line x1="151.2" y1="625.2" x2="165.9" y2="623.5" stroke="#7e705e" stroke-width="1.0" opacity="0.55"/>
<line x1="107.2" y1="636.3" x2="120.5" y2="634.8" stroke="#bcae98" stroke-width="1.0" opacity="0.55"/>
<line x1="98.8" y1="641.7" x2="125.0" y2="638.7" stroke="#7e705e" stroke-width="1.2" opacity="0.55"/>
<line x1="97.1" y1="646.8" x2="106.6" y2="645.7" stroke="#8a7c6a" stroke-width="0.9" opacity="0.55"/>
<line x1="151.8" y1="634.7" x2="172.8" y2="632.3" stroke="#c4b6a0" stroke-width="0.8" opacity="0.55"/>
<line x1="99.2" y1="640.6" x2="105.9" y2="639.8" stroke="#7e705e" stroke-width="1.0" opacity="0.55"/>
<line x1="110.3" y1="641.2" x2="125.5" y2="639.4" stroke="#8a7c6a" stroke-width="1.1" opacity="0.55"/>
<line x1="192.6" y1="627.0" x2="220.6" y2="623.8" stroke="#8a7c6a" stroke-width="0.8" opacity="0.55"/>
<line x1="81.9" y1="630.7" x2="107.1" y2="627.8" stroke="#c4b6a0" stroke-width="0.8" opacity="0.55"/>
<line x1="186.7" y1="624.2" x2="195.1" y2="623.3" stroke="#c4b6a0" stroke-width="1.1" opacity="0.55"/>
<line x1="166.4" y1="629.6" x2="193.2" y2="626.5" stroke="#7e705e" stroke-width="0.7" opacity="0.55"/>
<line x1="217.4" y1="628.4" x2="226.2" y2="627.4" stroke="#c4b6a0" stroke-width="1.0" opacity="0.55"/>
<line x1="103.3" y1="629.5" x2="125.3" y2="627.0" stroke="#7e705e" stroke-width="1.0" opacity="0.55"/>
<line x1="58.2" y1="636.2" x2="71.9" y2="634.7" stroke="#7e705e" stroke-width="1.1" opacity="0.55"/>
<line x1="186.4" y1="620.9" x2="197.6" y2="619.6" stroke="#c4b6a0" stroke-width="1.2" opacity="0.55"/>
<line x1="50.1" y1="640.4" x2="64.6" y2="638.7" stroke="#c4b6a0" stroke-width="0.8" opacity="0.55"/>
<line x1="117.4" y1="644.1" x2="136.9" y2="641.9" stroke="#c4b6a0" stroke-width="1.0" opacity="0.55"/>
<line x1="231.0" y1="628.9" x2="238.6" y2="628.0" stroke="#8a7c6a" stroke-width="1.0" opacity="0.55"/>
<line x1="227.4" y1="620.6" x2="234.5" y2="619.8" stroke="#c4b6a0" stroke-width="0.9" opacity="0.55"/>
<line x1="176.0" y1="618.2" x2="188.0" y2="616.8" stroke="#7e705e" stroke-width="0.7" opacity="0.55"/>
<line x1="69.9" y1="647.5" x2="77.4" y2="646.6" stroke="#bcae98" stroke-width="0.8" opacity="0.55"/>
<line x1="101.8" y1="635.0" x2="111.7" y2="633.8" stroke="#7e705e" stroke-width="0.6" opacity="0.55"/>
<line x1="226.2" y1="625.8" x2="251.8" y2="622.9" stroke="#8a7c6a" stroke-width="0.7" opacity="0.55"/>
<line x1="209.8" y1="630.5" x2="232.7" y2="627.8" stroke="#8a7c6a" stroke-width="0.7" opacity="0.55"/>
<line x1="107.6" y1="628.7" x2="129.4" y2="626.2" stroke="#8a7c6a" stroke-width="0.7" opacity="0.55"/>
<line x1="173.7" y1="624.3" x2="197.3" y2="621.6" stroke="#8a7c6a" stroke-width="1.1" opacity="0.55"/>
<line x1="171.5" y1="630.8" x2="177.3" y2="630.2" stroke="#bcae98" stroke-width="0.9" opacity="0.55"/>
<line x1="61.8" y1="633.1" x2="73.5" y2="631.7" stroke="#8a7c6a" stroke-width="1.2" opacity="0.55"/>
<line x1="114.0" y1="631.1" x2="121.8" y2="630.2" stroke="#8a7c6a" stroke-width="1.0" opacity="0.55"/>
<line x1="145.8" y1="641.3" x2="167.6" y2="638.8" stroke="#c4b6a0" stroke-width="1.2" opacity="0.55"/>
<line x1="69.6" y1="637.5" x2="82.9" y2="636.0" stroke="#7e705e" stroke-width="1.1" opacity="0.55"/>
<line x1="178.6" y1="633.5" x2="190.4" y2="632.1" stroke="#bcae98" stroke-width="0.7" opacity="0.55"/>
<line x1="95.8" y1="647.7" x2="106.2" y2="646.5" stroke="#8a7c6a" stroke-width="0.9" opacity="0.55"/>
<line x1="187.6" y1="635.9" x2="211.0" y2="633.2" stroke="#c4b6a0" stroke-width="0.8" opacity="0.55"/>
<line x1="48.2" y1="638.1" x2="64.1" y2="636.3" stroke="#8a7c6a" stroke-width="0.9" opacity="0.55"/>
<line x1="123.0" y1="640.5" x2="144.4" y2="638.1" stroke="#8a7c6a" stroke-width="1.0" opacity="0.55"/>
<line x1="86.7" y1="644.6" x2="116.2" y2="641.2" stroke="#bcae98" stroke-width="1.0" opacity="0.55"/>
<line x1="76.2" y1="633.2" x2="92.4" y2="631.4" stroke="#c4b6a0" stroke-width="0.9" opacity="0.55"/>
<line x1="93.3" y1="632.9" x2="115.9" y2="630.3" stroke="#7e705e" stroke-width="0.8" opacity="0.55"/>
<line x1="78.3" y1="633.4" x2="91.7" y2="631.9" stroke="#8a7c6a" stroke-width="1.2" opacity="0.55"/>
<line x1="207.3" y1="631.7" x2="235.2" y2="628.5" stroke="#c4b6a0" stroke-width="0.6" opacity="0.55"/>
<line x1="83.4" y1="650.3" x2="105.8" y2="647.7" stroke="#c4b6a0" stroke-width="0.7" opacity="0.55"/>
<line x1="77.4" y1="632.7" x2="95.5" y2="630.6" stroke="#8a7c6a" stroke-width="1.0" opacity="0.55"/>
<line x1="151.7" y1="633.2" x2="178.1" y2="630.1" stroke="#7e705e" stroke-width="1.2" opacity="0.55"/>
<line x1="161.2" y1="630.8" x2="167.8" y2="630.1" stroke="#c4b6a0" stroke-width="1.0" opacity="0.55"/>
<line x1="58.0" y1="643.3" x2="67.6" y2="642.2" stroke="#c4b6a0" stroke-width="0.8" opacity="0.55"/>
<line x1="168.5" y1="618.2" x2="177.2" y2="617.2" stroke="#7e705e" stroke-width="1.1" opacity="0.55"/>
<line x1="90.1" y1="633.0" x2="119.2" y2="629.6" stroke="#7e705e" stroke-width="0.7" opacity="0.55"/>
<line x1="226.7" y1="621.7" x2="239.2" y2="620.3" stroke="#8a7c6a" stroke-width="0.6" opacity="0.55"/>
<line x1="177.6" y1="629.0" x2="202.1" y2="626.2" stroke="#8a7c6a" stroke-width="0.6" opacity="0.55"/>
<line x1="98.8" y1="638.3" x2="110.5" y2="637.0" stroke="#c4b6a0" stroke-width="1.0" opacity="0.55"/>
<line x1="71.7" y1="650.1" x2="89.3" y2="648.1" stroke="#bcae98" stroke-width="0.7" opacity="0.55"/>
<line x1="177.8" y1="625.1" x2="186.1" y2="624.2" stroke="#8a7c6a" stroke-width="1.1" opacity="0.55"/>
<line x1="41.9" y1="649.8" x2="62.7" y2="647.4" stroke="#8a7c6a" stroke-width="1.1" opacity="0.55"/>
<line x1="180.2" y1="633.8" x2="196.8" y2="631.9" stroke="#c4b6a0" stroke-width="1.1" opacity="0.55"/>
<line x1="186.2" y1="629.8" x2="208.3" y2="627.2" stroke="#c4b6a0" stroke-width="0.7" opacity="0.55"/>
<line x1="147.5" y1="631.0" x2="167.4" y2="628.7" stroke="#7e705e" stroke-width="0.9" opacity="0.55"/>
<line x1="216.2" y1="630.0" x2="245.4" y2="626.7" stroke="#8a7c6a" stroke-width="0.6" opacity="0.55"/>
<line x1="125.4" y1="637.1" x2="149.8" y2="634.3" stroke="#bcae98" stroke-width="1.0" opacity="0.55"/>
<line x1="54.6" y1="647.9" x2="82.3" y2="644.7" stroke="#8a7c6a" stroke-width="0.6" opacity="0.55"/>
<line x1="148.0" y1="628.1" x2="166.2" y2="626.0" stroke="#7e705e" stroke-width="0.8" opacity="0.55"/>
<line x1="223.3" y1="629.4" x2="248.7" y2="626.5" stroke="#8a7c6a" stroke-width="1.1" opacity="0.55"/>
<line x1="211.1" y1="615.9" x2="217.3" y2="615.2" stroke="#c4b6a0" stroke-width="0.9" opacity="0.55"/>
<line x1="186.2" y1="629.7" x2="212.0" y2="626.8" stroke="#7e705e" stroke-width="0.8" opacity="0.55"/>
<line x1="71.7" y1="651.4" x2="78.2" y2="650.6" stroke="#7e705e" stroke-width="0.6" opacity="0.55"/>
<line x1="111.9" y1="627.9" x2="118.1" y2="627.2" stroke="#c4b6a0" stroke-width="0.7" opacity="0.55"/>
<line x1="210.8" y1="617.5" x2="218.8" y2="616.6" stroke="#8a7c6a" stroke-width="1.0" opacity="0.55"/>
<line x1="155.8" y1="639.5" x2="164.0" y2="638.6" stroke="#7e705e" stroke-width="0.7" opacity="0.55"/>
<line x1="227.9" y1="629.3" x2="244.1" y2="627.5" stroke="#bcae98" stroke-width="0.9" opacity="0.55"/>
<line x1="175.3" y1="628.4" x2="201.8" y2="625.4" stroke="#7e705e" stroke-width="0.8" opacity="0.55"/>
<line x1="129.6" y1="632.4" x2="156.0" y2="629.4" stroke="#8a7c6a" stroke-width="1.0" opacity="0.55"/>
<line x1="48.8" y1="651.7" x2="78.0" y2="648.4" stroke="#c4b6a0" stroke-width="1.1" opacity="0.55"/>
<line x1="186.2" y1="630.8" x2="201.6" y2="629.0" stroke="#c4b6a0" stroke-width="1.1" opacity="0.55"/>
<line x1="157.2" y1="627.9" x2="182.5" y2="625.0" stroke="#bcae98" stroke-width="0.7" opacity="0.55"/>
<line x1="62.5" y1="640.3" x2="87.5" y2="637.4" stroke="#c4b6a0" stroke-width="0.8" opacity="0.55"/>
<line x1="32.6" y1="642.3" x2="223.9" y2="616.1" stroke="#7a6c5c" stroke-width="0.8" opacity="0.6"/>
<line x1="34.3" y1="650.0" x2="230.4" y2="623.1" stroke="#7a6c5c" stroke-width="0.8" opacity="0.6"/>
<line x1="92.2" y1="631.0" x2="99.4" y2="648.1" stroke="#6e6050" stroke-width="0.9" opacity="0.6"/>
<line x1="130.7" y1="625.7" x2="140.2" y2="642.5" stroke="#6e6050" stroke-width="0.9" opacity="0.6"/>
<line x1="184.3" y1="618.4" x2="196.8" y2="634.7" stroke="#6e6050" stroke-width="0.9" opacity="0.6"/>
</g>
<polygon points="36.0,658.0 237.0,630.4 237.0,636.4 36.5,666.0" fill="#bcaa8e" />
<line x1="38.5" y1="649.0" x2="40.0" y2="657.0" stroke="#3e3428" stroke-width="1.6"/>
<line x1="36.0" y1="658.6" x2="237.0" y2="631.0" stroke="#d2c2a6" stroke-width="1.3"/>
<polygon points="217.5,609.0 237.0,630.4 237.0,636.4 218.0,612.0" fill="#a08c70" />
<ellipse cx="262.0" cy="680.0" rx="12.4" ry="11.1" fill="url(#rubG)"/>
<ellipse cx="273.0" cy="677.8" rx="14.6" ry="10.9" fill="url(#rubG)"/>
<ellipse cx="284.6" cy="678.0" rx="8.2" ry="7.8" fill="url(#rubG)"/>
<ellipse cx="296.3" cy="675.2" rx="12.5" ry="8.4" fill="url(#rubG)"/>
<ellipse cx="303.9" cy="675.3" rx="11.3" ry="6.6" fill="url(#rubG)"/>
<ellipse cx="313.6" cy="673.0" rx="12.0" ry="6.9" fill="url(#rubG)"/>
<ellipse cx="321.7" cy="667.3" rx="10.0" ry="11.5" fill="url(#rubG)"/>
<ellipse cx="332.5" cy="665.6" rx="9.1" ry="11.0" fill="url(#rubG)"/>
<ellipse cx="340.2" cy="666.7" rx="12.3" ry="8.0" fill="url(#rubG)"/>
<ellipse cx="347.2" cy="665.2" rx="14.1" ry="8.1" fill="url(#rubG)"/>
<ellipse cx="355.3" cy="661.1" rx="14.9" ry="10.9" fill="url(#rubG)"/>
<ellipse cx="363.7" cy="660.4" rx="14.7" ry="10.0" fill="url(#rubG)"/>
<ellipse cx="374.1" cy="656.2" rx="9.4" ry="13.0" fill="url(#rubG)"/>
<ellipse cx="384.6" cy="654.2" rx="14.8" ry="13.4" fill="url(#rubG)"/>
<ellipse cx="393.1" cy="656.3" rx="10.5" ry="9.7" fill="url(#rubG)"/>
<ellipse cx="400.8" cy="654.4" rx="8.5" ry="10.5" fill="url(#rubG)"/>
<ellipse cx="410.8" cy="650.7" rx="8.0" ry="12.4" fill="url(#rubG)"/>
<ellipse cx="419.5" cy="648.3" rx="10.2" ry="13.1" fill="url(#rubG)"/>
<ellipse cx="428.9" cy="648.0" rx="10.2" ry="11.4" fill="url(#rubG)"/>
<ellipse cx="439.4" cy="643.6" rx="8.4" ry="13.9" fill="url(#rubG)"/>
<ellipse cx="446.5" cy="642.7" rx="13.2" ry="13.0" fill="url(#rubG)"/>
<ellipse cx="453.6" cy="643.2" rx="13.5" ry="10.5" fill="url(#rubG)"/>
<ellipse cx="463.5" cy="642.3" rx="8.1" ry="8.7" fill="url(#rubG)"/>
<ellipse cx="471.4" cy="639.9" rx="14.7" ry="9.2" fill="url(#rubG)"/>
<ellipse cx="482.2" cy="635.0" rx="14.5" ry="11.8" fill="url(#rubG)"/>
<ellipse cx="490.9" cy="634.7" rx="10.5" ry="10.1" fill="url(#rubG)"/>
<ellipse cx="501.8" cy="631.3" rx="8.8" ry="11.4" fill="url(#rubG)"/>
<ellipse cx="512.8" cy="631.6" rx="14.0" ry="8.0" fill="url(#rubG)"/>
<ellipse cx="524.5" cy="627.9" rx="8.6" ry="9.1" fill="url(#rubG)"/>
<ellipse cx="534.6" cy="625.9" rx="14.4" ry="9.1" fill="url(#rubG)"/>
<ellipse cx="546.2" cy="623.7" rx="11.8" ry="8.9" fill="url(#rubG)"/>
<ellipse cx="554.8" cy="623.1" rx="9.2" ry="7.7" fill="url(#rubG)"/>
<ellipse cx="562.5" cy="618.5" rx="12.8" ry="11.1" fill="url(#rubG)"/>
<ellipse cx="570.3" cy="617.3" rx="8.3" ry="10.7" fill="url(#rubG)"/>
<ellipse cx="580.0" cy="618.1" rx="10.8" ry="7.6" fill="url(#rubG)"/>
<ellipse cx="590.0" cy="615.1" rx="13.8" ry="8.2" fill="url(#rubG)"/>
<ellipse cx="599.1" cy="612.4" rx="8.4" ry="8.7" fill="url(#rubG)"/>
<ellipse cx="429.7" cy="654.1" rx="1.0" ry="1.4" fill="#8e7e6a"/>
<ellipse cx="478.4" cy="642.1" rx="0.9" ry="1.1" fill="#8e7e6a"/>
<ellipse cx="274.9" cy="677.4" rx="1.0" ry="1.5" fill="#7a6c5a"/>
<ellipse cx="557.4" cy="628.2" rx="1.4" ry="1.1" fill="#a49480"/>
<ellipse cx="367.1" cy="656.6" rx="1.5" ry="1.5" fill="#d6c8ac"/>
<ellipse cx="388.2" cy="664.6" rx="2.1" ry="1.3" fill="#e2d6be"/>
<ellipse cx="562.9" cy="616.1" rx="1.5" ry="1.2" fill="#7a6c5a"/>
<ellipse cx="562.8" cy="618.6" rx="1.9" ry="1.4" fill="#a49480"/>
<ellipse cx="463.1" cy="632.9" rx="1.2" ry="1.2" fill="#a49480"/>
<ellipse cx="354.0" cy="662.9" rx="1.9" ry="1.3" fill="#b8a890"/>
<ellipse cx="594.7" cy="612.7" rx="1.1" ry="1.5" fill="#e2d6be"/>
<ellipse cx="448.7" cy="639.7" rx="1.7" ry="1.1" fill="#c4b496"/>
<ellipse cx="432.1" cy="650.7" rx="1.3" ry="0.9" fill="#b8a890"/>
<ellipse cx="516.7" cy="634.2" rx="1.3" ry="1.5" fill="#c4b496"/>
<ellipse cx="562.6" cy="619.9" rx="1.3" ry="1.0" fill="#8e7e6a"/>
<ellipse cx="442.4" cy="639.5" rx="2.0" ry="1.5" fill="#e2d6be"/>
<ellipse cx="354.7" cy="656.9" rx="1.7" ry="1.1" fill="#7a6c5a"/>
<ellipse cx="531.8" cy="627.4" rx="1.7" ry="1.1" fill="#7a6c5a"/>
<ellipse cx="450.9" cy="649.9" rx="1.2" ry="1.6" fill="#8e7e6a"/>
<ellipse cx="311.0" cy="671.8" rx="1.7" ry="0.9" fill="#a49480"/>
<ellipse cx="318.3" cy="673.3" rx="2.2" ry="1.6" fill="#8e7e6a"/>
<ellipse cx="273.3" cy="673.4" rx="1.2" ry="0.9" fill="#8e7e6a"/>
<ellipse cx="449.2" cy="642.4" rx="1.3" ry="1.3" fill="#d6c8ac"/>
<ellipse cx="464.1" cy="636.2" rx="2.1" ry="0.7" fill="#e2d6be"/>
<ellipse cx="592.9" cy="619.0" rx="2.0" ry="1.3" fill="#7a6c5a"/>
<ellipse cx="387.1" cy="647.7" rx="1.7" ry="0.8" fill="#7a6c5a"/>
<ellipse cx="436.5" cy="654.8" rx="1.2" ry="1.0" fill="#8e7e6a"/>
<ellipse cx="403.2" cy="659.0" rx="1.7" ry="1.0" fill="#8e7e6a"/>
<ellipse cx="309.8" cy="671.5" rx="1.5" ry="0.9" fill="#8e7e6a"/>
<ellipse cx="470.7" cy="636.7" rx="2.1" ry="0.7" fill="#d6c8ac"/>
<ellipse cx="370.1" cy="666.1" rx="1.6" ry="1.0" fill="#7a6c5a"/>
<ellipse cx="387.8" cy="654.7" rx="1.1" ry="1.0" fill="#a49480"/>
<ellipse cx="389.2" cy="663.9" rx="2.1" ry="1.2" fill="#b8a890"/>
<ellipse cx="517.8" cy="626.0" rx="1.2" ry="0.7" fill="#b8a890"/>
<ellipse cx="429.1" cy="644.3" rx="1.5" ry="0.8" fill="#7a6c5a"/>
<ellipse cx="596.1" cy="611.4" rx="0.9" ry="0.8" fill="#e2d6be"/>
<ellipse cx="258.7" cy="682.7" rx="1.2" ry="1.5" fill="#c4b496"/>
<ellipse cx="267.1" cy="680.1" rx="2.0" ry="1.3" fill="#b8a890"/>
<ellipse cx="358.4" cy="663.6" rx="1.5" ry="1.3" fill="#7a6c5a"/>
<ellipse cx="567.5" cy="625.1" rx="0.8" ry="0.8" fill="#b8a890"/>
<ellipse cx="443.9" cy="642.2" rx="1.2" ry="1.2" fill="#e2d6be"/>
<ellipse cx="378.5" cy="660.6" rx="1.9" ry="0.8" fill="#d6c8ac"/>
<ellipse cx="343.9" cy="664.4" rx="2.1" ry="1.5" fill="#7a6c5a"/>
<ellipse cx="322.1" cy="668.0" rx="1.9" ry="1.2" fill="#a49480"/>
<ellipse cx="506.1" cy="633.7" rx="1.5" ry="1.5" fill="#e2d6be"/>
<ellipse cx="423.4" cy="652.6" rx="1.8" ry="1.5" fill="#e2d6be"/>
<ellipse cx="549.5" cy="616.4" rx="2.0" ry="1.3" fill="#e2d6be"/>
<ellipse cx="461.2" cy="643.7" rx="1.5" ry="1.0" fill="#8e7e6a"/>
<ellipse cx="424.3" cy="650.0" rx="1.5" ry="1.0" fill="#8e7e6a"/>
<ellipse cx="405.5" cy="653.6" rx="0.9" ry="1.4" fill="#b8a890"/>
<ellipse cx="545.8" cy="627.7" rx="1.7" ry="0.7" fill="#a49480"/>
<ellipse cx="406.8" cy="644.9" rx="1.4" ry="1.1" fill="#d6c8ac"/>
<ellipse cx="553.8" cy="618.0" rx="1.7" ry="1.6" fill="#a49480"/>
<ellipse cx="572.6" cy="625.4" rx="1.8" ry="1.1" fill="#8e7e6a"/>
<ellipse cx="471.4" cy="637.6" rx="1.0" ry="1.3" fill="#d6c8ac"/>
<ellipse cx="451.8" cy="646.1" rx="1.8" ry="1.0" fill="#7a6c5a"/>
<ellipse cx="458.8" cy="645.9" rx="2.0" ry="0.8" fill="#e2d6be"/>
<ellipse cx="286.6" cy="680.2" rx="1.5" ry="1.0" fill="#a49480"/>
<ellipse cx="387.2" cy="648.0" rx="1.8" ry="0.8" fill="#a49480"/>
<ellipse cx="495.3" cy="630.8" rx="2.1" ry="1.2" fill="#8e7e6a"/>
<ellipse cx="347.7" cy="665.1" rx="1.2" ry="1.4" fill="#7a6c5a"/>
<ellipse cx="601.1" cy="616.6" rx="2.0" ry="1.1" fill="#e2d6be"/>
<ellipse cx="317.8" cy="673.3" rx="1.7" ry="0.8" fill="#a49480"/>
<ellipse cx="266.8" cy="685.8" rx="1.5" ry="1.1" fill="#e2d6be"/>
<ellipse cx="566.2" cy="619.7" rx="1.3" ry="1.4" fill="#d6c8ac"/>
<ellipse cx="447.0" cy="642.4" rx="2.0" ry="1.6" fill="#e2d6be"/>
<ellipse cx="496.5" cy="629.5" rx="1.0" ry="1.6" fill="#a49480"/>
<ellipse cx="429.0" cy="643.0" rx="1.8" ry="1.0" fill="#c4b496"/>
<ellipse cx="337.7" cy="663.6" rx="1.7" ry="1.0" fill="#e2d6be"/>
<ellipse cx="388.6" cy="659.8" rx="1.3" ry="1.0" fill="#a49480"/>
<ellipse cx="408.3" cy="658.7" rx="1.5" ry="1.2" fill="#7a6c5a"/>
<ellipse cx="330.5" cy="662.6" rx="0.9" ry="0.7" fill="#8e7e6a"/>
<ellipse cx="326.1" cy="661.4" rx="2.0" ry="1.1" fill="#c4b496"/>
<ellipse cx="378.1" cy="656.2" rx="1.2" ry="1.5" fill="#e2d6be"/>
<ellipse cx="369.1" cy="659.0" rx="1.1" ry="1.3" fill="#d6c8ac"/>
<ellipse cx="387.4" cy="653.9" rx="2.0" ry="0.8" fill="#b8a890"/>
<ellipse cx="293.2" cy="680.5" rx="1.9" ry="1.3" fill="#d6c8ac"/>
<ellipse cx="425.6" cy="640.5" rx="2.1" ry="1.0" fill="#d6c8ac"/>
<ellipse cx="498.8" cy="636.0" rx="1.5" ry="1.6" fill="#d6c8ac"/>
<ellipse cx="533.6" cy="623.1" rx="1.4" ry="0.9" fill="#8e7e6a"/>
<ellipse cx="265.9" cy="683.8" rx="1.6" ry="1.3" fill="#7a6c5a"/>
<ellipse cx="396.8" cy="663.0" rx="1.3" ry="1.0" fill="#e2d6be"/>
<ellipse cx="382.7" cy="648.8" rx="2.2" ry="1.1" fill="#c4b496"/>
<ellipse cx="339.6" cy="668.3" rx="2.1" ry="1.3" fill="#e2d6be"/>
<ellipse cx="512.6" cy="626.6" rx="1.4" ry="1.1" fill="#a49480"/>
<ellipse cx="400.0" cy="645.8" rx="1.6" ry="1.6" fill="#7a6c5a"/>
<ellipse cx="455.2" cy="650.2" rx="1.8" ry="0.9" fill="#c4b496"/>
<ellipse cx="428.9" cy="656.1" rx="0.9" ry="0.9" fill="#d6c8ac"/>
<ellipse cx="431.1" cy="652.9" rx="0.9" ry="1.5" fill="#e2d6be"/>
<ellipse cx="362.9" cy="654.3" rx="0.9" ry="1.6" fill="#8e7e6a"/>
<ellipse cx="501.7" cy="634.9" rx="1.1" ry="0.9" fill="#b8a890"/>
<ellipse cx="535.5" cy="619.2" rx="2.2" ry="0.8" fill="#d6c8ac"/>
<ellipse cx="559.0" cy="617.1" rx="0.8" ry="1.2" fill="#e2d6be"/>
<ellipse cx="404.7" cy="657.9" rx="1.5" ry="0.8" fill="#d6c8ac"/>
<ellipse cx="579.0" cy="615.2" rx="1.4" ry="1.4" fill="#8e7e6a"/>
<ellipse cx="451.4" cy="637.1" rx="1.5" ry="1.4" fill="#b8a890"/>
<ellipse cx="545.7" cy="620.6" rx="1.0" ry="0.8" fill="#8e7e6a"/>
<ellipse cx="502.2" cy="637.3" rx="2.2" ry="1.3" fill="#b8a890"/>
<ellipse cx="275.9" cy="681.5" rx="0.9" ry="0.9" fill="#b8a890"/>
<ellipse cx="568.2" cy="624.8" rx="0.9" ry="1.4" fill="#e2d6be"/>
<ellipse cx="521.8" cy="629.0" rx="2.1" ry="1.3" fill="#c4b496"/>
<ellipse cx="300.8" cy="670.4" rx="1.0" ry="1.3" fill="#c4b496"/>
<ellipse cx="593.9" cy="617.3" rx="1.8" ry="0.9" fill="#c4b496"/>
<ellipse cx="540.7" cy="625.3" rx="1.2" ry="1.0" fill="#8e7e6a"/>
<ellipse cx="347.5" cy="666.9" rx="1.2" ry="0.8" fill="#c4b496"/>
<ellipse cx="517.1" cy="622.0" rx="1.0" ry="1.6" fill="#c4b496"/>
<ellipse cx="381.1" cy="663.3" rx="2.1" ry="1.3" fill="#8e7e6a"/>
<ellipse cx="441.8" cy="638.9" rx="1.1" ry="1.0" fill="#8e7e6a"/>
<ellipse cx="462.1" cy="646.6" rx="1.8" ry="0.8" fill="#7a6c5a"/>
<ellipse cx="469.7" cy="641.5" rx="1.0" ry="1.4" fill="#e2d6be"/>
<ellipse cx="536.9" cy="619.4" rx="1.2" ry="1.5" fill="#e2d6be"/>
<ellipse cx="466.3" cy="634.6" rx="0.9" ry="1.3" fill="#8e7e6a"/>
<ellipse cx="443.6" cy="653.6" rx="1.6" ry="0.8" fill="#c4b496"/>
<ellipse cx="556.8" cy="624.2" rx="1.1" ry="0.7" fill="#7a6c5a"/>
<ellipse cx="338.0" cy="669.0" rx="1.3" ry="1.1" fill="#8e7e6a"/>
<ellipse cx="352.6" cy="659.2" rx="1.6" ry="1.0" fill="#c4b496"/>
<ellipse cx="533.5" cy="623.8" rx="1.9" ry="1.4" fill="#a49480"/>
<ellipse cx="553.1" cy="627.2" rx="1.7" ry="1.1" fill="#8e7e6a"/>
<ellipse cx="304.8" cy="671.7" rx="1.3" ry="0.8" fill="#e2d6be"/>
<ellipse cx="289.1" cy="680.3" rx="2.1" ry="0.9" fill="#c4b496"/>
<ellipse cx="522.8" cy="627.6" rx="1.5" ry="1.2" fill="#d6c8ac"/>
<ellipse cx="538.9" cy="622.9" rx="0.8" ry="1.2" fill="#7a6c5a"/>
<ellipse cx="475.1" cy="643.3" rx="0.8" ry="1.3" fill="#7a6c5a"/>
<ellipse cx="365.1" cy="658.8" rx="1.5" ry="1.3" fill="#e2d6be"/>
<ellipse cx="414.1" cy="656.4" rx="1.6" ry="1.5" fill="#7a6c5a"/>
<ellipse cx="492.6" cy="635.3" rx="1.9" ry="1.0" fill="#7a6c5a"/>
<ellipse cx="261.2" cy="685.6" rx="1.1" ry="1.0" fill="#d6c8ac"/>
<ellipse cx="285.1" cy="676.5" rx="1.6" ry="1.4" fill="#a49480"/>
<ellipse cx="401.1" cy="662.2" rx="0.8" ry="1.5" fill="#8e7e6a"/>
<ellipse cx="279.6" cy="681.8" rx="1.7" ry="1.6" fill="#b8a890"/>
<ellipse cx="498.8" cy="638.7" rx="1.8" ry="1.2" fill="#8e7e6a"/>
<ellipse cx="426.0" cy="641.5" rx="1.0" ry="1.0" fill="#c4b496"/>
<ellipse cx="447.6" cy="642.4" rx="0.8" ry="1.1" fill="#8e7e6a"/>
<ellipse cx="521.3" cy="628.7" rx="1.1" ry="1.3" fill="#b8a890"/>
<ellipse cx="391.7" cy="648.4" rx="1.8" ry="1.2" fill="#a49480"/>
<ellipse cx="604.2" cy="610.4" rx="0.9" ry="1.0" fill="#c4b496"/>
<ellipse cx="349.3" cy="665.8" rx="2.1" ry="0.9" fill="#a49480"/>
<ellipse cx="401.0" cy="648.1" rx="1.7" ry="1.2" fill="#a49480"/>
<ellipse cx="549.6" cy="628.3" rx="1.8" ry="1.1" fill="#e2d6be"/>
<ellipse cx="426.0" cy="650.5" rx="1.1" ry="1.1" fill="#d6c8ac"/>
<ellipse cx="469.5" cy="647.1" rx="1.1" ry="0.7" fill="#d6c8ac"/>
<ellipse cx="359.3" cy="662.6" rx="1.6" ry="1.1" fill="#b8a890"/>
<ellipse cx="465.6" cy="642.7" rx="1.8" ry="1.4" fill="#d6c8ac"/>
<ellipse cx="593.0" cy="610.4" rx="1.5" ry="0.8" fill="#8e7e6a"/>
<ellipse cx="556.7" cy="623.6" rx="2.1" ry="0.9" fill="#a49480"/>
<ellipse cx="473.0" cy="643.5" rx="2.0" ry="0.7" fill="#a49480"/>
<ellipse cx="309.8" cy="667.9" rx="1.0" ry="1.3" fill="#d6c8ac"/>
<ellipse cx="458.7" cy="640.8" rx="1.3" ry="1.4" fill="#8e7e6a"/>
<ellipse cx="507.9" cy="637.8" rx="2.1" ry="1.3" fill="#c4b496"/>
<ellipse cx="290.8" cy="673.8" rx="0.9" ry="0.9" fill="#b8a890"/>
<ellipse cx="315.5" cy="676.4" rx="2.2" ry="1.4" fill="#8e7e6a"/>
<ellipse cx="397.6" cy="655.2" rx="1.3" ry="0.8" fill="#7a6c5a"/>
<ellipse cx="596.5" cy="610.1" rx="0.8" ry="1.0" fill="#b8a890"/>
<ellipse cx="590.4" cy="609.9" rx="1.9" ry="1.3" fill="#b8a890"/>
<ellipse cx="259.6" cy="686.4" rx="2.2" ry="1.4" fill="#8e7e6a"/>
<ellipse cx="580.9" cy="615.8" rx="1.2" ry="1.1" fill="#a49480"/>
<ellipse cx="526.7" cy="621.0" rx="1.0" ry="1.1" fill="#c4b496"/>
<ellipse cx="276.5" cy="677.5" rx="1.1" ry="1.6" fill="#b8a890"/>
<ellipse cx="491.2" cy="628.5" rx="1.2" ry="0.8" fill="#e2d6be"/>
<ellipse cx="408.0" cy="646.6" rx="2.0" ry="1.5" fill="#8e7e6a"/>
<ellipse cx="286.7" cy="676.5" rx="1.9" ry="0.7" fill="#c4b496"/>
<ellipse cx="304.1" cy="678.1" rx="0.8" ry="1.2" fill="#e2d6be"/>
<ellipse cx="563.1" cy="614.7" rx="2.2" ry="0.9" fill="#c4b496"/>
<ellipse cx="411.6" cy="651.2" rx="0.9" ry="1.0" fill="#c4b496"/>
<ellipse cx="498.6" cy="633.5" rx="0.9" ry="1.1" fill="#c4b496"/>
<ellipse cx="432.1" cy="654.1" rx="2.1" ry="1.3" fill="#7a6c5a"/>
<ellipse cx="480.4" cy="630.2" rx="0.8" ry="1.4" fill="#e2d6be"/>
<ellipse cx="543.2" cy="628.7" rx="1.4" ry="1.5" fill="#d6c8ac"/>
<ellipse cx="609.7" cy="614.5" rx="2.0" ry="0.8" fill="#c4b496"/>
<ellipse cx="321.9" cy="674.1" rx="0.9" ry="1.0" fill="#e2d6be"/>
<ellipse cx="404.0" cy="649.1" rx="1.5" ry="1.0" fill="#a49480"/>
<ellipse cx="479.5" cy="641.6" rx="1.9" ry="0.8" fill="#a49480"/>
<ellipse cx="389.7" cy="662.7" rx="2.0" ry="0.9" fill="#d6c8ac"/>
<ellipse cx="520.1" cy="628.4" rx="1.2" ry="1.1" fill="#e2d6be"/>
<ellipse cx="338.2" cy="672.2" rx="2.1" ry="0.7" fill="#8e7e6a"/>
<ellipse cx="543.2" cy="617.6" rx="1.0" ry="1.3" fill="#b8a890"/>
<ellipse cx="530.0" cy="621.3" rx="1.5" ry="1.6" fill="#a49480"/>
<ellipse cx="452.5" cy="639.4" rx="0.9" ry="1.1" fill="#b8a890"/>
<ellipse cx="385.3" cy="655.9" rx="1.6" ry="1.6" fill="#8e7e6a"/>
<ellipse cx="597.5" cy="610.1" rx="0.8" ry="0.7" fill="#e2d6be"/>
<ellipse cx="301.6" cy="675.1" rx="1.8" ry="0.7" fill="#c4b496"/>
<ellipse cx="329.2" cy="663.6" rx="1.8" ry="0.9" fill="#b8a890"/>
<ellipse cx="274.0" cy="678.8" rx="0.9" ry="1.0" fill="#b8a890"/>
<ellipse cx="530.4" cy="627.3" rx="1.4" ry="0.8" fill="#d6c8ac"/>
<ellipse cx="583.2" cy="615.1" rx="1.5" ry="1.3" fill="#7a6c5a"/>
<ellipse cx="592.1" cy="620.8" rx="1.2" ry="0.8" fill="#a49480"/>
<ellipse cx="281.5" cy="677.6" rx="1.8" ry="1.2" fill="#e2d6be"/>
<ellipse cx="289.1" cy="678.2" rx="1.9" ry="1.0" fill="#e2d6be"/>
<ellipse cx="303.1" cy="673.3" rx="1.5" ry="1.2" fill="#8e7e6a"/>
<ellipse cx="455.8" cy="634.6" rx="1.8" ry="0.8" fill="#8e7e6a"/>
<ellipse cx="387.2" cy="653.1" rx="1.9" ry="1.1" fill="#8e7e6a"/>
<ellipse cx="517.9" cy="625.4" rx="2.0" ry="1.3" fill="#e2d6be"/>
<ellipse cx="313.2" cy="675.6" rx="1.8" ry="1.2" fill="#e2d6be"/>
<ellipse cx="579.8" cy="621.9" rx="1.6" ry="1.2" fill="#a49480"/>
<ellipse cx="380.4" cy="650.2" rx="1.4" ry="1.3" fill="#7a6c5a"/>
<ellipse cx="430.0" cy="654.7" rx="0.9" ry="1.2" fill="#d6c8ac"/>
<ellipse cx="400.9" cy="654.4" rx="1.4" ry="1.2" fill="#7a6c5a"/>
<ellipse cx="591.9" cy="610.2" rx="0.9" ry="1.3" fill="#d6c8ac"/>
<ellipse cx="269.1" cy="683.1" rx="1.2" ry="1.2" fill="#7a6c5a"/>
<ellipse cx="510.6" cy="623.9" rx="1.7" ry="1.5" fill="#d6c8ac"/>
<ellipse cx="398.2" cy="650.8" rx="1.4" ry="1.0" fill="#c4b496"/>
<ellipse cx="368.9" cy="662.2" rx="1.5" ry="1.0" fill="#a49480"/>
<ellipse cx="331.0" cy="663.7" rx="2.1" ry="0.9" fill="#d6c8ac"/>
<ellipse cx="307.5" cy="679.4" rx="1.7" ry="1.1" fill="#7a6c5a"/>
<ellipse cx="485.6" cy="631.5" rx="1.0" ry="1.1" fill="#a49480"/>
<ellipse cx="432.8" cy="655.3" rx="1.3" ry="0.7" fill="#e2d6be"/>
<ellipse cx="349.3" cy="664.0" rx="1.6" ry="1.5" fill="#7a6c5a"/>
<ellipse cx="339.4" cy="660.9" rx="1.6" ry="0.9" fill="#b8a890"/>
<ellipse cx="358.5" cy="656.3" rx="1.2" ry="1.0" fill="#7a6c5a"/>
<ellipse cx="348.2" cy="666.1" rx="1.7" ry="1.6" fill="#d6c8ac"/>
<ellipse cx="499.5" cy="626.9" rx="0.9" ry="1.5" fill="#b8a890"/>
<ellipse cx="554.6" cy="623.1" rx="0.9" ry="1.6" fill="#e2d6be"/>
<ellipse cx="315.3" cy="668.8" rx="1.9" ry="0.8" fill="#c4b496"/>
<ellipse cx="371.2" cy="652.5" rx="0.9" ry="1.3" fill="#e2d6be"/>
<ellipse cx="609.6" cy="612.7" rx="0.9" ry="0.8" fill="#d6c8ac"/>
<ellipse cx="589.9" cy="618.9" rx="2.1" ry="1.2" fill="#d6c8ac"/>
<ellipse cx="418.4" cy="642.6" rx="1.4" ry="1.5" fill="#7a6c5a"/>
<ellipse cx="357.2" cy="656.6" rx="1.5" ry="1.5" fill="#d6c8ac"/>
<ellipse cx="419.9" cy="642.9" rx="1.9" ry="0.8" fill="#7a6c5a"/>
<ellipse cx="287.8" cy="679.7" rx="1.7" ry="1.0" fill="#d6c8ac"/>
<ellipse cx="350.9" cy="664.5" rx="2.2" ry="1.1" fill="#8e7e6a"/>
<ellipse cx="568.0" cy="626.2" rx="1.0" ry="1.3" fill="#8e7e6a"/>
<ellipse cx="581.1" cy="615.0" rx="1.9" ry="1.2" fill="#8e7e6a"/>
<ellipse cx="363.0" cy="666.4" rx="1.7" ry="1.0" fill="#7a6c5a"/>
<ellipse cx="580.7" cy="618.3" rx="1.5" ry="1.0" fill="#a49480"/>
<ellipse cx="477.8" cy="637.1" rx="1.4" ry="1.3" fill="#d6c8ac"/>
<ellipse cx="301.8" cy="672.0" rx="1.8" ry="1.4" fill="#d6c8ac"/>
<ellipse cx="412.5" cy="646.7" rx="1.1" ry="1.3" fill="#a49480"/>
<ellipse cx="412.9" cy="653.6" rx="2.0" ry="0.8" fill="#a49480"/>
<ellipse cx="425.5" cy="645.3" rx="2.0" ry="1.3" fill="#a49480"/>
<ellipse cx="272.7" cy="682.4" rx="1.0" ry="1.4" fill="#b8a890"/>
<ellipse cx="459.6" cy="641.3" rx="2.0" ry="1.5" fill="#7a6c5a"/>
<ellipse cx="581.3" cy="614.4" rx="1.3" ry="1.5" fill="#8e7e6a"/>
<ellipse cx="440.5" cy="642.2" rx="1.3" ry="1.4" fill="#b8a890"/>
<ellipse cx="487.2" cy="639.9" rx="1.8" ry="0.7" fill="#8e7e6a"/>
<ellipse cx="365.2" cy="666.0" rx="1.7" ry="1.1" fill="#c4b496"/>
<ellipse cx="464.6" cy="639.8" rx="2.1" ry="1.2" fill="#b8a890"/>
<ellipse cx="507.3" cy="633.1" rx="1.9" ry="0.8" fill="#e2d6be"/>
<ellipse cx="486.1" cy="636.8" rx="1.5" ry="1.1" fill="#b8a890"/>
<ellipse cx="269.4" cy="680.3" rx="1.5" ry="0.8" fill="#8e7e6a"/>
<ellipse cx="314.2" cy="667.0" rx="1.5" ry="1.3" fill="#e2d6be"/>
<ellipse cx="485.8" cy="634.6" rx="1.7" ry="0.9" fill="#b8a890"/>
<ellipse cx="581.6" cy="613.3" rx="1.1" ry="0.8" fill="#7a6c5a"/>
<ellipse cx="386.8" cy="657.5" rx="1.1" ry="0.8" fill="#7a6c5a"/>
<ellipse cx="466.4" cy="644.3" rx="1.4" ry="1.3" fill="#d6c8ac"/>
<ellipse cx="571.5" cy="619.5" rx="0.8" ry="1.1" fill="#e2d6be"/>
<ellipse cx="259.2" cy="685.9" rx="0.9" ry="1.1" fill="#e2d6be"/>
<ellipse cx="574.0" cy="618.3" rx="1.2" ry="0.8" fill="#c4b496"/>
<ellipse cx="537.1" cy="629.1" rx="1.7" ry="1.5" fill="#7a6c5a"/>
<ellipse cx="469.1" cy="646.2" rx="2.0" ry="0.9" fill="#a49480"/>
<ellipse cx="568.9" cy="626.1" rx="1.1" ry="0.8" fill="#b8a890"/>
<ellipse cx="325.5" cy="668.9" rx="2.0" ry="0.9" fill="#e2d6be"/>
<ellipse cx="255.2" cy="683.1" rx="1.2" ry="1.4" fill="#e2d6be"/>
<ellipse cx="393.4" cy="659.9" rx="1.0" ry="1.0" fill="#8e7e6a"/>
<ellipse cx="331.3" cy="665.8" rx="1.4" ry="1.1" fill="#d6c8ac"/>
<ellipse cx="351.5" cy="664.0" rx="1.1" ry="1.3" fill="#c4b496"/>
<ellipse cx="497.1" cy="637.8" rx="2.0" ry="1.5" fill="#c4b496"/>
<ellipse cx="543.3" cy="628.7" rx="2.1" ry="1.2" fill="#c4b496"/>
<ellipse cx="508.0" cy="630.3" rx="1.1" ry="1.0" fill="#b8a890"/>
<ellipse cx="508.9" cy="636.7" rx="0.9" ry="1.4" fill="#c4b496"/>
<ellipse cx="311.4" cy="674.1" rx="1.8" ry="1.1" fill="#c4b496"/>
<ellipse cx="305.2" cy="672.1" rx="0.8" ry="0.8" fill="#e2d6be"/>
<ellipse cx="591.5" cy="618.0" rx="1.8" ry="1.1" fill="#c4b496"/>
<ellipse cx="550.9" cy="620.0" rx="2.1" ry="0.8" fill="#8e7e6a"/>
<ellipse cx="384.9" cy="665.1" rx="1.8" ry="1.0" fill="#e2d6be"/>
<ellipse cx="348.2" cy="665.3" rx="2.0" ry="1.0" fill="#7a6c5a"/>
<ellipse cx="400.8" cy="651.9" rx="1.6" ry="1.6" fill="#d6c8ac"/>
<ellipse cx="335.7" cy="663.3" rx="1.9" ry="0.8" fill="#7a6c5a"/>
<ellipse cx="426.3" cy="641.2" rx="1.7" ry="1.0" fill="#d6c8ac"/>
<ellipse cx="514.0" cy="628.4" rx="1.2" ry="1.5" fill="#c4b496"/>
<ellipse cx="268.8" cy="681.8" rx="1.9" ry="1.5" fill="#d6c8ac"/>
<ellipse cx="526.2" cy="632.8" rx="1.8" ry="0.8" fill="#e2d6be"/>
<ellipse cx="436.7" cy="646.1" rx="1.4" ry="0.8" fill="#b8a890"/>
<ellipse cx="473.3" cy="639.8" rx="2.2" ry="1.2" fill="#b8a890"/>
<ellipse cx="550.0" cy="624.0" rx="0.9" ry="1.0" fill="#e2d6be"/>
<ellipse cx="288.2" cy="676.4" rx="2.1" ry="0.8" fill="#b8a890"/>
<ellipse cx="564.0" cy="618.4" rx="0.9" ry="1.0" fill="#c4b496"/>
<ellipse cx="561.0" cy="618.4" rx="1.8" ry="1.1" fill="#c4b496"/>
<ellipse cx="585.3" cy="617.5" rx="2.0" ry="1.0" fill="#e2d6be"/>
<ellipse cx="546.6" cy="623.3" rx="1.3" ry="1.2" fill="#c4b496"/>
<ellipse cx="435.7" cy="653.7" rx="1.4" ry="0.9" fill="#a49480"/>
<ellipse cx="398.4" cy="653.0" rx="1.0" ry="1.1" fill="#d6c8ac"/>
<ellipse cx="362.9" cy="659.0" rx="1.6" ry="1.2" fill="#8e7e6a"/>
<ellipse cx="257.3" cy="678.2" rx="1.2" ry="1.2" fill="#7a6c5a"/>
<ellipse cx="522.9" cy="634.0" rx="0.9" ry="0.8" fill="#a49480"/>
<ellipse cx="358.0" cy="661.1" rx="1.1" ry="1.1" fill="#b8a890"/>
<ellipse cx="311.6" cy="670.2" rx="1.8" ry="1.2" fill="#c4b496"/>
<ellipse cx="394.7" cy="654.3" rx="1.4" ry="0.7" fill="#b8a890"/>
<ellipse cx="422.9" cy="646.2" rx="1.7" ry="0.8" fill="#b8a890"/>
<ellipse cx="385.9" cy="661.2" rx="2.1" ry="1.5" fill="#e2d6be"/>
<ellipse cx="397.1" cy="653.6" rx="1.2" ry="0.8" fill="#c4b496"/>
<ellipse cx="512.9" cy="629.5" rx="1.2" ry="0.9" fill="#e2d6be"/>
<ellipse cx="257.4" cy="685.3" rx="1.2" ry="0.9" fill="#8e7e6a"/>
<ellipse cx="409.7" cy="654.1" rx="1.4" ry="1.0" fill="#d6c8ac"/>
<ellipse cx="323.1" cy="664.3" rx="1.4" ry="1.3" fill="#7a6c5a"/>
<ellipse cx="491.7" cy="627.6" rx="1.0" ry="1.2" fill="#d6c8ac"/>
<ellipse cx="374.6" cy="660.2" rx="1.0" ry="1.5" fill="#d6c8ac"/>
<ellipse cx="323.8" cy="661.7" rx="1.5" ry="0.9" fill="#8e7e6a"/>
<ellipse cx="607.3" cy="611.7" rx="1.2" ry="1.0" fill="#d6c8ac"/>
<ellipse cx="265.6" cy="674.8" rx="1.1" ry="1.6" fill="#b8a890"/>
<ellipse cx="296.6" cy="680.6" rx="1.7" ry="1.4" fill="#a49480"/>
<ellipse cx="462.1" cy="648.2" rx="1.3" ry="1.0" fill="#e2d6be"/>
<ellipse cx="314.2" cy="668.3" rx="0.9" ry="0.9" fill="#a49480"/>
<ellipse cx="596.9" cy="618.0" rx="1.9" ry="1.1" fill="#8e7e6a"/>
<ellipse cx="556.9" cy="624.8" rx="1.8" ry="1.5" fill="#7a6c5a"/>
<ellipse cx="331.7" cy="669.6" rx="0.9" ry="1.1" fill="#a49480"/>
<ellipse cx="346.5" cy="664.0" rx="1.0" ry="0.8" fill="#8e7e6a"/>
<ellipse cx="367.8" cy="655.9" rx="1.7" ry="0.7" fill="#a49480"/>
<ellipse cx="519.0" cy="630.1" rx="1.3" ry="1.1" fill="#b8a890"/>
<ellipse cx="349.3" cy="660.1" rx="2.0" ry="1.2" fill="#e2d6be"/>
<ellipse cx="307.2" cy="668.1" rx="1.6" ry="0.9" fill="#d6c8ac"/>
<ellipse cx="454.8" cy="635.6" rx="1.1" ry="1.0" fill="#a49480"/>
<ellipse cx="462.0" cy="637.4" rx="1.8" ry="0.9" fill="#8e7e6a"/>
<ellipse cx="296.3" cy="677.5" rx="1.8" ry="1.4" fill="#e2d6be"/>
<ellipse cx="333.0" cy="666.0" rx="1.2" ry="0.9" fill="#7a6c5a"/>
<ellipse cx="320.5" cy="668.9" rx="1.6" ry="0.8" fill="#a49480"/>
<ellipse cx="481.8" cy="638.1" rx="2.1" ry="1.6" fill="#d6c8ac"/>
<ellipse cx="361.6" cy="662.2" rx="1.6" ry="1.3" fill="#b8a890"/>
<ellipse cx="388.9" cy="661.8" rx="2.0" ry="1.2" fill="#b8a890"/>
<ellipse cx="301.6" cy="674.7" rx="1.6" ry="0.9" fill="#d6c8ac"/>
<ellipse cx="471.4" cy="644.6" rx="2.1" ry="0.9" fill="#7a6c5a"/>
<ellipse cx="265.1" cy="677.1" rx="1.0" ry="1.1" fill="#b8a890"/>
<ellipse cx="282.3" cy="676.4" rx="1.8" ry="1.3" fill="#d6c8ac"/>
<ellipse cx="468.9" cy="646.8" rx="1.9" ry="1.0" fill="#c4b496"/>
<ellipse cx="345.7" cy="664.4" rx="1.5" ry="0.8" fill="#a49480"/>
<ellipse cx="571.4" cy="625.5" rx="2.1" ry="0.8" fill="#e2d6be"/>
<ellipse cx="472.2" cy="631.4" rx="1.5" ry="1.3" fill="#b8a890"/>
<ellipse cx="433.1" cy="641.5" rx="1.4" ry="1.4" fill="#a49480"/>
<ellipse cx="492.5" cy="641.3" rx="1.8" ry="1.3" fill="#a49480"/>
<ellipse cx="582.9" cy="617.7" rx="1.9" ry="1.3" fill="#b8a890"/>
<ellipse cx="522.5" cy="623.9" rx="1.5" ry="1.2" fill="#a49480"/>
<ellipse cx="316.7" cy="675.0" rx="1.5" ry="1.1" fill="#a49480"/>
<ellipse cx="455.7" cy="650.9" rx="1.3" ry="1.3" fill="#8e7e6a"/>
<ellipse cx="284.1" cy="681.5" rx="1.7" ry="1.2" fill="#c4b496"/>
<ellipse cx="258.1" cy="684.9" rx="0.8" ry="1.3" fill="#a49480"/>
<ellipse cx="502.8" cy="639.6" rx="1.9" ry="1.4" fill="#d6c8ac"/>
<ellipse cx="553.8" cy="621.2" rx="1.1" ry="0.8" fill="#d6c8ac"/>
<ellipse cx="372.8" cy="663.2" rx="1.5" ry="1.3" fill="#a49480"/>
<ellipse cx="523.1" cy="625.5" rx="1.1" ry="0.8" fill="#7a6c5a"/>
<ellipse cx="429.7" cy="650.9" rx="1.6" ry="0.7" fill="#7a6c5a"/>
<ellipse cx="367.5" cy="660.0" rx="0.9" ry="0.9" fill="#b8a890"/>
<ellipse cx="352.7" cy="660.5" rx="1.9" ry="0.9" fill="#a49480"/>
<ellipse cx="277.7" cy="678.4" rx="2.1" ry="0.9" fill="#e2d6be"/>
<ellipse cx="346.2" cy="662.7" rx="0.8" ry="0.8" fill="#8e7e6a"/>
<ellipse cx="338.5" cy="662.8" rx="1.1" ry="1.5" fill="#c4b496"/>
<ellipse cx="342.9" cy="662.2" rx="1.7" ry="1.1" fill="#d6c8ac"/>
<ellipse cx="443.2" cy="647.6" rx="0.9" ry="1.3" fill="#c4b496"/>
<ellipse cx="291.5" cy="677.0" rx="1.9" ry="1.2" fill="#c4b496"/>
<ellipse cx="332.8" cy="664.3" rx="1.1" ry="1.1" fill="#a49480"/>
<ellipse cx="405.0" cy="644.0" rx="1.2" ry="1.6" fill="#a49480"/>
<ellipse cx="393.3" cy="647.8" rx="0.9" ry="1.0" fill="#7a6c5a"/>
<ellipse cx="419.8" cy="657.4" rx="2.1" ry="0.8" fill="#7a6c5a"/>
<ellipse cx="562.3" cy="617.5" rx="1.4" ry="1.6" fill="#d6c8ac"/>
<ellipse cx="415.4" cy="647.5" rx="2.1" ry="1.1" fill="#b8a890"/>
<ellipse cx="439.3" cy="638.5" rx="2.2" ry="0.8" fill="#7a6c5a"/>
<ellipse cx="338.7" cy="673.2" rx="1.7" ry="1.2" fill="#a49480"/>
<ellipse cx="493.4" cy="634.1" rx="1.5" ry="0.9" fill="#a49480"/>
<ellipse cx="264.5" cy="675.0" rx="1.4" ry="0.7" fill="#a49480"/>
<ellipse cx="420.7" cy="650.9" rx="2.1" ry="1.5" fill="#b8a890"/>
<ellipse cx="328.6" cy="673.1" rx="1.5" ry="0.8" fill="#d6c8ac"/>
<ellipse cx="472.9" cy="646.2" rx="1.6" ry="1.6" fill="#e2d6be"/>
<ellipse cx="270.4" cy="685.4" rx="2.1" ry="1.3" fill="#d6c8ac"/>
<ellipse cx="336.8" cy="666.5" rx="2.0" ry="0.8" fill="#b8a890"/>
<ellipse cx="337.5" cy="659.6" rx="1.5" ry="0.9" fill="#e2d6be"/>
<ellipse cx="590.5" cy="621.0" rx="1.7" ry="1.2" fill="#c4b496"/>
<ellipse cx="301.7" cy="680.1" rx="2.0" ry="1.1" fill="#e2d6be"/>
<ellipse cx="359.8" cy="668.7" rx="1.3" ry="1.5" fill="#c4b496"/>
<ellipse cx="470.2" cy="647.1" rx="1.1" ry="1.2" fill="#a49480"/>
<ellipse cx="487.4" cy="642.1" rx="1.8" ry="0.7" fill="#b8a890"/>
<ellipse cx="386.3" cy="661.2" rx="2.0" ry="1.0" fill="#e2d6be"/>
<ellipse cx="386.7" cy="651.9" rx="1.4" ry="1.6" fill="#7a6c5a"/>
<ellipse cx="318.3" cy="673.2" rx="2.1" ry="1.0" fill="#d6c8ac"/>
<ellipse cx="287.9" cy="674.8" rx="1.8" ry="1.4" fill="#7a6c5a"/>
<ellipse cx="570.1" cy="621.6" rx="1.0" ry="1.6" fill="#b8a890"/>
<ellipse cx="332.1" cy="661.3" rx="0.9" ry="1.6" fill="#8e7e6a"/>
<ellipse cx="378.1" cy="655.9" rx="1.2" ry="1.4" fill="#e2d6be"/>
<ellipse cx="370.6" cy="654.9" rx="2.1" ry="1.5" fill="#c4b496"/>
<ellipse cx="417.5" cy="645.5" rx="1.7" ry="1.0" fill="#b8a890"/>
<ellipse cx="285.9" cy="674.1" rx="1.3" ry="1.3" fill="#c4b496"/>
<ellipse cx="496.3" cy="633.4" rx="2.1" ry="1.1" fill="#c4b496"/>
<line x1="254.8" y1="629.7" x2="297.2" y2="669.0" stroke="#86724f" stroke-width="7.5"/>
<line x1="254.8" y1="627.2" x2="297.2" y2="666.5" stroke="#a89068" stroke-width="1.5" opacity="0.7"/>
<polygon points="257.9,625.5 265.9,625.5 261.9,637.5" fill="#8e7858" />
<polygon points="268.0,623.0 284.0,623.0 277.0,645.0 275.0,645.0" fill="#8e7858" />
<polygon points="271.0,624.0 274.0,624.0 275.5,639.0" fill="#a89070" />
<polygon points="286.1,620.5 294.1,620.5 290.1,632.5" fill="#8e7858" />
<polygon points="254.8,625.7 297.2,618.3 297.2,622.3 254.8,629.7" fill="#968060"/>
<circle cx="260.1" cy="626.8" r="1.5" fill="#dcc292"/>
<circle cx="270.7" cy="624.9" r="1.5" fill="#dcc292"/>
<circle cx="281.3" cy="623.1" r="1.5" fill="#dcc292"/>
<circle cx="291.9" cy="621.2" r="1.5" fill="#dcc292"/>
<line x1="254.8" y1="680.0" x2="297.2" y2="622.3" stroke="#b49660" stroke-width="8"/>
<line x1="253.3" y1="677.5" x2="295.7" y2="619.8" stroke="#dcbf84" stroke-width="2" opacity="0.9"/>
<line x1="256.8" y1="683.2" x2="299.2" y2="625.5" stroke="#806646" stroke-width="1.2" opacity="0.8"/>
<line x1="306.5" y1="620.7" x2="344.5" y2="658.0" stroke="#86724f" stroke-width="7.5"/>
<line x1="306.5" y1="618.2" x2="344.5" y2="655.5" stroke="#a89068" stroke-width="1.5" opacity="0.7"/>
<polygon points="308.8,616.6 316.8,616.6 312.8,628.6" fill="#8e7858" />
<polygon points="317.5,614.4 333.5,614.4 326.5,636.4 324.5,636.4" fill="#8e7858" />
<polygon points="320.5,615.4 323.5,615.4 325.0,630.4" fill="#a89070" />
<polygon points="334.2,612.2 342.2,612.2 338.2,624.2" fill="#8e7858" />
<polygon points="306.5,616.7 344.5,610.1 344.5,614.1 306.5,620.7" fill="#968060"/>
<circle cx="311.2" cy="617.9" r="1.5" fill="#dcc292"/>
<circle cx="320.8" cy="616.2" r="1.5" fill="#dcc292"/>
<circle cx="330.2" cy="614.5" r="1.5" fill="#dcc292"/>
<circle cx="339.8" cy="612.9" r="1.5" fill="#dcc292"/>
<line x1="306.5" y1="668.0" x2="344.5" y2="614.1" stroke="#b49660" stroke-width="8"/>
<line x1="305.0" y1="665.5" x2="343.0" y2="611.6" stroke="#dcbf84" stroke-width="2" opacity="0.9"/>
<line x1="308.5" y1="671.2" x2="346.5" y2="617.3" stroke="#806646" stroke-width="1.2" opacity="0.8"/>
<line x1="353.0" y1="612.6" x2="391.0" y2="647.0" stroke="#86724f" stroke-width="7.5"/>
<line x1="353.0" y1="610.1" x2="391.0" y2="644.5" stroke="#a89068" stroke-width="1.5" opacity="0.7"/>
<polygon points="355.3,608.5 363.3,608.5 359.3,620.5" fill="#8e7858" />
<polygon points="364.0,606.3 380.0,606.3 373.0,628.3 371.0,628.3" fill="#8e7858" />
<polygon points="367.0,607.3 370.0,607.3 371.5,622.3" fill="#a89070" />
<polygon points="380.7,604.0 388.7,604.0 384.7,616.0" fill="#8e7858" />
<polygon points="353.0,608.6 391.0,601.9 391.0,605.9 353.0,612.6" fill="#968060"/>
<circle cx="357.8" cy="609.7" r="1.5" fill="#dcc292"/>
<circle cx="367.2" cy="608.1" r="1.5" fill="#dcc292"/>
<circle cx="376.8" cy="606.4" r="1.5" fill="#dcc292"/>
<circle cx="386.2" cy="604.8" r="1.5" fill="#dcc292"/>
<line x1="353.0" y1="657.0" x2="391.0" y2="605.9" stroke="#b49660" stroke-width="8"/>
<line x1="351.5" y1="654.5" x2="389.5" y2="603.4" stroke="#dcbf84" stroke-width="2" opacity="0.9"/>
<line x1="355.0" y1="660.2" x2="393.0" y2="609.1" stroke="#806646" stroke-width="1.2" opacity="0.8"/>
<line x1="399.0" y1="604.5" x2="433.5" y2="638.5" stroke="#86724f" stroke-width="7.5"/>
<line x1="399.0" y1="602.0" x2="433.5" y2="636.0" stroke="#a89068" stroke-width="1.5" opacity="0.7"/>
<polygon points="400.8,600.5 408.8,600.5 404.8,612.5" fill="#8e7858" />
<polygon points="408.2,598.5 424.2,598.5 417.2,620.5 415.2,620.5" fill="#8e7858" />
<polygon points="411.2,599.5 414.2,599.5 415.8,614.5" fill="#a89070" />
<polygon points="423.8,596.5 431.8,596.5 427.8,608.5" fill="#8e7858" />
<polygon points="399.0,600.5 433.5,594.5 433.5,598.5 399.0,604.5" fill="#968060"/>
<circle cx="403.3" cy="601.8" r="1.5" fill="#dcc292"/>
<circle cx="411.9" cy="600.3" r="1.5" fill="#dcc292"/>
<circle cx="420.6" cy="598.8" r="1.5" fill="#dcc292"/>
<circle cx="429.2" cy="597.3" r="1.5" fill="#dcc292"/>
<line x1="399.0" y1="646.0" x2="433.5" y2="598.5" stroke="#b49660" stroke-width="8"/>
<line x1="397.5" y1="643.5" x2="432.0" y2="596.0" stroke="#dcbf84" stroke-width="2" opacity="0.9"/>
<line x1="401.0" y1="649.2" x2="435.5" y2="601.7" stroke="#806646" stroke-width="1.2" opacity="0.8"/>
<line x1="442.0" y1="597.0" x2="478.5" y2="633.5" stroke="#86724f" stroke-width="7.5"/>
<line x1="442.0" y1="594.5" x2="478.5" y2="631.0" stroke="#a89068" stroke-width="1.5" opacity="0.7"/>
<polygon points="444.1,593.0 452.1,593.0 448.1,605.0" fill="#8e7858" />
<polygon points="452.2,590.9 468.2,590.9 461.2,612.9 459.2,612.9" fill="#8e7858" />
<polygon points="455.2,591.9 458.2,591.9 459.8,606.9" fill="#a89070" />
<polygon points="468.4,588.7 476.4,588.7 472.4,600.7" fill="#8e7858" />
<polygon points="442.0,593.0 478.5,586.7 478.5,590.7 442.0,597.0" fill="#968060"/>
<circle cx="446.6" cy="594.2" r="1.5" fill="#dcc292"/>
<circle cx="455.7" cy="592.7" r="1.5" fill="#dcc292"/>
<circle cx="464.8" cy="591.1" r="1.5" fill="#dcc292"/>
<circle cx="473.9" cy="589.5" r="1.5" fill="#dcc292"/>
<line x1="442.0" y1="637.5" x2="478.5" y2="590.7" stroke="#b49660" stroke-width="8"/>
<line x1="440.5" y1="635.0" x2="477.0" y2="588.2" stroke="#dcbf84" stroke-width="2" opacity="0.9"/>
<line x1="444.0" y1="640.7" x2="480.5" y2="593.9" stroke="#806646" stroke-width="1.2" opacity="0.8"/>
<line x1="487.0" y1="589.2" x2="519.8" y2="622.0" stroke="#86724f" stroke-width="7.5"/>
<line x1="487.0" y1="586.7" x2="519.8" y2="619.5" stroke="#a89068" stroke-width="1.5" opacity="0.7"/>
<polygon points="488.5,585.2 496.5,585.2 492.5,597.2" fill="#8e7858" />
<polygon points="495.4,583.3 511.4,583.3 504.4,605.3 502.4,605.3" fill="#8e7858" />
<polygon points="498.4,584.3 501.4,584.3 502.9,599.3" fill="#a89070" />
<polygon points="510.3,581.4 518.3,581.4 514.3,593.4" fill="#8e7858" />
<polygon points="487.0,585.2 519.8,579.5 519.8,583.5 487.0,589.2" fill="#968060"/>
<circle cx="491.1" cy="586.5" r="1.5" fill="#dcc292"/>
<circle cx="499.3" cy="585.0" r="1.5" fill="#dcc292"/>
<circle cx="507.5" cy="583.6" r="1.5" fill="#dcc292"/>
<circle cx="515.7" cy="582.2" r="1.5" fill="#dcc292"/>
<line x1="487.0" y1="632.5" x2="519.8" y2="583.5" stroke="#b49660" stroke-width="8"/>
<line x1="485.5" y1="630.0" x2="518.3" y2="581.0" stroke="#dcbf84" stroke-width="2" opacity="0.9"/>
<line x1="489.0" y1="635.7" x2="521.8" y2="586.7" stroke="#806646" stroke-width="1.2" opacity="0.8"/>
<line x1="528.5" y1="581.9" x2="562.0" y2="616.0" stroke="#86724f" stroke-width="7.5"/>
<line x1="528.5" y1="579.4" x2="562.0" y2="613.5" stroke="#a89068" stroke-width="1.5" opacity="0.7"/>
<polygon points="530.1,578.0 538.1,578.0 534.1,590.0" fill="#8e7858" />
<polygon points="537.2,576.0 553.2,576.0 546.2,598.0 544.2,598.0" fill="#8e7858" />
<polygon points="540.2,577.0 543.2,577.0 544.8,592.0" fill="#a89070" />
<polygon points="552.4,574.1 560.4,574.1 556.4,586.1" fill="#8e7858" />
<polygon points="528.5,577.9 562.0,572.1 562.0,576.1 528.5,581.9" fill="#968060"/>
<circle cx="532.7" cy="579.2" r="1.5" fill="#dcc292"/>
<circle cx="541.1" cy="577.8" r="1.5" fill="#dcc292"/>
<circle cx="549.4" cy="576.3" r="1.5" fill="#dcc292"/>
<circle cx="557.8" cy="574.8" r="1.5" fill="#dcc292"/>
<line x1="528.5" y1="621.0" x2="562.0" y2="576.1" stroke="#b49660" stroke-width="8"/>
<line x1="527.0" y1="618.5" x2="560.5" y2="573.6" stroke="#dcbf84" stroke-width="2" opacity="0.9"/>
<line x1="530.5" y1="624.2" x2="564.0" y2="579.3" stroke="#806646" stroke-width="1.2" opacity="0.8"/>
<line x1="569.0" y1="574.9" x2="599.8" y2="611.0" stroke="#86724f" stroke-width="7.5"/>
<line x1="569.0" y1="572.4" x2="599.8" y2="608.5" stroke="#a89068" stroke-width="1.5" opacity="0.7"/>
<polygon points="570.1,571.0 578.1,571.0 574.1,583.0" fill="#8e7858" />
<polygon points="576.4,569.2 592.4,569.2 585.4,591.2 583.4,591.2" fill="#8e7858" />
<polygon points="579.4,570.2 582.4,570.2 583.9,585.2" fill="#a89070" />
<polygon points="590.7,567.4 598.7,567.4 594.7,579.4" fill="#8e7858" />
<polygon points="569.0,570.9 599.8,565.5 599.8,569.5 569.0,574.9" fill="#968060"/>
<circle cx="572.9" cy="572.2" r="1.5" fill="#dcc292"/>
<circle cx="580.5" cy="570.9" r="1.5" fill="#dcc292"/>
<circle cx="588.2" cy="569.5" r="1.5" fill="#dcc292"/>
<circle cx="595.9" cy="568.2" r="1.5" fill="#dcc292"/>
<line x1="569.0" y1="615.0" x2="599.8" y2="569.5" stroke="#b49660" stroke-width="8"/>
<line x1="567.5" y1="612.5" x2="598.3" y2="567.0" stroke="#dcbf84" stroke-width="2" opacity="0.9"/>
<line x1="571.0" y1="618.2" x2="601.8" y2="572.7" stroke="#806646" stroke-width="1.2" opacity="0.8"/>
<polygon points="250.0,621.5 606.0,559.4 606.0,565.4 250.0,627.5" fill="#9e8662" />
<line x1="250" y1="622.0" x2="606" y2="559.9" stroke="#c4aa80" stroke-width="1.6"/>
<line x1="250" y1="627.5" x2="606" y2="565.4" stroke="#7e6644" stroke-width="1"/>
<rect x="243.8" y="614.5" width="12.0" height="70.5" fill="url(#fpG)"/>
<rect x="243.8" y="614.5" width="12.0" height="2.5" fill="#d8bf8e"/>
<line x1="250.4" y1="617.5" x2="250.4" y2="683.0" stroke="#7a6242" stroke-width="1" opacity="0.7"/>
<circle cx="248.0" cy="626.5" r="1.4" fill="#e0c898"/>
<rect x="296.2" y="616.0" width="11.3" height="57.0" fill="url(#fpG)"/>
<rect x="296.2" y="616.0" width="11.3" height="2.5" fill="#d8bf8e"/>
<line x1="302.4" y1="619.0" x2="302.4" y2="671.0" stroke="#7a6242" stroke-width="1" opacity="0.7"/>
<circle cx="300.2" cy="628.0" r="1.4" fill="#e0c898"/>
<rect x="343.5" y="598.8" width="10.5" height="63.2" fill="url(#fpG)"/>
<rect x="343.5" y="598.8" width="10.5" height="2.5" fill="#d8bf8e"/>
<line x1="349.3" y1="601.8" x2="349.3" y2="660.0" stroke="#7a6242" stroke-width="1" opacity="0.7"/>
<circle cx="347.2" cy="610.8" r="1.4" fill="#e0c898"/>
<rect x="390.0" y="599.5" width="10.0" height="51.5" fill="url(#fpG)"/>
<rect x="390.0" y="599.5" width="10.0" height="2.5" fill="#d8bf8e"/>
<line x1="395.5" y1="602.5" x2="395.5" y2="649.0" stroke="#7a6242" stroke-width="1" opacity="0.7"/>
<circle cx="393.5" cy="611.5" r="1.4" fill="#e0c898"/>
<rect x="432.5" y="582.5" width="10.5" height="60.0" fill="url(#fpG)"/>
<rect x="432.5" y="582.5" width="10.5" height="2.5" fill="#d8bf8e"/>
<line x1="438.3" y1="585.5" x2="438.3" y2="640.5" stroke="#7a6242" stroke-width="1" opacity="0.7"/>
<circle cx="436.2" cy="594.5" r="1.4" fill="#e0c898"/>
<rect x="477.5" y="584.0" width="10.5" height="53.5" fill="url(#fpG)"/>
<rect x="477.5" y="584.0" width="10.5" height="2.5" fill="#d8bf8e"/>
<line x1="483.3" y1="587.0" x2="483.3" y2="635.5" stroke="#7a6242" stroke-width="1" opacity="0.7"/>
<circle cx="481.2" cy="596.0" r="1.4" fill="#e0c898"/>
<rect x="518.8" y="568.0" width="10.7" height="58.0" fill="url(#fpG)"/>
<rect x="518.8" y="568.0" width="10.7" height="2.5" fill="#d8bf8e"/>
<line x1="524.7" y1="571.0" x2="524.7" y2="624.0" stroke="#7a6242" stroke-width="1" opacity="0.7"/>
<circle cx="522.5" cy="580.0" r="1.4" fill="#e0c898"/>
<rect x="561.0" y="570.0" width="9.0" height="50.0" fill="url(#fpG)"/>
<rect x="561.0" y="570.0" width="9.0" height="2.5" fill="#d8bf8e"/>
<line x1="566.0" y1="573.0" x2="566.0" y2="618.0" stroke="#7a6242" stroke-width="1" opacity="0.7"/>
<circle cx="564.1" cy="582.0" r="1.4" fill="#e0c898"/>
<rect x="598.8" y="554.5" width="10.0" height="60.5" fill="url(#fpG)"/>
<rect x="598.8" y="554.5" width="10.0" height="2.5" fill="#d8bf8e"/>
<line x1="604.3" y1="557.5" x2="604.3" y2="613.0" stroke="#7a6242" stroke-width="1" opacity="0.7"/>
<circle cx="602.3" cy="566.5" r="1.4" fill="#e0c898"/>
</g>

<!-- LABELS -->
<g class="t">
<text x="71.5" y="24.6" textLength="133.0" lengthAdjust="spacingAndGlyphs">Banner-Flag</text>
<text x="326.5" y="79" textLength="47.0" lengthAdjust="spacingAndGlyphs">Flag</text>
<text x="76.1" y="179.6" textLength="108.0" lengthAdjust="spacingAndGlyphs">Side-Roof</text>
<text x="300.5" y="182.4" textLength="113.0" lengthAdjust="spacingAndGlyphs">Main-Roof</text>
<text x="52.5" y="246.6" textLength="137.0" lengthAdjust="spacingAndGlyphs">Shield-Eagle</text>
<text x="226.5" y="244.6" textLength="125.0" lengthAdjust="spacingAndGlyphs">Shield-Lion</text>
<text x="381.5" y="238.4" textLength="107.5" lengthAdjust="spacingAndGlyphs">Shield-Lis</text>
<text x="703.5" y="227.7" textLength="61.0" lengthAdjust="spacingAndGlyphs">Spike</text>
<text x="502.2" y="274.2" textLength="166.0" lengthAdjust="spacingAndGlyphs">Tent-Roof-opt1</text>
<text x="631.5" y="313" textLength="168.0" lengthAdjust="spacingAndGlyphs">Tent-Roof-opt2</text>
<text x="532.9" y="377" textLength="106.0" lengthAdjust="spacingAndGlyphs">Tent-opt1</text>
<text x="676.9" y="409" textLength="108.6" lengthAdjust="spacingAndGlyphs">Tent-opt2</text>
<text x="136.5" y="466" textLength="121.0" lengthAdjust="spacingAndGlyphs">Side-Stand</text>
<text x="366.9" y="483.6" textLength="127.0" lengthAdjust="spacingAndGlyphs">Main-Stand</text>
<text x="214.1" y="542.6" textLength="106.4" lengthAdjust="spacingAndGlyphs">Bleachers</text>
<text x="437.2" y="687.7" textLength="64.3" lengthAdjust="spacingAndGlyphs">Fence</text>
</g>

<!-- LOGO -->
<g id="logo">
<path d="M15 732 H222 L208 792.5 H15 Q7 792.5 7 784.5 V740 Q7 732 15 732 Z" fill="#000"/>
<rect x="15" y="739.3" width="45.3" height="47" rx="7.7" fill="#f01414"/>
<path d="M37.5 741 Q37.5 734.5 44 734.5 Q50.5 734.5 50.5 741 Z" fill="#f01414"/>
<path d="M40.5 740.5 Q40.5 737.5 44 737.5 Q47.5 737.5 47.5 740.5 Z" fill="#000"/>
<path d="M23.5 748.2 H32 L37.8 753.2 L43.8 748.2 H52.2 V758.7 H48.3 V763.3 H27.4 V758.7 H23.5 Z" fill="#000"/>
<path d="M27.4 763.3 V757.5 H27.4 V753.8 H30.4 V756 H33 V753.8 H36 V756 H38.6 V753.8 H41.6 V756 H44 V753.8 H47 V757.5 H48.3 V763.3 Z" fill="#fff"/>
<rect x="23.5" y="768" width="28.7" height="9.6" fill="#000"/>
<text x="66" y="757.2" textLength="137" lengthAdjust="spacingAndGlyphs" style="font-family:'Liberation Sans',sans-serif;font-size:22.5px;fill:#fff">PRINTABLE</text>
<text x="66.6" y="784" textLength="134.6" lengthAdjust="spacingAndGlyphs" style="font-family:'Liberation Sans',sans-serif;font-weight:bold;font-size:27px;fill:#fff">SCENERY</text>
</g>

<!-- COPYRIGHT -->
<g id="copy">
<circle cx="449.2" cy="776.6" r="13.4" fill="none" stroke="#111" stroke-width="3.6"/>
<path d="M455.5 771.5 A7.2 7.2 0 1 0 455.5 781.7" fill="none" stroke="#111" stroke-width="3.2"/>
<text x="475" y="783.8" textLength="315" lengthAdjust="spacingAndGlyphs" style="font-family:'Liberation Sans',sans-serif;font-weight:bold;font-size:24.5px;fill:#1a1a1a">www.printablescenery.com</text>
</g>
</svg>
</body></html>
